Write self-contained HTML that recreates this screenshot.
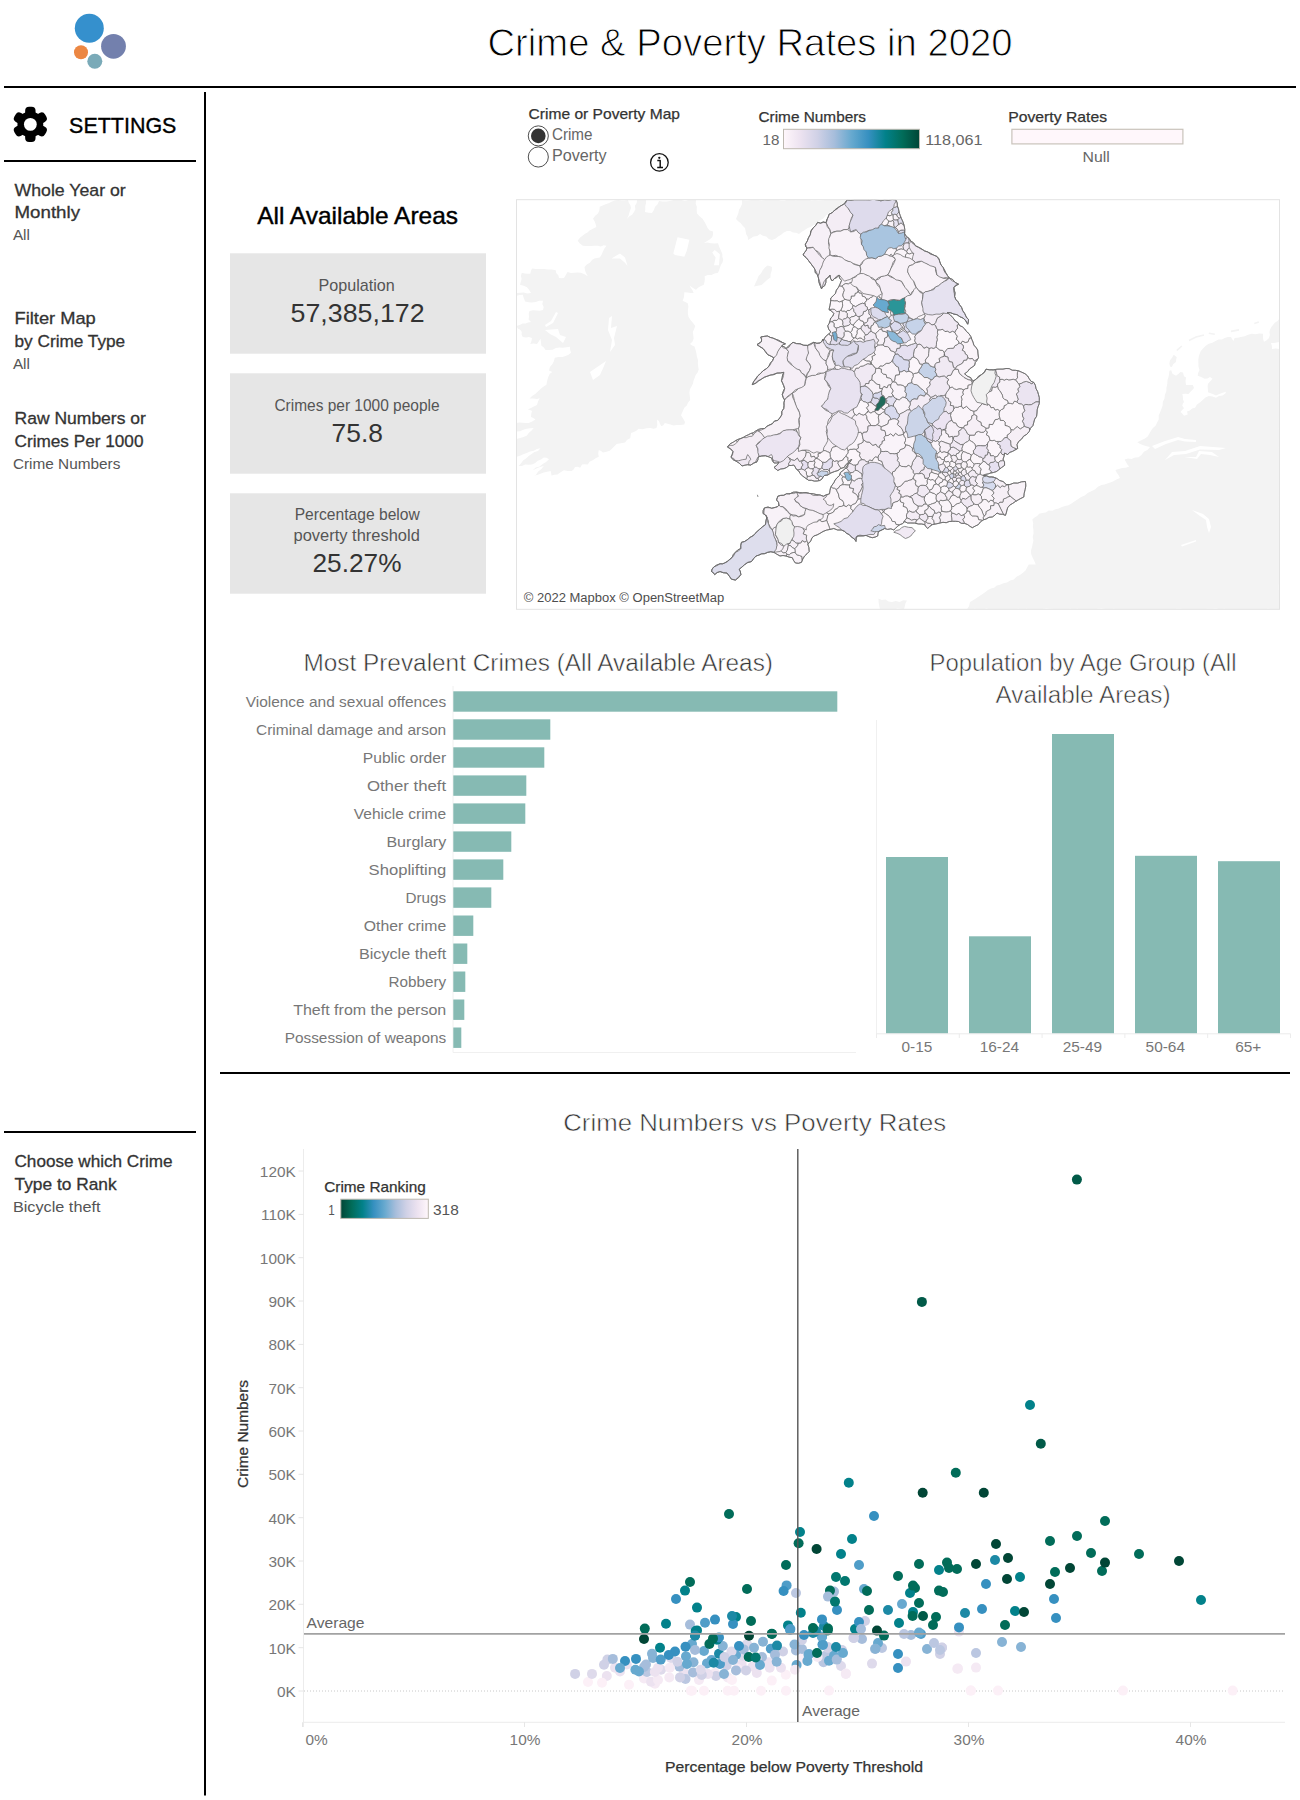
<!DOCTYPE html>
<html lang="en"><head><meta charset="utf-8"><title>Crime &amp; Poverty Rates in 2020</title>
<style>html,body{margin:0;padding:0;background:#fff}body{width:1300px;height:1800px;overflow:hidden}svg{display:block}text{font-family:"Liberation Sans", sans-serif}</style>
</head><body>
<svg width="1300" height="1800" viewBox="0 0 1300 1800">
<defs>
<linearGradient id="pubugn" x1="0" x2="1" y1="0" y2="0">
<stop offset="0.0000" stop-color="#fff7fb"/>
<stop offset="0.1250" stop-color="#ece2f0"/>
<stop offset="0.2500" stop-color="#d0d1e6"/>
<stop offset="0.3750" stop-color="#a6bddb"/>
<stop offset="0.5000" stop-color="#67a9cf"/>
<stop offset="0.6250" stop-color="#3690c0"/>
<stop offset="0.7500" stop-color="#02818a"/>
<stop offset="0.8750" stop-color="#016c59"/>
<stop offset="1.0000" stop-color="#014636"/>
</linearGradient>
<linearGradient id="pubugnr" x1="1" x2="0" y1="0" y2="0">
<stop offset="0.0000" stop-color="#fff7fb"/>
<stop offset="0.1250" stop-color="#ece2f0"/>
<stop offset="0.2500" stop-color="#d0d1e6"/>
<stop offset="0.3750" stop-color="#a6bddb"/>
<stop offset="0.5000" stop-color="#67a9cf"/>
<stop offset="0.6250" stop-color="#3690c0"/>
<stop offset="0.7500" stop-color="#02818a"/>
<stop offset="0.8750" stop-color="#016c59"/>
<stop offset="1.0000" stop-color="#014636"/>
</linearGradient>
</defs>
<rect width="1300" height="1800" fill="#fff"/>
<g id="logo">
<circle cx="89.3" cy="28.3" r="14.5" fill="#3590cd"/>
<circle cx="113.5" cy="46.3" r="12.4" fill="#7380ad"/>
<circle cx="81" cy="52.3" r="7" fill="#ec8743"/>
<circle cx="94.8" cy="61.3" r="7.5" fill="#7aaab8"/>
</g>
<text x="487.5" y="56.4" font-size="39.3" fill="#000" textLength="525.0" lengthAdjust="spacingAndGlyphs" stroke="#fff" stroke-width="1.0">Crime &amp; Poverty Rates in 2020</text>
<line x1="4.0" y1="87.0" x2="1296.0" y2="87.0" stroke="#000" stroke-width="2"/>
<line x1="205.0" y1="92.0" x2="205.0" y2="1795.5" stroke="#000" stroke-width="2"/>
<g id="gear" transform="translate(30.35,124.4)" fill="#000">
<rect x="-5.2" y="-17.7" width="10.4" height="13" rx="4" transform="rotate(0)"/>
<rect x="-5.2" y="-17.7" width="10.4" height="13" rx="4" transform="rotate(60)"/>
<rect x="-5.2" y="-17.7" width="10.4" height="13" rx="4" transform="rotate(120)"/>
<rect x="-5.2" y="-17.7" width="10.4" height="13" rx="4" transform="rotate(180)"/>
<rect x="-5.2" y="-17.7" width="10.4" height="13" rx="4" transform="rotate(240)"/>
<rect x="-5.2" y="-17.7" width="10.4" height="13" rx="4" transform="rotate(300)"/>
<path fill-rule="evenodd" d="M0,-12.9A12.9,12.9 0 1 1 0,12.9A12.9,12.9 0 1 1 0,-12.9Z"/>
<circle cx="0" cy="0" r="6.4" fill="#fff"/>
</g>
<text x="69.1" y="133.0" font-size="22.4" fill="#000" textLength="107.3" lengthAdjust="spacingAndGlyphs" stroke="#000" stroke-width="0.35">SETTINGS</text>
<line x1="4.0" y1="161.0" x2="196.0" y2="161.0" stroke="#000" stroke-width="2"/>
<text x="14.5" y="195.5" font-size="16.8" fill="#333" textLength="111.2" lengthAdjust="spacingAndGlyphs" stroke="#333" stroke-width="0.3">Whole Year or</text>
<text x="14.5" y="218.1" font-size="16.8" fill="#333" textLength="65.5" lengthAdjust="spacingAndGlyphs" stroke="#333" stroke-width="0.3">Monthly</text>
<text x="12.9" y="240.4" font-size="14.4" fill="#555" textLength="17.0" lengthAdjust="spacingAndGlyphs">All</text>
<text x="14.5" y="323.9" font-size="16.8" fill="#333" textLength="81.3" lengthAdjust="spacingAndGlyphs" stroke="#333" stroke-width="0.3">Filter Map</text>
<text x="14.5" y="346.8" font-size="16.8" fill="#333" textLength="110.7" lengthAdjust="spacingAndGlyphs" stroke="#333" stroke-width="0.3">by Crime Type</text>
<text x="12.9" y="368.7" font-size="14.4" fill="#555" textLength="17.0" lengthAdjust="spacingAndGlyphs">All</text>
<text x="14.5" y="423.6" font-size="16.8" fill="#333" textLength="131.4" lengthAdjust="spacingAndGlyphs" stroke="#333" stroke-width="0.3">Raw Numbers or</text>
<text x="14.5" y="446.7" font-size="16.8" fill="#333" textLength="129.0" lengthAdjust="spacingAndGlyphs" stroke="#333" stroke-width="0.3">Crimes Per 1000</text>
<text x="12.9" y="468.5" font-size="14.4" fill="#555" textLength="107.5" lengthAdjust="spacingAndGlyphs">Crime Numbers</text>
<line x1="4.0" y1="1132.0" x2="196.0" y2="1132.0" stroke="#000" stroke-width="2"/>
<text x="14.5" y="1166.5" font-size="16.8" fill="#333" textLength="158.0" lengthAdjust="spacingAndGlyphs" stroke="#333" stroke-width="0.3">Choose which Crime</text>
<text x="14.5" y="1189.5" font-size="16.8" fill="#333" textLength="102.1" lengthAdjust="spacingAndGlyphs" stroke="#333" stroke-width="0.3">Type to Rank</text>
<text x="12.9" y="1211.8" font-size="14.4" fill="#555" textLength="87.6" lengthAdjust="spacingAndGlyphs">Bicycle theft</text>
<text x="528.6" y="119.0" font-size="14.8" fill="#333" textLength="151.4" lengthAdjust="spacingAndGlyphs" stroke="#333" stroke-width="0.25">Crime or Poverty Map</text>
<circle cx="538.3" cy="135.9" r="10.05" fill="#fff" stroke="#3c3c3c" stroke-width="0.9"/>
<circle cx="538.3" cy="135.9" r="7.3" fill="#333"/>
<circle cx="538.3" cy="157" r="10.05" fill="#fff" stroke="#3c3c3c" stroke-width="0.9"/>
<text x="551.9" y="139.7" font-size="15.6" fill="#666" textLength="40.6" lengthAdjust="spacingAndGlyphs">Crime</text>
<text x="551.9" y="160.8" font-size="15.6" fill="#666" textLength="54.8" lengthAdjust="spacingAndGlyphs">Poverty</text>
<circle cx="659.4" cy="162.4" r="8.8" fill="#fff" stroke="#111" stroke-width="1.3"/>
<path d="M657.3,160.5h2.9v6.9M657.2,167.4h5.8" fill="none" stroke="#111" stroke-width="1.45" stroke-linejoin="round"/>
<circle cx="659.3" cy="157.8" r="1.15" fill="#111"/>
<text x="758.5" y="122.0" font-size="14.8" fill="#333" textLength="107.5" lengthAdjust="spacingAndGlyphs" stroke="#333" stroke-width="0.25">Crime Numbers</text>
<text x="762.5" y="145.2" font-size="14.8" fill="#666" textLength="16.9" lengthAdjust="spacingAndGlyphs">18</text>
<rect x="783.5" y="129.3" width="136" height="19.4" fill="url(#pubugn)" stroke="#bdb8b0" stroke-width="1"/>
<text x="925.2" y="145.2" font-size="14.8" fill="#666" textLength="57.3" lengthAdjust="spacingAndGlyphs">118,061</text>
<text x="1008.3" y="122.0" font-size="14.8" fill="#333" textLength="98.7" lengthAdjust="spacingAndGlyphs" stroke="#333" stroke-width="0.25">Poverty Rates</text>
<rect x="1011.9" y="129.3" width="171" height="14.6" fill="#fff7fb" stroke="#c9c3bb" stroke-width="1.2"/>
<text x="1082.5" y="162.0" font-size="14.8" fill="#666" textLength="27.3" lengthAdjust="spacingAndGlyphs">Null</text>
<text x="257.2" y="223.9" font-size="23.2" fill="#000" textLength="200.8" lengthAdjust="spacingAndGlyphs" stroke="#000" stroke-width="0.4">All Available Areas</text>
<rect x="230.0" y="253.3" width="256.0" height="100.4" fill="#e6e6e6"/>
<rect x="230.0" y="373.3" width="256.0" height="100.4" fill="#e6e6e6"/>
<rect x="230.0" y="493.3" width="256.0" height="100.4" fill="#e6e6e6"/>
<text x="318.5" y="290.6" font-size="16.2" fill="#555" textLength="76.3" lengthAdjust="spacingAndGlyphs">Population</text>
<text x="290.6" y="321.6" font-size="25.4" fill="#333" textLength="134.0" lengthAdjust="spacingAndGlyphs">57,385,172</text>
<text x="274.4" y="410.6" font-size="16.2" fill="#555" textLength="165.2" lengthAdjust="spacingAndGlyphs">Crimes per 1000 people</text>
<text x="331.6" y="441.6" font-size="25.4" fill="#333" textLength="51.3" lengthAdjust="spacingAndGlyphs">75.8</text>
<text x="294.7" y="520.3" font-size="16.2" fill="#555" textLength="125.1" lengthAdjust="spacingAndGlyphs">Percentage below</text>
<text x="293.5" y="541.1" font-size="16.2" fill="#555" textLength="126.3" lengthAdjust="spacingAndGlyphs">poverty threshold</text>
<text x="312.5" y="572.3" font-size="25.4" fill="#333" textLength="89.0" lengthAdjust="spacingAndGlyphs">25.27%</text>
<text x="303.4" y="670.6" font-size="23.3" fill="#333" textLength="469.6" lengthAdjust="spacingAndGlyphs" stroke="#fff" stroke-width="0.5">Most Prevalent Crimes (All Available Areas)</text>
<line x1="453.0" y1="686.0" x2="453.0" y2="1052.5" stroke="#f0f0f0" stroke-width="1"/>
<line x1="453.0" y1="1052.5" x2="856.0" y2="1052.5" stroke="#f0f0f0" stroke-width="1"/>
<rect x="453.3" y="691.3" width="384.0" height="20.4" fill="#86bab3"/>
<text x="245.7" y="706.7" font-size="15" fill="#777" textLength="200.5" lengthAdjust="spacingAndGlyphs">Violence and sexual offences</text>
<rect x="453.3" y="719.3" width="97.0" height="20.4" fill="#86bab3"/>
<text x="256.0" y="734.7" font-size="15" fill="#777" textLength="190.2" lengthAdjust="spacingAndGlyphs">Criminal damage and arson</text>
<rect x="453.3" y="747.3" width="91.0" height="20.4" fill="#86bab3"/>
<text x="362.8" y="762.7" font-size="15" fill="#777" textLength="83.4" lengthAdjust="spacingAndGlyphs">Public order</text>
<rect x="453.3" y="775.4" width="73.0" height="20.4" fill="#86bab3"/>
<text x="366.9" y="790.8" font-size="15" fill="#777" textLength="79.3" lengthAdjust="spacingAndGlyphs">Other theft</text>
<rect x="453.3" y="803.4" width="72.0" height="20.4" fill="#86bab3"/>
<text x="353.8" y="818.8" font-size="15" fill="#777" textLength="92.4" lengthAdjust="spacingAndGlyphs">Vehicle crime</text>
<rect x="453.3" y="831.4" width="58.0" height="20.4" fill="#86bab3"/>
<text x="386.4" y="846.8" font-size="15" fill="#777" textLength="59.8" lengthAdjust="spacingAndGlyphs">Burglary</text>
<rect x="453.3" y="859.4" width="50.0" height="20.4" fill="#86bab3"/>
<text x="368.6" y="874.8" font-size="15" fill="#777" textLength="77.6" lengthAdjust="spacingAndGlyphs">Shoplifting</text>
<rect x="453.3" y="887.4" width="38.0" height="20.4" fill="#86bab3"/>
<text x="405.5" y="902.8" font-size="15" fill="#777" textLength="40.7" lengthAdjust="spacingAndGlyphs">Drugs</text>
<rect x="453.3" y="915.5" width="20.0" height="20.4" fill="#86bab3"/>
<text x="363.8" y="930.9" font-size="15" fill="#777" textLength="82.4" lengthAdjust="spacingAndGlyphs">Other crime</text>
<rect x="453.3" y="943.5" width="14.0" height="20.4" fill="#86bab3"/>
<text x="358.9" y="958.9" font-size="15" fill="#777" textLength="87.3" lengthAdjust="spacingAndGlyphs">Bicycle theft</text>
<rect x="453.3" y="971.5" width="12.0" height="20.4" fill="#86bab3"/>
<text x="388.5" y="986.9" font-size="15" fill="#777" textLength="57.7" lengthAdjust="spacingAndGlyphs">Robbery</text>
<rect x="453.3" y="999.5" width="11.0" height="20.4" fill="#86bab3"/>
<text x="293.2" y="1014.9" font-size="15" fill="#777" textLength="153.0" lengthAdjust="spacingAndGlyphs">Theft from the person</text>
<rect x="453.3" y="1027.5" width="8.0" height="20.4" fill="#86bab3"/>
<text x="284.7" y="1042.9" font-size="15" fill="#777" textLength="161.5" lengthAdjust="spacingAndGlyphs">Possession of weapons</text>
<text x="1083.0" y="671.3" font-size="23" fill="#333" text-anchor="middle" textLength="307.0" lengthAdjust="spacingAndGlyphs" stroke="#fff" stroke-width="0.55">Population by Age Group (All</text>
<text x="1083.0" y="702.8" font-size="23" fill="#333" text-anchor="middle" textLength="175.0" lengthAdjust="spacingAndGlyphs" stroke="#fff" stroke-width="0.55">Available Areas)</text>
<line x1="876.5" y1="720.0" x2="876.5" y2="1038.0" stroke="#f0f0f0" stroke-width="1"/>
<line x1="876.5" y1="1033.8" x2="1290.5" y2="1033.8" stroke="#ececec" stroke-width="1"/>
<rect x="886.0" y="857.0" width="62.0" height="176.2" fill="#86bab3"/>
<rect x="969.0" y="936.3" width="62.0" height="96.9" fill="#86bab3"/>
<rect x="1052.0" y="734.0" width="62.0" height="299.2" fill="#86bab3"/>
<rect x="1135.0" y="855.8" width="62.0" height="177.4" fill="#86bab3"/>
<rect x="1218.0" y="861.2" width="62.0" height="172.0" fill="#86bab3"/>
<line x1="876.5" y1="1033.8" x2="876.5" y2="1038.0" stroke="#ececec" stroke-width="1"/>
<line x1="959.3" y1="1033.8" x2="959.3" y2="1038.0" stroke="#ececec" stroke-width="1"/>
<line x1="1042.1" y1="1033.8" x2="1042.1" y2="1038.0" stroke="#ececec" stroke-width="1"/>
<line x1="1124.9" y1="1033.8" x2="1124.9" y2="1038.0" stroke="#ececec" stroke-width="1"/>
<line x1="1207.7" y1="1033.8" x2="1207.7" y2="1038.0" stroke="#ececec" stroke-width="1"/>
<line x1="1290.5" y1="1033.8" x2="1290.5" y2="1038.0" stroke="#ececec" stroke-width="1"/>
<text x="916.9" y="1052.0" font-size="15.4" fill="#777" text-anchor="middle">0-15</text>
<text x="999.4" y="1052.0" font-size="15.4" fill="#777" text-anchor="middle">16-24</text>
<text x="1082.4" y="1052.0" font-size="15.4" fill="#777" text-anchor="middle">25-49</text>
<text x="1165.3" y="1052.0" font-size="15.4" fill="#777" text-anchor="middle">50-64</text>
<text x="1248.2" y="1052.0" font-size="15.4" fill="#777" text-anchor="middle">65+</text>
<line x1="220.0" y1="1073.0" x2="1290.0" y2="1073.0" stroke="#000" stroke-width="2"/>
<text x="563.2" y="1130.7" font-size="24" fill="#333" textLength="383.0" lengthAdjust="spacingAndGlyphs" stroke="#fff" stroke-width="0.55">Crime Numbers vs Poverty Rates</text>
<line x1="303.5" y1="1149.0" x2="303.5" y2="1727.0" stroke="#ececec" stroke-width="1"/>
<line x1="303.5" y1="1722.3" x2="1285.0" y2="1722.3" stroke="#ececec" stroke-width="1"/>
<line x1="298.5" y1="1691.0" x2="303.5" y2="1691.0" stroke="#e6e6e6" stroke-width="1"/>
<text x="295.8" y="1697.0" font-size="15.4" fill="#777" text-anchor="end">0K</text>
<line x1="298.5" y1="1647.7" x2="303.5" y2="1647.7" stroke="#e6e6e6" stroke-width="1"/>
<text x="295.8" y="1653.7" font-size="15.4" fill="#777" text-anchor="end">10K</text>
<line x1="298.5" y1="1604.3" x2="303.5" y2="1604.3" stroke="#e6e6e6" stroke-width="1"/>
<text x="295.8" y="1610.3" font-size="15.4" fill="#777" text-anchor="end">20K</text>
<line x1="298.5" y1="1561.0" x2="303.5" y2="1561.0" stroke="#e6e6e6" stroke-width="1"/>
<text x="295.8" y="1567.0" font-size="15.4" fill="#777" text-anchor="end">30K</text>
<line x1="298.5" y1="1517.7" x2="303.5" y2="1517.7" stroke="#e6e6e6" stroke-width="1"/>
<text x="295.8" y="1523.7" font-size="15.4" fill="#777" text-anchor="end">40K</text>
<line x1="298.5" y1="1474.3" x2="303.5" y2="1474.3" stroke="#e6e6e6" stroke-width="1"/>
<text x="295.8" y="1480.3" font-size="15.4" fill="#777" text-anchor="end">50K</text>
<line x1="298.5" y1="1431.0" x2="303.5" y2="1431.0" stroke="#e6e6e6" stroke-width="1"/>
<text x="295.8" y="1437.0" font-size="15.4" fill="#777" text-anchor="end">60K</text>
<line x1="298.5" y1="1387.7" x2="303.5" y2="1387.7" stroke="#e6e6e6" stroke-width="1"/>
<text x="295.8" y="1393.7" font-size="15.4" fill="#777" text-anchor="end">70K</text>
<line x1="298.5" y1="1344.4" x2="303.5" y2="1344.4" stroke="#e6e6e6" stroke-width="1"/>
<text x="295.8" y="1350.4" font-size="15.4" fill="#777" text-anchor="end">80K</text>
<line x1="298.5" y1="1301.0" x2="303.5" y2="1301.0" stroke="#e6e6e6" stroke-width="1"/>
<text x="295.8" y="1307.0" font-size="15.4" fill="#777" text-anchor="end">90K</text>
<line x1="298.5" y1="1257.7" x2="303.5" y2="1257.7" stroke="#e6e6e6" stroke-width="1"/>
<text x="295.8" y="1263.7" font-size="15.4" fill="#777" text-anchor="end">100K</text>
<line x1="298.5" y1="1214.4" x2="303.5" y2="1214.4" stroke="#e6e6e6" stroke-width="1"/>
<text x="295.8" y="1220.4" font-size="15.4" fill="#777" text-anchor="end">110K</text>
<line x1="298.5" y1="1171.0" x2="303.5" y2="1171.0" stroke="#e6e6e6" stroke-width="1"/>
<text x="295.8" y="1177.0" font-size="15.4" fill="#777" text-anchor="end">120K</text>
<line x1="302.5" y1="1722.3" x2="302.5" y2="1727.0" stroke="#e6e6e6" stroke-width="1"/>
<text x="305.4" y="1745.0" font-size="15.4" fill="#777">0%</text>
<line x1="524.5" y1="1722.3" x2="524.5" y2="1727.0" stroke="#e6e6e6" stroke-width="1"/>
<text x="525.0" y="1745.0" font-size="15.4" fill="#777" text-anchor="middle">10%</text>
<line x1="746.5" y1="1722.3" x2="746.5" y2="1727.0" stroke="#e6e6e6" stroke-width="1"/>
<text x="747.0" y="1745.0" font-size="15.4" fill="#777" text-anchor="middle">20%</text>
<line x1="968.5" y1="1722.3" x2="968.5" y2="1727.0" stroke="#e6e6e6" stroke-width="1"/>
<text x="969.0" y="1745.0" font-size="15.4" fill="#777" text-anchor="middle">30%</text>
<line x1="1190.5" y1="1722.3" x2="1190.5" y2="1727.0" stroke="#e6e6e6" stroke-width="1"/>
<text x="1191.0" y="1745.0" font-size="15.4" fill="#777" text-anchor="middle">40%</text>
<text x="794.0" y="1772.3" font-size="14.8" fill="#333" text-anchor="middle" textLength="258.0" lengthAdjust="spacingAndGlyphs" stroke="#333" stroke-width="0.25">Percentage below Poverty Threshold</text>
<text transform="translate(247.6,1434) rotate(-90)" font-size="14.8" fill="#333" stroke="#333" stroke-width="0.25" text-anchor="middle" textLength="108" lengthAdjust="spacingAndGlyphs">Crime Numbers</text>
<text x="324.2" y="1191.5" font-size="14.8" fill="#333" textLength="101.6" lengthAdjust="spacingAndGlyphs" stroke="#333" stroke-width="0.25">Crime Ranking</text>
<text x="328.3" y="1214.8" font-size="14.8" fill="#555" textLength="6.5" lengthAdjust="spacingAndGlyphs">1</text>
<rect x="340.8" y="1199.2" width="87.5" height="19.2" fill="url(#pubugnr)" stroke="#bdb8b0" stroke-width="1"/>
<text x="433.0" y="1214.8" font-size="14.8" fill="#555" textLength="25.8" lengthAdjust="spacingAndGlyphs">318</text>
<g id="map">
<clipPath id="mapclip"><rect x="516.5" y="199.7" width="763.0" height="409.59999999999997"/></clipPath>
<g clip-path="url(#mapclip)">
<path d="M599.7,206.8L602.7,205.6L605.6,204.2L608.6,203.2L611.5,201.8L614.8,200.5L618.3,200.0L621.5,200.4L624.8,200.5L628.0,200.0L628.8,202.7L630.4,205.2L631.0,208.0L629.6,211.7L628.6,215.4L627.0,219.0L629.1,216.4L632.1,214.8L634.0,212.0L635.4,209.2L634.9,205.8L636.7,203.1L637.0,200.0L640.0,200.1L643.0,199.8L646.0,200.0L646.1,203.0L645.3,206.0L645.3,209.0L645.0,212.0L648.5,212.8L652.0,213.0L653.9,210.1L655.1,206.7L657.6,204.2L659.0,201.0L662.7,201.6L666.4,201.5L670.1,200.9L673.8,200.0L677.5,199.8L681.2,199.9L684.9,200.9L688.6,199.9L692.3,199.9L696.0,200.0L695.7,203.4L696.8,206.8L696.7,210.2L697.0,213.6L699.6,216.3L702.5,218.8L704.6,222.0L706.2,224.9L707.6,227.9L709.7,230.5L713.0,231.4L713.1,234.4L712.2,237.3L709.6,239.6L706.7,241.3L703.8,243.2L707.3,242.6L710.9,243.2L714.5,243.6L718.0,243.2L719.3,246.9L720.9,250.6L722.4,254.2L722.3,256.8L723.2,259.3L722.6,262.3L720.9,264.9L719.9,267.8L719.1,270.4L718.0,272.8L714.6,273.5L711.4,275.0L707.9,275.0L704.6,276.2L704.9,279.1L704.5,281.9L703.8,284.7L701.0,286.0L698.3,287.6L696.0,289.8L692.6,287.7L689.4,285.5L690.9,287.9L692.5,290.3L693.6,293.0L690.5,293.1L687.4,292.4L684.3,292.3L684.2,295.2L683.7,298.1L682.6,300.8L685.2,302.0L687.7,303.3L688.4,306.6L687.9,310.1L687.9,313.5L688.5,316.8L690.5,320.1L693.1,322.9L695.3,326.0L694.2,329.1L692.8,332.0L693.3,335.4L693.6,338.8L692.4,341.8L690.0,344.0L692.1,345.5L694.5,346.5L695.6,349.9L696.4,353.4L697.0,357.0L698.0,360.1L697.9,363.3L698.2,366.5L698.7,369.6L697.6,372.4L695.7,374.9L694.7,377.7L693.6,380.6L692.9,383.7L691.5,386.5L689.9,389.3L689.4,392.5L689.8,396.3L690.2,400.0L688.1,402.5L686.8,405.5L684.3,407.7L683.2,410.2L682.1,412.8L681.0,415.3L683.1,418.6L685.0,422.0L684.3,424.6L680.6,425.0L677.0,425.1L673.3,425.5L670.5,424.6L667.6,423.8L664.8,423.0L663.5,425.0L661.5,426.3L660.0,424.1L659.2,421.4L657.2,419.5L657.1,422.3L657.3,425.2L656.4,428.0L653.5,428.7L650.5,428.0L646.5,428.2L642.6,429.2L638.6,428.8L636.3,430.7L633.8,432.1L631.0,433.0L630.7,435.6L630.2,438.2L627.2,439.8L625.0,442.4L622.2,443.0L619.4,443.5L616.6,444.0L614.4,446.3L612.1,448.5L609.8,450.8L606.4,451.7L603.0,452.5L601.1,451.0L598.8,450.0L598.2,453.4L598.8,456.8L595.6,458.2L592.7,460.2L589.5,461.8L587.8,464.4L584.9,464.2L582.0,464.4L580.2,467.8L577.7,466.8L575.0,467.0L573.8,469.3L571.8,471.0L567.9,471.0L564.0,470.3L560.6,472.3L557.4,474.5L554.4,474.7L551.5,475.4L551.2,473.2L550.6,471.0L547.2,471.8L543.7,472.4L540.5,473.7L537.9,474.8L535.2,475.5L532.8,477.0L536.0,474.7L538.2,471.4L541.4,469.1L543.8,466.0L540.0,467.1L536.3,468.4L532.8,470.3L535.7,467.6L539.6,466.4L542.7,464.0L546.1,462.0L549.0,459.3L546.6,457.8L543.8,457.6L541.0,459.6L537.8,460.8L535.2,463.1L532.0,464.4L528.6,464.7L525.2,464.6L521.9,466.0L518.5,466.0L520.9,463.4L523.1,460.6L526.0,458.5L528.7,456.1L531.6,454.1L534.4,451.9L538.0,450.9L540.5,448.3L536.9,449.0L533.7,450.8L530.1,451.6L526.7,452.9L523.3,454.3L520.0,455.7L516.5,456.8L516.7,453.2L516.6,449.7L516.2,446.1L516.3,442.6L516.5,439.0L520.1,438.0L523.6,436.9L527.0,435.6L528.9,432.8L531.6,430.6L533.7,428.0L530.2,428.2L526.7,428.8L523.3,429.8L520.1,431.3L516.5,431.4L516.4,428.6L515.9,425.8L516.5,423.0L519.5,422.4L522.5,422.7L525.6,422.9L528.6,423.0L532.2,421.6L535.4,419.5L533.3,418.1L531.0,417.0L531.2,413.9L532.0,411.0L530.0,409.9L527.8,409.4L530.9,407.9L533.9,406.5L537.0,405.0L538.0,401.6L539.6,398.4L541.6,395.8L543.8,393.3L546.8,393.5L549.7,394.5L552.7,394.6L555.7,395.0L559.0,392.9L562.4,391.0L565.8,389.0L567.1,386.5L568.4,384.0L569.5,386.6L571.0,389.0L574.7,390.0L578.5,390.4L575.2,391.2L572.3,392.9L569.2,394.0L565.7,394.7L562.2,395.6L558.9,396.6L555.7,398.4L552.0,398.1L548.2,399.0L544.5,397.9L540.7,397.9L537.0,399.1L533.2,398.6L529.5,398.4L532.1,395.9L535.2,394.0L537.9,391.5L540.5,389.0L543.3,386.7L546.4,384.8L547.1,381.0L548.2,377.3L549.8,373.8L552.3,372.0L549.0,370.5L549.9,367.1L552.3,364.3L553.9,361.2L554.8,357.8L558.6,357.0L562.5,357.0L565.5,355.9L568.5,354.7L571.0,352.7L570.1,349.8L570.0,346.8L566.5,347.2L563.0,347.8L559.4,347.5L555.9,348.1L552.6,349.8L549.1,350.0L545.5,350.0L543.8,347.5L541.3,345.6L541.0,342.2L540.5,338.8L538.7,341.4L537.0,344.0L533.6,343.6L530.3,344.0L531.5,341.1L532.0,338.0L529.0,337.0L525.8,337.6L522.7,337.0L521.6,334.6L521.8,332.0L520.2,329.8L517.8,328.4L516.5,326.0L519.6,324.9L522.7,323.6L525.6,323.6L528.2,322.4L531.0,322.0L528.6,319.4L529.0,316.6L528.7,313.8L529.5,311.0L532.8,310.3L536.3,310.6L539.7,310.8L543.0,310.0L543.7,306.9L542.3,303.9L543.0,300.8L539.2,300.8L535.7,301.9L532.0,302.5L528.6,302.3L525.2,301.6L523.8,298.2L522.7,294.8L519.6,295.1L516.5,295.7L516.5,293.0L520.1,292.8L523.8,292.5L527.4,293.5L531.0,293.0L529.2,289.9L527.0,287.2L523.6,285.8L520.0,284.7L520.8,281.8L521.6,278.9L520.9,275.7L521.8,272.8L524.6,273.6L527.4,273.8L530.3,273.7L530.9,271.1L532.0,268.6L535.9,269.0L539.9,269.1L543.9,269.0L547.8,269.6L551.8,269.5L555.7,270.3L556.2,273.1L558.3,275.3L559.0,278.0L561.5,278.2L564.0,278.0L565.8,275.0L567.5,272.0L570.8,272.9L574.2,272.8L577.6,272.4L581.0,272.8L584.5,274.3L587.8,276.2L586.1,273.3L585.0,270.3L584.5,267.0L586.8,264.5L589.9,262.8L592.0,260.0L594.4,258.6L597.0,258.0L599.7,257.6L601.6,254.7L602.9,251.6L604.4,248.5L606.5,245.8L603.7,245.2L600.8,246.4L598.0,245.8L594.2,245.7L590.4,245.9L586.6,246.0L582.8,245.8L579.9,243.6L577.7,240.7L579.9,237.8L582.8,235.6L585.0,233.8L587.5,232.5L589.5,230.5L592.9,228.7L596.3,227.0L595.6,224.1L594.6,221.3L593.0,218.7L595.2,215.8L598.0,213.6L599.4,210.3Z" fill="#f3f3f3"/>
<path d="M742.0,200.0L742.1,202.0L742.0,204.0L740.7,207.0L739.0,209.8L738.4,213.0L737.2,216.0L736.0,219.0L738.2,221.3L740.8,223.2L742.7,225.8L745.0,228.0L745.6,231.0L746.1,234.1L747.8,236.9L748.0,240.0L750.9,238.3L753.7,236.5L757.2,235.9L760.0,234.0L762.9,235.7L766.3,236.4L768.7,239.1L772.0,240.0L775.3,238.8L778.1,236.6L781.1,234.7L783.8,232.4L787.0,231.0L790.2,231.1L793.0,232.5L796.1,232.7L799.0,234.0L801.8,231.8L804.8,230.1L807.7,228.0L811.0,226.8L814.0,225.0L817.0,222.7L820.0,220.5L823.3,218.4L826.0,215.5L829.0,213.0L832.1,211.1L835.0,208.8L838.1,206.9L841.0,204.6L844.0,202.5L846.0,200.0L842.1,200.3L838.3,199.3L834.4,199.3L830.6,199.5L826.7,199.7L822.9,200.3L819.0,200.4L815.2,200.3L811.3,200.6L807.5,199.6L803.6,200.1L799.8,199.5L795.9,200.2L792.1,199.4L788.2,199.5L784.4,200.7L780.5,200.4L776.7,199.4L772.8,200.0L769.0,199.3L765.1,200.1L761.3,200.6L757.4,199.8L753.6,199.6L749.7,200.3L745.9,200.6Z" fill="#f3f3f3"/>
<path d="M754.0,286.5L755.5,283.0L757.2,279.6L758.5,276.0L760.9,273.5L762.6,270.4L764.7,267.7L767.5,265.5L769.8,266.1L772.0,267.0L771.8,270.5L770.6,273.9L770.5,277.5L767.3,279.8L764.4,282.4L761.5,285.0L757.7,285.7Z" fill="#f3f3f3"/>
<path d="M1279.5,318.5L1277.5,321.0L1274.8,322.8L1272.8,325.2L1271.3,327.0L1270.3,329.0L1269.4,331.9L1269.9,335.1L1269.0,338.0L1266.7,340.2L1264.0,341.8L1263.2,339.2L1263.0,336.5L1263.0,333.8L1259.3,333.5L1255.5,334.3L1251.8,333.8L1248.1,334.8L1244.6,336.3L1240.8,337.0L1237.7,337.8L1234.6,338.0L1233.4,341.0L1232.1,339.0L1231.0,337.0L1227.8,337.1L1224.8,338.1L1221.8,339.5L1218.6,339.4L1215.5,341.1L1212.3,342.7L1208.8,343.7L1205.8,345.7L1203.2,348.2L1200.8,351.0L1199.6,354.0L1198.7,357.1L1198.3,360.3L1198.4,363.6L1198.5,366.8L1199.5,370.0L1198.2,372.7L1197.7,375.7L1201.2,376.9L1204.5,378.8L1207.4,378.4L1210.0,377.0L1212.5,378.8L1210.3,381.3L1208.0,383.7L1207.6,386.6L1207.9,389.4L1208.0,392.3L1210.7,393.2L1213.4,394.2L1216.0,395.4L1219.3,394.1L1222.6,392.7L1226.0,391.7L1225.4,393.5L1222.5,395.4L1218.9,396.0L1216.0,397.8L1212.5,396.5L1208.8,396.0L1205.4,397.6L1202.7,400.1L1199.9,402.4L1197.0,404.6L1195.0,407.7L1192.2,408.6L1189.9,410.6L1187.0,411.4L1187.8,414.5L1184.0,415.7L1182.4,413.7L1180.5,412.0L1182.2,410.1L1184.0,408.3L1182.3,405.8L1182.7,403.7L1184.0,402.0L1183.0,399.4L1182.9,396.7L1182.3,394.0L1185.4,393.7L1188.5,394.0L1190.3,392.0L1192.3,390.1L1194.0,388.0L1192.8,385.0L1189.4,385.1L1186.0,385.0L1185.5,381.2L1186.0,377.5L1184.0,376.3L1183.0,372.6L1180.5,372.0L1178.3,373.9L1176.0,375.7L1172.5,373.8L1171.2,370.2L1169.4,370.8L1169.1,373.9L1168.5,377.0L1167.5,380.0L1167.3,383.8L1166.5,387.4L1166.3,391.2L1164.9,394.8L1164.5,398.5L1162.9,401.8L1162.6,405.4L1161.5,408.8L1160.1,412.2L1158.7,415.6L1158.7,419.4L1157.0,422.7L1155.6,425.7L1152.9,428.0L1151.0,430.7L1149.4,433.6L1147.7,436.5L1144.5,438.8L1140.8,440.5L1137.3,442.3L1140.3,444.0L1143.5,445.2L1146.7,446.2L1150.0,447.0L1147.4,449.9L1143.9,451.8L1141.5,454.9L1138.5,457.3L1135.0,457.6L1131.6,459.0L1128.0,458.4L1124.6,459.6L1126.0,462.0L1127.4,464.4L1129.2,466.5L1125.8,467.8L1122.3,468.1L1118.8,469.0L1115.4,470.0L1116.8,472.7L1118.6,475.2L1120.0,478.0L1116.4,479.5L1113.0,481.5L1110.2,482.6L1107.3,483.5L1104.5,484.6L1101.5,485.0L1097.9,486.8L1094.9,489.5L1091.3,491.3L1087.7,493.0L1084.8,495.6L1081.1,497.0L1077.9,499.2L1074.7,501.3L1071.5,503.5L1068.5,505.2L1065.1,505.9L1061.9,507.1L1058.8,508.6L1055.4,509.2L1052.4,510.8L1048.7,510.4L1045.8,512.5L1042.5,513.1L1039.2,513.8L1037.1,516.0L1034.5,517.6L1032.3,519.6L1033.2,523.0L1032.9,526.5L1033.4,530.0L1033.5,533.5L1032.7,536.9L1033.4,540.5L1032.6,543.9L1032.0,547.3L1030.9,550.7L1031.2,554.2L1032.7,557.7L1034.3,561.1L1035.8,564.6L1032.3,564.4L1028.8,564.6L1027.1,567.5L1025.5,570.4L1023.0,572.7L1019.9,575.0L1016.5,576.8L1013.8,579.6L1010.2,580.6L1007.0,582.5L1003.4,583.2L1000.0,584.7L996.8,585.6L994.1,587.7L991.0,588.6L988.0,590.0L985.1,592.2L982.2,594.3L979.2,596.2L976.2,598.3L973.1,600.2L970.0,602.0L969.1,605.9L967.0,609.3L971.0,609.2L974.9,608.7L978.9,609.7L982.8,609.4L986.8,608.6L990.7,609.7L994.7,608.9L998.6,609.3L1002.6,609.4L1006.6,609.1L1010.5,609.0L1014.5,609.2L1018.4,608.8L1022.4,609.8L1026.3,608.8L1030.3,609.8L1034.2,608.9L1038.2,609.0L1042.2,609.1L1046.1,608.6L1050.1,608.8L1054.0,609.1L1058.0,609.2L1061.9,609.8L1065.9,610.0L1069.8,608.7L1073.8,609.3L1077.8,608.8L1081.7,609.7L1085.7,609.1L1089.6,609.9L1093.6,609.4L1097.5,608.8L1101.5,608.6L1105.4,608.9L1109.4,609.8L1113.4,608.8L1117.3,609.3L1121.3,609.1L1125.2,609.1L1129.2,609.7L1133.1,608.9L1137.1,609.6L1141.1,609.5L1145.0,609.9L1149.0,609.3L1152.9,609.9L1156.9,609.2L1160.8,609.4L1164.8,609.5L1168.7,609.8L1172.7,609.9L1176.7,608.8L1180.6,608.8L1184.6,609.3L1188.5,609.7L1192.5,609.3L1196.4,609.0L1200.4,609.9L1204.3,609.0L1208.3,608.7L1212.3,608.7L1216.2,608.6L1220.2,609.6L1224.1,608.8L1228.1,609.6L1232.0,609.8L1236.0,610.0L1239.9,609.7L1243.9,609.2L1247.9,609.5L1251.8,609.8L1255.8,609.6L1259.7,609.0L1263.7,609.7L1267.6,608.8L1271.6,609.0L1275.5,610.0L1279.5,609.3L1279.5,605.4L1279.2,601.4L1279.9,597.5L1279.4,593.5L1278.8,589.6L1278.8,585.6L1279.2,581.7L1279.3,577.7L1280.1,573.8L1279.1,569.9L1280.0,565.9L1280.0,562.0L1279.4,558.0L1280.2,554.1L1279.9,550.1L1279.5,546.2L1279.2,542.3L1279.4,538.3L1280.1,534.4L1279.6,530.4L1279.1,526.5L1279.3,522.5L1279.5,518.6L1279.1,514.6L1279.6,510.7L1278.8,506.8L1279.9,502.8L1279.1,498.9L1278.9,494.9L1279.6,491.0L1279.2,487.0L1280.0,483.1L1279.5,479.1L1279.5,475.2L1280.0,471.3L1279.1,467.3L1279.8,463.4L1279.7,459.4L1279.4,455.5L1280.1,451.5L1278.8,447.6L1280.0,443.7L1279.0,439.7L1280.0,435.8L1279.0,431.8L1278.9,427.9L1279.5,423.9L1280.1,420.0L1279.2,416.0L1279.5,412.1L1279.7,408.2L1279.1,404.2L1279.5,400.3L1278.8,396.3L1279.4,392.4L1279.9,388.4L1279.3,384.5L1279.1,380.6L1278.9,376.6L1279.8,372.7L1279.4,368.7L1280.1,364.8L1279.8,360.8L1278.9,356.9L1280.1,352.9L1279.5,349.0L1275.8,348.4L1272.0,349.0L1271.9,345.9L1271.0,343.0L1273.9,343.1L1276.7,342.6L1279.5,342.0L1279.8,338.1L1279.7,334.2L1279.6,330.2L1279.2,326.3L1279.0,322.4Z" fill="#f3f3f3"/>
<path d="M1170.0,366.5L1169.4,363.4L1170.0,360.3L1172.1,357.7L1173.7,354.8L1176.8,357.2L1176.2,359.6L1176.0,362.0L1173.4,364.1L1171.8,367.0Z" fill="#f3f3f3"/>
<path d="M878.5,598.4L881.7,599.9L885.4,599.5L888.5,601.4L892.0,602.0L895.7,601.1L899.6,601.9L903.2,600.2L907.0,600.5L905.5,603.3L904.8,606.3L904.0,609.3L900.6,608.8L897.1,608.6L893.7,609.7L890.3,609.5L886.9,609.0L883.4,609.6L880.0,609.3L879.2,605.7L878.6,602.1Z" fill="#f3f3f3"/>
<path d="M673.3,253.4L677.5,237.3L689.4,239.8L686.8,250.8L684.3,256.8L675.0,255.0Z" fill="#fff"/>
<path d="M712.2,252.5L714.8,250.0L719.9,254.2L719.0,265.2L714.0,265.2L715.6,257.6Z" fill="#fff"/>
<path d="M611.5,258.5L620.0,253.4L625.0,257.6L627.6,266.0L625.0,262.7L620.0,258.5Z" fill="#fff"/>
<path d="M609.0,318.0L612.0,316.0L611.0,328.0L617.0,326.0L614.0,338.0L615.0,345.0L610.0,352.0L612.0,340.0L608.0,330.0Z" fill="#fff"/>
<path d="M556.0,312.0L558.0,313.0L553.0,323.0L546.0,327.0L545.0,325.0L551.0,321.0Z" fill="#fff"/>
<path d="M545.0,330.0L558.0,329.0L560.0,335.0L566.0,337.0L563.0,343.0L556.0,337.0L550.0,334.0Z" fill="#fff"/>
<path d="M590.0,372.0L606.0,361.0L604.0,366.0L600.0,375.0L593.0,380.0Z" fill="#fff"/>
<path d="M1152.0,446.0L1165.0,441.0L1178.0,437.0L1185.0,439.0L1196.0,440.0L1196.0,442.0L1185.0,441.5L1178.0,440.0L1166.0,444.0L1155.0,449.0Z" fill="#fff"/>
<path d="M1165.0,460.0L1172.0,452.0L1185.0,451.0L1200.0,446.0L1213.0,447.0L1226.0,448.0L1219.0,450.0L1200.0,449.5L1186.0,454.0L1174.0,455.0Z" fill="#fff"/>
<path d="M1184.0,457.0L1196.0,457.0L1199.0,451.0L1212.0,452.0L1219.0,457.0L1210.0,455.0L1201.0,454.0L1197.0,459.0Z" fill="#fff"/>
<path d="M1192.0,510.0L1203.0,514.0L1209.0,519.0L1211.0,527.0L1209.0,533.0L1207.0,527.0L1206.0,520.0L1200.0,516.0Z" fill="#fff"/>
<path d="M1181.0,545.0L1196.0,540.0L1196.0,541.5L1182.0,546.5Z" fill="#fff"/>
<path d="M1176.8,350.5l5,-4.5M1189,340.5l7,-3.5l8,-2M1208.8,333.2l6,1M1231,331.4l8,-1.5M1254.3,323.4l4.5,-1.5" stroke="#f3f3f3" stroke-width="1.6" fill="none"/>
<g stroke="#6a6a6a" stroke-width="0.75" stroke-linejoin="round">
<path d="M817.7,270.0L820.6,272.1L823.1,271.7L825.5,270.3L828.1,270.2L829.8,268.4L832.0,267.0L833.9,265.3L834.4,262.6L835.6,260.4L836.0,257.7L834.7,255.6L831.6,254.3L832.1,251.5L830.6,249.5L830.7,246.9L830.0,244.6L827.7,242.9L827.7,240.3L810.4,233.6L810.3,234.6L808.5,237.7L807.3,241.1L805.4,244.2L805.5,246.4L807.0,248.0L806.1,250.6L804.4,252.7L803.0,255.0L806.0,257.4L808.4,260.4L810.7,263.4L813.0,266.5L814.9,269.1L815.2,272.5L815.5,272.8Z" fill="#f0e9f3"/>
<path d="M827.7,240.3L829.3,238.2L831.2,236.5L834.7,237.5L835.3,233.7L838.2,233.7L840.3,232.5L842.3,230.9L844.9,230.4L846.7,228.6L849.3,228.1L850.9,226.0L851.0,225.7L839.3,206.8L837.7,207.8L834.8,209.9L832.4,212.6L829.2,214.2L828.2,217.1L826.8,219.8L826.0,222.7L823.3,221.9L820.4,223.2L817.7,222.4L815.7,225.5L813.0,228.0L810.9,231.0L810.4,233.6Z" fill="#f7f1f7"/>
<path d="M861.7,330.3L863.4,331.7L864.5,333.4L865.5,335.2L867.8,334.4L869.2,332.4L871.2,331.3L871.0,329.8L870.7,328.3L868.5,327.9L868.0,325.0L864.9,326.0L863.9,323.8L863.0,325.4L861.2,326.4L860.9,328.4Z" fill="#f0e9f3"/>
<path d="M776.6,425.9L775.8,428.1L774.1,430.0L775.5,433.1L773.8,434.9L773.9,437.5L771.6,439.1L773.6,440.8L775.4,442.6L775.1,445.8L776.1,448.2L778.0,449.9L780.0,451.6L782.1,451.0L783.9,452.4L785.9,452.2L788.0,451.2L789.2,449.3L790.8,447.8L791.4,445.5L791.7,443.1L793.3,441.1L792.9,438.5L794.3,436.4L796.3,434.6L797.6,432.5L796.0,429.5L797.7,427.5L795.3,426.2L792.9,425.0L789.9,427.4L787.7,425.2L785.1,424.8L782.3,425.9L779.8,425.0L777.5,423.7Z" fill="#f0e9f3"/>
<path d="M881.9,311.2L881.4,313.7L882.3,316.1L880.6,318.6L881.1,321.0L882.1,321.8L884.2,321.7L886.3,321.7L888.3,321.2L888.7,318.9L889.7,316.8L891.5,315.3L890.6,313.5L890.8,311.5L889.7,309.9L887.5,309.2L885.0,310.4L883.3,307.1L880.8,308.1L880.1,308.9Z" fill="#f7f1f7"/>
<path d="M797.8,508.6L799.0,511.0L799.0,513.3L796.6,515.4L799.6,517.9L797.9,520.1L799.2,520.9L800.5,521.6L802.8,520.9L805.2,520.7L807.6,519.9L810.1,522.3L812.4,520.8L814.8,521.1L817.2,521.9L819.5,520.1L821.9,521.7L824.3,521.3L826.7,520.4L827.3,518.2L827.7,515.9L829.0,513.9L826.6,512.8L827.5,509.3L826.2,507.4L823.2,506.7L823.5,503.6L820.1,503.3L819.0,501.2L818.7,498.5L816.7,497.2L814.6,498.6L812.0,499.0L810.6,502.0L808.1,502.5L805.0,502.0L802.5,502.7L800.3,503.9L798.8,506.4Z" fill="#f8f2f8"/>
<path d="M859.4,389.5L859.7,392.1L862.1,394.5L860.7,397.2L861.5,399.8L863.2,401.5L865.5,402.1L867.6,403.1L869.5,402.4L871.5,401.2L872.0,399.0L873.1,397.2L873.1,395.9L873.2,394.6L872.3,392.1L870.8,390.2L869.1,388.5L867.2,387.0L864.9,385.8L862.7,386.3L860.4,386.8Z" fill="#e0deee"/>
<path d="M888.0,223.2L886.9,225.2L888.8,225.8L890.4,226.7L891.6,228.3L893.0,227.5L894.7,227.4L893.8,225.1L894.0,222.6L892.9,220.4L890.8,221.2L888.6,221.1Z" fill="#f7f1f7"/>
<path d="M805.2,411.3L802.8,413.1L801.3,415.2L801.7,418.0L802.2,420.8L798.5,422.1L799.4,425.0L798.3,427.3L799.6,429.6L802.7,428.7L804.2,430.4L806.0,431.9L808.3,432.4L810.5,433.8L812.9,432.9L815.3,431.0L817.7,430.9L819.9,433.5L822.2,432.7L823.2,432.2L822.8,429.4L824.1,427.1L824.7,424.6L826.6,422.6L827.4,420.2L829.3,418.2L829.4,415.5L829.3,413.7L828.2,412.2L826.0,410.3L823.3,411.4L820.8,410.8L818.1,411.6L815.9,410.0L813.1,411.2L810.6,410.8L808.5,408.3L805.9,408.4L805.3,408.7Z" fill="#f0e9f3"/>
<path d="M909.4,248.0L907.5,249.3L906.6,251.4L907.3,253.2L909.5,254.0L911.8,253.1L914.0,253.6L915.6,251.6L916.1,249.0L917.1,246.6L914.8,247.4L912.7,247.2L910.5,246.2Z" fill="#f9f3f9"/>
<path d="M950.5,415.5L951.0,418.0L951.9,420.4L953.4,422.7L956.1,423.3L957.3,426.0L959.5,427.4L962.3,427.8L963.6,427.9L964.6,425.6L967.6,424.9L967.6,421.7L970.1,420.6L971.6,418.7L971.9,415.8L974.3,414.6L973.9,413.0L974.2,411.3L972.0,410.7L969.9,409.8L968.2,407.8L966.4,406.3L963.0,408.5L961.5,406.1L959.5,406.5L957.6,407.3L955.5,407.2L953.8,408.6L952.9,411.2L950.9,412.9Z" fill="#faf4f9"/>
<path d="M898.9,421.0L897.3,424.3L898.9,426.1L901.0,427.6L902.2,429.6L903.1,431.7L903.5,434.1L905.1,431.8L908.1,432.0L910.2,430.5L912.5,429.5L914.2,427.4L916.0,425.0L914.1,422.4L915.1,420.0L913.9,417.4L915.1,415.0L913.9,412.7L911.8,411.4L910.0,409.7L907.5,409.7L905.5,410.9L903.5,412.2L901.4,413.1L899.4,414.3L899.2,416.4L898.2,418.0L896.7,419.5Z" fill="#f0e9f3"/>
<path d="M857.2,451.5L860.0,452.7L859.4,455.8L860.6,457.8L862.2,459.7L864.4,460.0L866.0,461.5L868.1,462.1L869.6,460.0L872.4,460.8L873.7,458.3L875.5,457.0L878.2,457.5L878.6,455.2L880.4,453.5L880.9,451.3L880.8,449.1L879.5,447.4L877.4,446.6L876.0,444.2L872.9,445.3L871.1,444.0L869.5,442.1L866.9,442.0L865.0,440.9L863.2,439.3L863.0,442.2L860.6,443.5L857.8,444.5L858.5,448.0L856.2,449.4Z" fill="#f6eff6"/>
<path d="M917.8,508.6L916.1,510.5L916.7,512.5L918.5,513.6L919.8,515.1L921.6,514.5L923.6,514.4L925.1,513.0L924.8,510.7L927.2,509.5L928.4,507.8L928.1,505.5L928.1,505.4L926.0,503.9L923.9,504.0L922.3,506.0L920.2,505.9L918.1,506.0Z" fill="#f9f3f9"/>
<path d="M830.1,454.6L830.3,456.7L831.2,458.6L832.9,460.4L834.6,461.5L836.6,460.9L838.4,461.4L840.7,460.8L842.9,460.1L844.1,457.9L845.8,456.5L846.8,454.6L848.2,453.0L848.2,450.7L847.3,448.3L845.4,447.2L842.6,447.0L841.5,445.0L839.6,443.8L838.2,442.1L837.7,442.1L835.9,443.5L836.1,446.4L833.1,446.9L831.7,448.6L831.1,450.9L829.8,452.7Z" fill="#faf4f9"/>
<path d="M848.0,263.9L849.6,265.8L851.3,267.7L853.2,269.4L853.8,272.1L854.8,274.4L857.2,275.8L858.8,277.8L860.8,275.8L863.6,278.5L865.3,275.3L868.0,277.6L870.0,275.8L872.3,275.3L874.6,275.2L875.5,272.8L873.2,270.4L874.7,268.1L874.4,265.8L875.4,263.5L874.3,261.1L873.7,258.7L874.5,256.4L876.0,254.1L875.1,251.7L874.4,250.5L873.7,249.3L871.3,249.6L869.5,247.5L867.2,247.5L864.6,248.5L862.7,246.8L861.2,248.7L860.1,250.9L856.5,250.5L855.1,252.5L853.5,254.2L852.9,257.1L851.3,258.9L849.3,260.1L847.2,261.3Z" fill="#f7f1f7"/>
<path d="M921.6,366.3L920.4,368.2L919.0,370.1L918.5,372.4L920.5,373.9L922.5,375.5L924.2,377.6L927.2,377.5L929.3,378.8L931.6,380.0L933.4,378.7L934.7,376.7L936.9,376.0L936.5,373.8L935.1,371.8L935.9,369.3L934.9,367.2L932.3,366.7L930.0,365.7L928.4,363.2L925.8,362.8L924.0,363.3L922.4,364.2Z" fill="#c5d2e8"/>
<path d="M780.7,347.3L781.2,350.0L784.1,350.7L784.0,353.8L785.8,355.4L787.0,357.5L790.3,358.0L791.3,360.2L791.1,363.5L793.5,364.6L794.0,364.7L796.5,364.1L798.4,362.3L799.8,359.7L802.7,359.7L803.8,358.2L803.9,356.3L802.5,354.0L802.6,351.3L801.8,348.9L803.2,346.0L800.7,344.1L800.0,343.8L796.4,343.6L793.0,342.3L790.6,344.3L788.3,346.3L786.0,348.5L784.1,346.7L781.5,346.0L783.3,344.6L785.4,343.8L782.0,342.3L781.0,341.7L779.3,343.6L778.4,346.0Z" fill="#fbf5fa"/>
<path d="M997.4,443.8L1000.1,445.5L999.9,447.8L1001.7,449.6L1000.6,452.1L1002.0,454.4L1004.3,454.9L1004.6,453.0L1007.7,454.6L1009.6,452.4L1012.3,451.5L1015.0,450.0L1016.0,449.4L1016.2,448.7L1013.6,447.6L1011.3,446.3L1010.9,443.6L1010.8,440.8L1008.9,439.2L1007.1,437.5L1004.6,437.6L1002.8,439.7L1001.0,441.5L998.4,441.4Z" fill="#e8e2f0"/>
<path d="M843.9,332.7L844.1,335.1L843.5,337.2L841.4,338.4L841.6,338.8L843.7,340.3L846.1,340.6L848.4,341.5L850.9,341.7L852.4,339.8L854.1,338.0L852.0,336.6L851.8,334.0L850.3,332.2L848.0,331.0L845.4,331.2Z" fill="#f9f3f9"/>
<path d="M841.7,478.6L842.4,480.7L843.2,482.8L842.2,484.8L844.6,484.7L847.0,485.0L849.4,485.1L850.7,483.4L851.4,481.5L851.8,479.5L850.9,477.7L849.7,476.2L847.4,476.3L845.2,477.0L842.9,476.7Z" fill="#fbf6fb"/>
<path d="M772.5,547.6L775.0,547.6L777.1,548.9L779.2,550.0L781.3,551.2L783.2,552.9L785.8,552.6L787.3,550.3L787.9,547.8L788.4,545.2L788.0,544.2L786.3,541.8L783.7,541.9L781.5,540.7L778.4,542.1L776.1,541.2L774.4,538.8L772.4,540.4L771.6,542.6L770.9,544.8L770.2,547.1Z" fill="#f7f1f7"/>
<path d="M962.9,345.0L963.6,347.1L962.2,350.3L964.7,351.6L965.2,353.9L967.4,355.3L967.7,357.7L969.9,358.9L972.4,358.5L974.3,361.1L977.2,359.4L977.4,359.6L978.5,357.7L978.0,353.9L977.7,350.0L975.9,347.4L973.8,345.0L973.0,342.1L971.8,339.3L971.3,337.8L969.3,338.2L968.1,341.7L965.7,342.5L962.4,341.1L960.7,343.5Z" fill="#faf4f9"/>
<path d="M972.5,488.0L974.6,490.7L973.3,492.6L972.3,494.5L974.2,494.9L976.2,494.9L978.2,493.9L980.1,495.0L981.8,493.0L982.6,490.5L983.5,488.1L982.8,487.1L980.4,487.2L978.3,485.9L976.1,485.4L974.3,486.2Z" fill="#fbf6fb"/>
<path d="M852.5,328.4L852.0,330.7L850.3,332.2L851.8,334.0L852.0,336.6L854.1,338.0L855.6,337.8L856.2,335.5L857.3,333.4L857.1,330.9L858.6,329.0L857.0,328.2L855.6,327.0L853.9,326.6Z" fill="#fbf6fb"/>
<path d="M819.5,345.0L820.8,347.2L822.3,348.3L824.1,348.5L826.3,347.4L828.3,345.9L830.2,344.3L830.4,342.2L831.5,340.3L831.4,338.0L831.9,335.9L829.6,335.0L829.2,333.5L828.7,334.0L826.4,335.7L824.6,338.0L823.0,341.0L823.0,339.2L821.9,341.4L820.0,343.0L818.7,343.1Z" fill="#f8f2f8"/>
<path d="M895.7,297.2L896.7,299.5L897.8,301.7L898.9,303.4L901.1,304.0L902.2,305.7L904.4,305.6L906.1,307.0L908.1,307.7L910.5,307.2L913.1,307.1L914.4,304.1L916.2,302.2L919.3,303.3L921.2,301.7L922.4,299.8L922.5,297.3L924.0,295.5L923.0,293.5L921.1,291.8L921.2,289.3L922.5,286.5L920.2,284.9L917.6,284.2L915.3,285.4L912.9,286.3L910.6,287.6L907.7,284.6L905.3,285.5L902.9,286.0L900.6,287.8L898.1,287.4L897.4,289.9L895.5,291.9L895.5,294.6Z" fill="#f8f2f8"/>
<path d="M851.8,228.3L853.2,230.2L854.8,232.1L854.7,234.9L855.5,237.2L858.3,238.3L858.6,240.9L860.9,242.3L862.6,244.1L862.7,246.8L864.6,248.5L867.2,247.5L869.5,247.5L871.3,249.6L873.7,249.3L874.5,247.4L875.4,245.4L876.7,243.7L879.0,242.8L879.8,240.7L881.1,238.2L878.3,236.2L880.3,233.5L878.9,231.3L877.1,229.2L877.9,226.7L877.3,225.3L876.1,224.3L874.6,222.4L872.7,221.3L870.1,221.6L868.4,220.0L866.6,218.8L864.3,218.4L861.7,218.9L859.8,220.7L857.6,221.9L855.5,223.4L853.4,224.9L851.0,225.7L850.9,226.0Z" fill="#fbf6fb"/>
<path d="M892.8,210.3L891.3,212.3L892.0,214.5L892.9,215.2L894.7,214.3L896.7,214.6L898.5,212.9L899.0,211.8L898.5,208.9L897.7,206.8L896.8,206.5L894.6,207.4L892.4,208.1Z" fill="#dcdcee"/>
<path d="M880.9,484.6L881.0,487.3L877.3,488.2L877.7,491.0L877.1,493.4L874.8,494.9L874.1,497.2L873.5,499.6L874.8,501.4L875.3,504.0L877.2,505.4L880.1,506.0L879.8,509.2L882.4,510.1L883.5,512.1L883.7,512.1L884.9,509.4L887.5,508.6L889.5,506.9L892.3,506.3L892.9,503.0L895.4,502.0L898.1,501.2L899.9,499.4L900.5,498.1L901.0,496.8L901.2,494.6L898.8,493.2L899.9,490.6L897.1,489.4L897.7,487.0L895.4,485.9L894.8,482.9L892.4,482.1L890.8,480.2L888.4,479.4L886.2,480.6L883.9,481.5L881.5,482.3Z" fill="#f3ecf5"/>
<path d="M768.3,518.1L770.3,519.8L772.5,521.1L773.8,523.5L776.3,524.6L778.4,523.3L780.5,522.8L783.0,525.0L785.2,525.0L787.2,523.0L789.5,523.4L791.5,522.5L793.5,521.2L795.8,520.9L797.9,520.1L799.6,517.9L796.6,515.4L799.0,513.3L799.0,511.0L797.8,508.6L798.8,506.4L796.0,505.5L795.1,503.0L794.4,500.4L793.9,497.6L792.3,495.7L790.3,494.2L789.1,493.9L786.5,493.8L783.8,495.3L780.7,495.4L777.8,496.3L776.6,500.0L778.5,502.2L779.0,505.0L777.5,506.7L775.4,507.4L771.7,508.3L768.0,507.0L764.3,508.0L763.1,510.6L763.0,513.5L765.4,514.9L766.5,516.7Z" fill="#f0e9f3"/>
<path d="M975.9,478.9L975.0,481.0L977.3,483.3L976.1,485.4L978.3,485.9L980.4,487.2L982.8,487.1L983.9,485.0L982.4,482.3L986.0,480.8L984.9,478.1L985.5,475.9L983.6,475.6L983.2,475.4L983.0,475.4L983.1,475.4L981.8,474.9L980.1,474.0L978.6,474.4L977.6,475.7L976.4,476.8Z" fill="#f8f2f8"/>
<path d="M876.0,335.8L876.5,338.2L878.8,340.2L876.7,343.2L878.3,345.3L880.6,345.1L883.0,345.0L884.0,343.0L884.7,340.9L884.6,338.3L887.2,337.1L887.8,334.9L887.2,332.4L885.0,331.5L882.5,331.1L881.7,328.8L879.7,329.4L878.3,330.8L877.0,332.3L875.4,333.5Z" fill="#f7f1f7"/>
<path d="M806.9,478.6L806.3,478.7L806.8,479.0L808.6,480.3L811.5,480.3L814.3,481.1L817.2,481.0L819.0,480.6L819.0,480.5L818.2,478.3L815.9,478.1L814.7,475.8L812.6,475.1L810.9,475.8L809.1,476.4L807.2,476.1Z" fill="#f8f2f8"/>
<path d="M924.9,524.5L924.7,524.7L926.0,526.7L927.7,528.5L929.8,526.3L932.1,524.8L930.5,523.4L927.7,523.1L925.7,521.6L924.8,521.7Z" fill="#f6eff6"/>
<path d="M972.2,382.5L972.2,383.7L974.1,385.2L975.7,387.0L976.3,389.9L979.2,390.5L980.1,392.9L982.3,394.1L983.9,391.8L986.8,392.2L989.4,391.8L991.7,391.0L992.5,387.1L995.4,387.4L997.6,386.4L997.6,383.9L999.9,382.1L999.8,379.6L999.6,377.1L997.2,375.7L996.6,373.4L996.0,371.1L995.6,369.5L993.3,369.8L989.7,369.9L986.0,369.2L984.2,372.3L981.5,374.6L978.6,376.2L976.5,378.9L973.8,380.8L973.4,380.6Z" fill="#f0e9f3"/>
<path d="M895.2,354.4L898.0,354.1L899.7,356.4L902.0,357.1L903.6,359.6L906.0,360.0L908.6,360.3L910.7,359.7L911.8,357.6L913.9,357.1L913.5,354.3L914.1,351.8L914.5,349.2L916.9,347.2L917.3,344.6L915.9,342.9L913.8,343.7L911.6,344.4L909.5,345.1L907.3,346.0L904.8,344.9L902.6,345.3L900.4,346.0L899.7,348.1L896.8,348.5L896.4,350.9L895.0,352.4Z" fill="#e6e0f0"/>
<path d="M948.6,379.4L947.1,382.1L947.6,384.2L949.3,385.9L949.7,388.0L952.2,387.1L954.3,389.0L956.6,389.6L959.1,388.9L961.4,389.0L963.7,389.9L965.5,388.8L967.9,388.5L968.1,385.3L970.3,384.8L972.2,383.7L972.2,382.5L971.1,380.0L968.3,379.6L966.2,378.5L964.0,377.4L962.3,375.7L960.3,374.4L959.0,372.2L958.2,369.4L955.5,369.0L953.2,370.3L952.1,372.7L950.9,375.2L947.7,375.5L946.4,377.8Z" fill="#faf4f9"/>
<path d="M990.0,466.9L989.1,469.4L991.1,471.4L990.8,473.0L993.5,472.5L994.4,472.2L994.7,472.0L996.1,471.7L996.2,471.7L998.5,470.0L999.9,468.8L999.5,467.3L998.6,465.1L998.4,462.9L996.7,462.0L995.3,460.7L993.2,462.2L990.4,462.5L988.8,464.8Z" fill="#e6e0f0"/>
<path d="M1003.6,514.6L1005.4,515.4L1006.3,512.9L1006.9,510.3L1007.7,507.7L1009.8,505.1L1012.7,503.4L1015.4,501.5L1016.3,501.0L1010.2,496.1L1007.8,496.9L1005.8,498.2L1003.5,498.9L1002.8,502.2L999.9,502.1L998.3,503.9Z" fill="#f6eff6"/>
<path d="M847.9,457.6L847.7,459.9L848.4,461.7L848.6,462.0L849.4,460.7L851.7,459.4L850.1,462.0L849.3,462.9L849.7,463.3L851.6,464.1L853.4,465.2L855.6,465.2L857.8,464.5L858.6,462.1L859.9,460.3L862.2,459.7L860.6,457.8L859.4,455.8L860.0,452.7L857.2,451.5L856.2,449.4L854.0,448.9L852.0,449.3L850.0,449.3L848.2,450.7L848.2,453.0L846.8,454.6L845.8,456.5Z" fill="#fbf5fa"/>
<path d="M729.5,559.6L727.4,561.3L724.6,563.0L722.4,563.9L720.0,563.8L716.7,565.1L713.8,567.0L712.2,569.0L711.5,571.5L713.4,572.7L714.6,574.6L717.1,572.6L720.0,571.5L723.4,572.7L727.0,573.0L729.3,576.1L731.5,579.2L734.7,579.9Z" fill="#f7f1f7"/>
<path d="M979.1,507.0L981.0,508.9L982.1,511.2L982.9,513.7L984.1,516.0L986.0,514.5L986.2,511.6L988.5,510.4L990.7,509.1L990.5,505.9L994.0,505.5L994.3,502.8L992.9,500.8L990.8,500.1L988.6,502.1L986.6,499.7L984.5,499.4L982.4,500.0L981.6,502.2L979.6,503.2L978.1,504.6Z" fill="#faf4f9"/>
<path d="M853.5,416.2L851.6,417.9L851.3,420.5L849.6,422.3L848.5,424.4L849.3,426.7L851.9,427.3L853.4,429.8L855.6,431.0L857.6,432.6L860.8,432.3L862.2,434.8L863.4,432.4L866.8,432.1L867.9,429.6L868.0,426.2L871.0,425.5L869.8,423.3L868.3,421.2L867.0,419.1L866.8,416.4L865.5,414.2L863.3,415.0L861.2,414.4L859.1,413.0L856.9,415.4L854.8,414.2Z" fill="#f6eff6"/>
<path d="M872.0,399.0L871.5,401.2L869.5,402.4L872.0,403.0L873.8,405.1L876.1,406.0L877.8,405.9L879.1,404.9L879.2,402.7L880.2,400.7L878.7,399.4L877.1,398.2L874.9,398.0L873.1,397.2Z" fill="#dcdcee"/>
<path d="M873.8,381.1L875.2,383.0L877.1,384.3L879.7,384.7L879.6,388.5L882.4,388.7L883.9,386.5L887.1,387.9L888.3,385.1L890.8,384.9L891.5,383.5L892.5,382.3L891.8,379.5L889.8,378.0L886.8,377.5L886.2,374.6L883.4,374.0L881.4,372.4L881.4,369.0L878.6,368.3L877.1,368.4L875.7,368.2L875.5,370.8L874.9,373.2L872.3,375.0L871.9,377.5L871.7,380.0Z" fill="#f8f2f8"/>
<path d="M905.3,389.2L904.7,391.4L906.3,393.4L906.1,395.6L905.2,397.7L907.2,398.9L908.4,401.1L910.3,402.5L911.8,399.8L914.2,398.9L917.4,399.3L918.5,396.1L920.8,395.1L924.4,396.3L925.9,393.7L924.5,391.5L922.7,389.6L920.5,388.2L918.9,386.2L916.8,384.7L913.8,384.4L912.0,382.6L909.7,383.0L907.8,383.9L906.8,386.2L904.9,387.1Z" fill="#cfd8ec"/>
<path d="M886.7,201.0L887.2,203.5L887.3,206.0L889.3,206.1L890.8,207.2L892.4,208.1L894.6,207.4L896.8,206.5L897.7,206.8L897.4,206.0L897.2,202.9L896.0,200.0L892.2,199.5L888.5,200.4L885.8,200.0Z" fill="#f6eff6"/>
<path d="M924.1,499.4L924.9,501.7L926.0,503.9L928.1,505.4L930.4,504.5L932.7,503.6L935.2,502.9L936.9,500.9L936.2,499.1L936.2,497.3L936.4,495.5L934.5,493.6L932.0,492.8L929.7,491.7L928.0,493.6L925.8,494.9L924.5,497.0Z" fill="#fbf6fb"/>
<path d="M814.9,462.7L813.9,465.1L814.8,467.3L816.7,467.3L818.2,468.9L820.1,469.0L822.1,467.9L822.1,466.0L823.1,464.1L822.4,462.2L820.5,460.5L818.4,459.0L816.0,458.1L815.6,458.2L814.3,460.4Z" fill="#faf4f9"/>
<path d="M837.4,375.0L835.5,376.7L834.7,379.4L832.8,381.0L831.6,383.2L829.5,384.7L827.1,385.8L829.5,387.4L829.7,390.2L830.3,392.8L830.7,395.5L832.8,397.2L834.6,399.1L836.9,399.8L839.0,398.7L841.2,398.3L842.1,395.8L845.5,395.8L845.5,392.5L848.3,391.9L849.9,390.1L852.1,388.9L854.0,387.3L854.7,384.6L853.4,382.6L854.0,379.7L853.2,377.4L850.7,376.0L849.8,373.8L847.7,372.4L845.6,372.0L843.3,374.1L841.2,373.3L839.0,373.2Z" fill="#faf4f9"/>
<path d="M851.0,225.7L853.4,224.9L855.5,223.4L857.6,221.9L859.8,220.7L861.7,218.9L864.3,218.4L865.6,216.2L864.6,213.1L867.1,211.4L867.0,208.7L868.8,206.6L867.3,204.1L869.2,201.5L868.6,199.8L865.8,199.8L862.1,199.8L858.3,199.8L854.5,199.8L850.8,200.4L847.0,200.0L845.5,202.2L843.8,204.2L840.7,205.9L839.3,206.8Z" fill="#fbf5fa"/>
<path d="M999.0,413.2L999.1,415.4L999.7,417.6L1000.2,420.4L1003.5,420.5L1005.1,422.2L1005.0,425.4L1007.7,426.2L1009.9,427.3L1010.8,429.7L1013.3,430.1L1015.3,428.3L1017.3,426.6L1020.3,429.0L1022.3,427.7L1024.4,426.3L1024.0,423.8L1022.5,421.3L1023.9,418.6L1022.6,416.1L1022.4,413.5L1024.9,410.8L1024.0,408.3L1023.5,405.7L1021.6,403.9L1018.8,403.6L1016.8,401.9L1014.5,401.0L1012.7,403.9L1010.4,403.4L1008.1,403.1L1006.5,404.7L1004.2,405.7L1003.7,408.5L1001.5,409.5L999.8,411.0Z" fill="#faf4f9"/>
<path d="M788.4,545.2L790.8,545.8L792.5,547.8L794.8,548.7L796.4,547.1L797.8,545.3L798.4,543.0L795.8,542.9L794.1,541.1L792.1,539.9L790.1,540.7L790.0,543.3L788.0,544.2Z" fill="#f6eff6"/>
<path d="M875.2,278.3L875.5,280.6L875.2,282.9L877.1,285.2L876.6,287.5L875.6,289.8L874.4,292.1L875.8,294.3L878.3,294.9L879.3,297.4L881.3,298.6L883.6,297.7L886.2,297.8L888.4,296.5L891.0,296.7L893.4,296.1L895.5,294.6L895.5,291.9L897.4,289.9L898.1,287.4L897.7,284.6L894.7,283.7L893.1,281.8L893.1,278.7L890.6,277.5L888.0,278.8L885.6,277.8L883.2,276.5L880.7,276.6L878.1,276.7L875.7,276.0Z" fill="#fbf5fa"/>
<path d="M956.5,480.9L957.5,482.0L958.7,482.9L958.9,482.9L960.1,481.6L961.3,480.3L960.8,478.0L958.6,477.9L956.5,478.5Z" fill="#faf4f9"/>
<path d="M949.5,310.0L951.0,312.2L953.1,313.7L953.2,313.7L953.8,314.0L957.1,314.7L959.9,316.7L963.0,318.0L964.6,319.6L964.7,319.4L967.0,317.9L967.0,317.9L966.2,316.9L964.7,313.6L962.7,310.7L961.5,307.3L959.5,304.8L958.1,301.9L955.8,299.5L954.6,296.5L955.1,293.4L954.9,292.6L953.9,293.9L952.7,296.4L950.4,297.7L948.9,299.8L946.6,301.1L946.1,303.2L947.2,305.2L947.5,307.2L946.7,309.3Z" fill="#fbf6fb"/>
<path d="M978.8,466.4L981.1,469.0L980.4,471.5L980.1,474.0L981.8,474.9L983.1,475.4L985.5,474.4L988.2,473.9L990.8,473.0L990.8,473.0L991.1,471.4L989.1,469.4L990.0,466.9L988.8,464.8L986.8,463.8L985.4,461.8L983.1,461.3L982.0,462.9L980.4,464.0Z" fill="#fbf6fb"/>
<path d="M983.6,475.6L985.5,475.9L986.0,475.6L983.2,475.4Z" fill="#fbf6fb"/>
<path d="M868.7,405.7L866.3,407.8L868.3,410.4L866.6,412.7L868.6,411.7L870.9,413.2L872.9,411.8L875.0,411.6L875.9,409.9L876.6,408.0L876.1,406.0L873.8,405.1L872.0,403.0L869.5,402.4L867.6,403.1Z" fill="#f8f2f8"/>
<path d="M795.3,366.9L796.3,369.2L796.9,371.5L794.5,374.5L797.7,376.3L796.5,379.0L797.2,381.4L799.0,383.3L801.2,384.3L804.0,384.1L805.8,385.9L808.6,385.7L810.4,387.4L812.8,386.8L814.8,385.3L817.7,385.7L819.3,383.3L818.7,380.8L818.3,378.2L817.9,375.7L815.9,373.4L817.4,370.5L816.7,368.1L814.1,367.8L812.8,365.5L810.7,364.4L807.8,364.7L806.1,363.0L803.9,362.2L802.7,359.7L799.8,359.7L798.4,362.3L796.5,364.1L794.0,364.7Z" fill="#f8f2f8"/>
<path d="M857.4,292.6L855.1,293.4L854.6,295.9L851.3,296.0L851.0,298.6L849.8,300.4L850.3,302.4L851.5,304.0L853.1,305.4L855.7,306.7L857.9,305.2L860.3,304.0L862.6,303.2L865.2,304.1L864.9,302.2L866.8,300.8L866.4,298.9L865.1,296.9L862.4,296.2L862.0,293.2L859.0,292.8L858.1,290.3Z" fill="#fbf6fb"/>
<path d="M924.2,467.0L923.8,469.6L921.4,470.3L920.1,472.1L918.6,473.8L921.6,473.4L923.9,474.7L924.9,478.4L927.9,478.3L929.5,476.5L929.6,473.7L931.8,472.3L931.9,470.5L931.3,468.8L930.0,467.1L927.4,467.6L926.2,465.8Z" fill="#f0e9f3"/>
<path d="M834.1,323.3L833.9,326.6L836.3,328.1L838.7,327.5L841.0,326.3L843.6,327.1L843.9,326.5L842.8,324.5L843.0,322.3L842.4,320.3L840.6,319.1L838.6,318.5L836.8,320.4L834.0,320.3L832.0,321.7Z" fill="#fbf5fa"/>
<path d="M909.4,362.4L909.0,364.6L909.2,366.8L908.3,369.0L908.9,371.2L910.6,371.9L912.2,372.7L913.1,374.4L914.8,373.4L916.8,373.2L918.5,372.4L919.0,370.1L920.4,368.2L921.6,366.3L922.4,364.2L919.8,363.9L918.9,361.5L917.7,359.5L915.9,358.1L913.9,357.1L911.8,357.6L910.7,359.7L908.6,360.3Z" fill="#fbf5fa"/>
<path d="M922.5,286.5L921.2,289.3L921.1,291.8L923.0,293.5L924.0,295.5L926.4,296.8L929.0,297.0L931.2,298.8L934.2,297.5L936.3,299.6L938.9,299.9L941.3,301.3L944.0,301.1L946.6,301.1L948.9,299.8L950.4,297.7L952.7,296.4L953.9,293.9L954.9,292.6L954.4,290.3L953.8,287.3L956.1,285.6L958.5,284.2L955.2,282.5L952.7,279.5L949.2,278.0L947.4,275.5L945.8,272.8L945.0,271.0L944.7,271.2L941.9,270.1L939.7,272.5L936.7,270.3L934.2,271.3L932.0,274.0L929.4,273.9L926.7,273.6L924.1,273.8L924.8,276.6L923.0,278.4L922.6,280.8L919.8,282.3L920.2,284.9Z" fill="#fbf5fa"/>
<path d="M904.0,436.3L905.5,438.3L905.5,440.5L904.3,443.1L905.8,445.0L908.3,445.4L910.6,446.5L912.4,448.3L914.7,447.7L917.0,447.0L918.3,444.8L921.0,444.9L921.4,441.1L924.2,441.4L926.1,440.1L924.6,438.0L924.4,435.6L925.1,433.0L923.9,430.8L920.9,431.4L919.4,428.1L916.4,428.8L914.2,427.4L912.5,429.5L910.2,430.5L908.1,432.0L905.1,431.8L903.5,434.1L903.4,434.2Z" fill="#faf4f9"/>
<path d="M847.3,313.6L847.2,315.4L847.3,317.2L849.5,318.3L851.5,316.9L854.0,316.4L856.1,315.1L855.5,313.1L854.0,311.5L853.7,309.4L852.5,307.7L851.1,309.0L849.7,310.5L847.3,310.4L846.0,312.1Z" fill="#f8f2f8"/>
<path d="M786.3,454.7L787.4,456.8L789.5,458.3L791.9,459.9L794.4,460.5L797.4,458.2L799.4,461.6L802.2,460.7L802.7,460.4L803.8,458.5L805.3,456.7L805.9,454.5L806.3,452.3L805.8,450.4L803.2,450.4L800.8,449.8L798.4,448.4L796.0,447.7L793.2,449.2L790.8,447.8L789.2,449.3L788.0,451.2L785.9,452.2Z" fill="#f6eff6"/>
<path d="M920.3,304.4L922.4,306.4L921.8,309.1L923.2,311.2L923.8,313.6L925.1,315.7L923.7,318.6L924.5,320.9L926.4,322.9L928.5,322.5L930.3,323.7L932.0,325.0L934.2,324.4L935.8,322.6L936.6,320.0L937.7,317.8L940.2,316.6L942.1,315.0L943.6,313.1L944.5,310.7L946.7,309.3L947.5,307.2L947.2,305.2L946.1,303.2L946.6,301.1L944.0,301.1L941.3,301.3L938.9,299.9L936.3,299.6L934.2,297.5L931.2,298.8L929.0,297.0L926.4,296.8L924.0,295.5L922.5,297.3L922.4,299.8L921.2,301.7Z" fill="#f3ecf5"/>
<path d="M894.9,252.4L894.0,254.5L893.0,256.5L895.4,257.8L896.2,260.2L895.9,263.4L898.6,264.6L900.6,263.8L902.7,264.1L904.6,262.4L903.8,259.5L905.7,257.7L905.5,255.0L907.3,253.2L906.6,251.4L905.2,250.4L903.7,249.4L901.1,248.7L898.7,249.5L896.3,250.7Z" fill="#faf4f9"/>
<path d="M894.3,243.1L896.5,245.6L896.0,248.2L896.3,250.7L898.7,249.5L901.1,248.7L903.7,249.4L903.1,246.8L903.9,244.3L902.5,242.7L901.1,241.1L898.9,240.6L897.5,240.3L896.0,240.3L895.6,240.5Z" fill="#f6eff6"/>
<path d="M951.3,515.4L951.7,517.9L951.8,520.4L951.2,521.4L952.3,521.3L955.4,521.3L958.5,521.5L961.3,523.3L963.7,523.4L964.4,522.3L962.9,519.7L964.8,517.1L963.7,514.5L961.1,515.7L959.0,513.2L956.4,514.7L954.1,513.5L951.8,512.9Z" fill="#f3ecf5"/>
<path d="M896.6,336.8L897.9,339.0L898.1,341.5L899.9,343.5L900.4,346.0L902.6,345.3L904.8,344.9L907.3,346.0L909.5,345.1L911.6,344.4L913.8,343.7L915.9,342.9L914.7,340.8L915.3,338.7L914.8,336.5L916.2,334.4L914.6,332.6L912.2,332.4L910.2,331.4L907.4,332.2L905.6,330.8L904.1,328.7L901.6,329.0L900.1,330.6L899.1,332.8L897.3,334.0Z" fill="#fbf6fb"/>
<path d="M794.8,382.4L793.7,385.1L791.1,385.9L790.6,389.3L786.8,388.8L784.9,390.5L784.6,394.1L782.3,394.5L782.3,394.6L783.2,397.4L783.7,398.4L784.7,398.8L786.3,401.4L788.6,402.4L792.1,401.1L793.2,404.7L796.7,403.2L797.7,406.9L800.4,407.3L803.5,406.8L805.3,408.7L805.9,408.4L805.0,405.8L807.9,403.9L808.2,401.5L807.7,399.0L807.8,396.6L808.5,394.3L808.6,391.9L810.7,389.9L810.4,387.4L808.6,385.7L805.8,385.9L804.0,384.1L801.2,384.3L799.0,383.3L797.2,381.4Z" fill="#fbf5fa"/>
<path d="M899.4,374.6L895.7,375.1L895.0,377.5L894.7,380.1L893.3,382.0L896.0,382.3L897.5,385.1L900.3,385.0L902.9,385.5L904.9,387.1L906.8,386.2L907.8,383.9L909.7,383.0L912.0,382.6L911.7,380.5L912.4,378.5L913.4,376.6L913.1,374.4L912.2,372.7L910.6,371.9L908.9,371.2L906.6,371.8L904.1,370.3L901.8,371.6L899.5,371.9Z" fill="#faf4f9"/>
<path d="M969.2,437.6L969.3,440.1L971.3,441.3L973.3,442.5L974.8,444.2L975.7,446.6L978.0,445.7L980.5,445.7L983.0,445.9L985.5,445.8L987.5,443.7L988.5,441.8L990.0,440.3L989.5,438.1L988.8,436.1L986.4,434.8L987.6,431.9L985.6,430.5L983.6,432.1L981.2,432.4L978.5,431.4L976.2,432.1L974.6,435.1L972.2,435.1L969.7,435.1Z" fill="#f9f3f9"/>
<path d="M786.2,556.1L789.1,557.1L792.3,557.7L793.6,560.5L795.4,563.0L798.5,563.3L801.5,562.3L802.3,560.2L802.2,560.2L802.0,556.5L799.5,555.5L796.6,554.7L795.2,552.4L793.1,552.5L791.0,553.1L789.2,554.9L786.8,554.1Z" fill="#f8f2f8"/>
<path d="M951.0,496.2L950.0,498.6L948.3,500.2L949.7,502.2L951.1,504.2L951.7,506.6L954.0,506.5L955.5,504.7L957.4,503.7L959.5,503.2L961.1,501.8L961.3,500.5L960.3,498.8L959.6,497.0L957.2,497.2L955.3,495.6L953.2,495.0Z" fill="#faf4f9"/>
<path d="M944.8,356.3L947.8,357.0L948.3,359.5L949.4,361.7L952.5,362.3L952.8,364.9L953.5,367.4L955.5,368.8L956.6,366.4L958.6,365.3L960.9,364.2L962.8,362.9L963.8,360.4L966.7,360.2L967.7,357.7L967.4,355.3L965.2,353.9L964.7,351.6L962.2,350.3L963.6,347.1L962.9,345.0L960.7,343.5L959.2,343.0L957.2,344.6L954.9,345.7L953.5,348.2L950.6,348.3L947.7,348.6L945.8,350.4L944.3,352.7L944.4,353.6Z" fill="#efe8f3"/>
<path d="M857.5,319.9L856.0,321.6L854.5,323.2L853.3,325.0L853.9,326.6L855.6,327.0L857.0,328.2L858.6,329.0L860.9,328.4L861.2,326.4L863.0,325.4L863.9,323.8L863.9,323.3L863.0,321.1L860.3,320.6L859.3,318.6Z" fill="#fbf6fb"/>
<path d="M917.8,488.8L917.9,491.2L916.7,493.3L918.3,494.9L920.2,495.9L922.0,497.1L924.5,497.0L925.8,494.9L928.0,493.6L929.7,491.7L929.6,490.2L928.2,488.7L927.3,486.8L925.6,485.6L923.1,485.2L920.8,485.3L918.6,486.7Z" fill="#f0e9f3"/>
<path d="M915.4,458.1L913.8,460.1L912.5,462.3L912.0,464.9L910.8,467.2L911.6,469.0L913.1,470.6L913.2,472.8L914.7,474.3L916.6,473.6L918.6,473.8L920.1,472.1L921.4,470.3L923.8,469.6L924.2,467.0L926.2,465.8L925.3,463.8L925.8,461.6L925.3,459.5L923.9,457.6L921.3,457.8L919.1,456.1L916.6,455.8Z" fill="#f0e9f3"/>
<path d="M807.7,465.3L808.4,467.7L810.6,468.8L813.0,468.8L814.8,467.3L813.9,465.1L814.9,462.7L814.3,460.4L812.3,461.5L809.8,461.3L807.9,462.9Z" fill="#f9f3f9"/>
<path d="M931.9,518.6L933.6,520.4L933.9,522.5L934.1,524.2L936.2,523.9L940.0,523.0L940.5,522.9L940.2,522.4L940.5,519.9L939.4,517.5L941.2,514.9L940.4,512.5L938.5,512.0L936.8,513.2L934.9,512.9L933.4,514.3L932.7,516.3Z" fill="#f7f1f7"/>
<path d="M928.8,351.0L928.6,353.4L928.5,355.9L926.8,358.0L925.2,360.1L925.8,362.8L928.4,363.2L930.0,365.7L932.3,366.7L934.9,367.2L935.0,364.4L936.8,362.8L939.9,362.1L939.1,358.6L941.3,357.3L944.2,356.3L944.4,353.6L944.3,352.7L942.8,350.4L939.9,350.1L937.9,348.5L935.9,346.9L933.8,348.4L931.3,347.7L929.0,348.5Z" fill="#f8f2f8"/>
<path d="M969.7,481.9L969.9,483.8L971.3,485.0L972.9,485.3L974.3,486.2L976.1,485.4L977.3,483.3L975.0,481.0L975.9,478.9L976.4,476.8L974.5,477.0L972.4,476.3L970.5,477.5L969.7,478.9L969.0,480.3Z" fill="#f0e9f3"/>
<path d="M953.7,469.6L954.0,471.1L955.7,471.2L956.6,469.9L957.8,469.0L957.9,468.4L956.8,467.0L955.7,465.7L954.4,466.9L952.8,467.9L952.7,468.4Z" fill="#e0deee"/>
<path d="M831.4,338.0L831.5,340.3L830.4,342.2L830.2,344.3L828.3,345.9L830.4,346.1L832.5,347.0L834.5,347.8L836.8,347.4L838.9,347.3L840.2,345.4L839.3,342.7L841.0,340.9L841.6,338.8L841.4,338.4L839.5,337.8L837.5,337.3L835.6,336.9L834.3,335.0L831.9,335.9Z" fill="#e0dcec"/>
<path d="M879.2,402.7L879.1,404.9L880.9,406.7L882.2,409.1L884.9,409.8L885.8,408.1L887.4,407.3L888.9,406.2L888.8,404.0L886.3,403.0L887.1,400.4L885.3,399.0L883.6,398.3L882.1,399.9L880.2,400.7Z" fill="#f9f3f9"/>
<path d="M832.2,300.7L834.7,301.0L837.1,300.8L839.4,302.0L842.0,301.1L843.5,300.4L844.9,299.3L843.4,297.3L842.8,295.1L843.4,292.7L844.4,290.2L843.6,288.1L842.0,286.1L839.7,285.8L839.3,285.6L838.5,287.3L836.4,290.1L835.4,293.5L833.2,295.8L830.8,298.0L830.6,300.6Z" fill="#fbf5fa"/>
<path d="M902.8,324.4L904.2,326.5L904.1,328.7L905.6,330.8L907.4,332.2L910.2,331.4L912.2,332.4L914.6,332.6L916.2,334.4L918.3,332.8L920.5,331.3L921.4,328.7L923.2,326.8L924.1,324.2L921.7,323.6L919.9,321.4L917.6,320.5L914.5,321.6L912.7,319.3L910.5,318.2L908.1,317.5L905.9,318.5L905.5,321.3L903.1,322.2Z" fill="#dcdcee"/>
<path d="M817.1,495.5L816.7,497.2L818.7,498.5L819.0,501.2L820.1,503.3L823.5,503.6L823.2,506.7L826.2,507.4L827.5,509.3L826.6,512.8L829.0,513.9L831.4,513.2L833.6,512.0L834.9,509.5L837.3,508.6L838.9,506.6L841.6,506.4L843.9,505.4L843.7,502.7L842.6,500.5L839.7,499.0L838.9,496.6L838.5,494.0L837.3,491.8L836.3,489.4L834.6,488.2L832.4,487.9L831.2,486.6L830.5,487.9L829.9,490.8L829.5,493.8L826.4,494.8L823.4,496.3L820.2,495.1L816.9,494.7Z" fill="#faf4f9"/>
<path d="M869.5,464.7L868.3,467.1L868.2,469.5L866.4,471.9L865.6,474.3L867.0,476.8L869.5,477.6L872.4,477.2L874.1,480.0L876.4,481.1L879.2,481.1L881.5,482.3L883.9,481.5L886.2,480.6L888.4,479.4L888.6,478.1L888.8,475.1L885.8,473.7L885.1,471.2L884.5,468.6L883.6,466.3L882.6,463.9L881.9,461.3L878.5,460.2L878.2,457.5L875.5,457.0L873.7,458.3L872.4,460.8L869.6,460.0L868.1,462.1Z" fill="#fbf5fa"/>
<path d="M987.5,445.9L986.5,448.1L988.3,450.2L987.7,452.4L989.9,453.0L990.6,455.9L993.3,455.7L994.9,457.1L997.6,456.3L998.9,454.0L1000.6,452.1L1001.7,449.6L999.9,447.8L1000.1,445.5L997.4,443.8L998.4,441.4L996.2,441.5L994.3,440.2L992.1,440.7L990.0,440.3L988.5,441.8L987.5,443.7Z" fill="#fbf5fa"/>
<path d="M746.1,542.5L747.0,545.9L750.5,545.1L751.8,547.8L753.8,549.4L755.8,551.1L758.9,551.0L760.0,554.2L760.7,554.2L761.5,553.8L763.7,553.6L764.8,552.6L765.7,549.8L768.7,549.2L770.2,547.1L770.9,544.8L771.6,542.6L772.4,540.4L774.4,538.8L774.3,536.4L773.9,534.0L773.7,531.5L774.0,529.1L775.9,527.0L776.3,524.6L773.8,523.5L772.5,521.1L770.3,519.8L768.3,518.1L766.5,516.7L766.8,517.2L766.0,520.9L765.5,524.6L762.4,526.9L759.4,529.5L757.2,531.5L755.1,533.5L753.2,535.7L749.9,537.5L747.0,540.0L744.4,541.6L743.8,541.7Z" fill="#f8f2f8"/>
<path d="M850.6,508.7L852.7,510.4L852.7,513.1L854.5,515.0L854.9,517.5L856.8,519.3L857.9,521.5L860.3,521.1L862.6,522.4L865.0,522.0L867.2,520.1L869.6,520.8L871.9,520.7L874.2,519.5L876.6,520.9L878.2,519.3L879.6,517.6L882.0,516.7L881.5,513.4L883.5,512.1L882.4,510.1L879.8,509.2L880.1,506.0L877.2,505.4L875.3,504.0L874.8,501.4L873.5,499.6L870.8,501.0L868.4,497.9L865.8,498.2L863.3,498.9L860.7,498.7L858.1,498.9L856.8,501.1L855.5,503.4L852.9,504.3L850.9,505.9Z" fill="#fbf6fb"/>
<path d="M832.0,321.7L834.0,320.3L836.8,320.4L838.6,318.5L838.8,316.0L839.3,313.6L839.5,311.1L836.8,311.7L834.7,309.4L832.3,309.0L829.6,309.6L829.0,309.6L829.0,309.6L831.7,311.2L833.8,313.5L832.8,316.1L830.8,318.0L830.0,320.7L829.5,322.2Z" fill="#f6eff6"/>
<path d="M881.8,324.1L882.4,326.5L881.7,328.8L882.5,331.1L885.0,331.5L887.2,332.4L887.8,334.9L890.0,335.0L891.4,333.1L893.3,332.7L892.0,330.7L891.2,328.5L890.7,326.2L891.3,323.7L889.6,322.7L888.3,321.2L886.3,321.7L884.2,321.7L882.1,321.8Z" fill="#f6eff6"/>
<path d="M842.5,303.5L842.6,305.9L841.8,308.1L840.7,310.3L842.4,311.3L844.4,311.2L846.0,312.1L847.3,310.4L849.7,310.5L851.1,309.0L852.5,307.7L853.1,305.4L851.5,304.0L850.3,302.4L849.8,300.4L847.3,299.9L844.9,299.3L843.5,300.4L842.0,301.1Z" fill="#fbf6fb"/>
<path d="M908.6,238.4L909.1,240.9L908.1,243.0L909.6,244.3L910.5,246.2L912.7,247.2L914.8,247.4L917.1,246.6L917.1,246.6L915.4,245.8L913.6,242.8L910.8,241.0L909.0,238.3L908.6,238.0Z" fill="#f8f2f8"/>
<path d="M883.8,437.3L884.7,440.2L882.0,441.3L881.9,443.7L879.8,445.1L879.5,447.4L880.8,449.1L880.9,451.3L883.2,451.6L885.5,451.4L887.9,451.5L889.9,453.7L892.3,453.6L894.6,453.9L897.0,453.4L899.2,452.1L900.2,449.7L902.8,448.9L905.0,447.6L905.8,445.0L904.3,443.1L905.5,440.5L905.5,438.3L904.0,436.3L903.4,434.2L900.9,434.9L898.4,435.4L895.6,433.2L893.3,436.1L890.6,433.7L888.1,435.4L885.6,435.7Z" fill="#f9f3f9"/>
<path d="M818.4,471.1L818.3,473.5L820.1,476.3L818.2,478.3L819.0,480.5L819.0,480.6L819.8,480.5L822.0,479.0L823.0,477.0L824.6,475.4L828.0,474.9L830.3,473.3L829.4,471.1L827.9,469.5L825.7,469.5L823.5,469.5L822.1,467.9L820.1,469.0Z" fill="#fbf5fa"/>
<path d="M827.5,522.7L828.5,525.0L829.3,527.3L830.0,529.4L830.2,529.4L833.8,528.5L837.5,530.0L841.5,530.0L844.3,531.2L846.5,533.2L849.2,534.6L851.5,536.9L852.7,536.2L853.8,533.8L852.7,530.6L854.7,528.6L854.7,525.8L857.7,524.2L857.9,521.5L856.8,519.3L854.9,517.5L854.5,515.0L852.7,513.1L852.7,510.4L850.6,508.7L850.9,505.9L848.6,504.7L846.2,506.6L843.9,505.4L841.6,506.4L838.9,506.6L837.3,508.6L834.9,509.5L833.6,512.0L831.4,513.2L829.0,513.9L827.7,515.9L827.3,518.2L826.7,520.4Z" fill="#faf4f9"/>
<path d="M841.3,475.0L842.9,476.7L845.2,477.0L847.4,476.3L849.7,476.2L849.7,474.3L850.8,472.7L849.0,471.7L848.0,469.9L846.7,468.4L845.4,468.4L843.0,470.5L840.4,472.5L840.0,473.8Z" fill="#fbf6fb"/>
<path d="M960.7,493.6L959.9,495.2L959.6,497.0L960.3,498.8L961.3,500.5L962.7,498.3L965.6,499.3L967.4,498.0L969.1,496.5L971.1,495.6L971.2,495.4L969.2,494.0L967.9,492.0L965.9,490.5L963.6,491.8L961.0,491.8Z" fill="#f9f3f9"/>
<path d="M867.0,208.7L867.1,211.4L864.6,213.1L865.6,216.2L864.3,218.4L866.6,218.8L868.4,220.0L870.1,221.6L872.7,221.3L874.6,222.4L876.1,224.3L877.8,222.4L880.5,221.5L882.4,220.0L884.1,218.1L884.6,215.1L883.7,213.1L883.2,211.0L881.2,208.9L878.9,208.1L876.0,208.9L873.9,207.1L871.3,206.8L868.8,206.6Z" fill="#f8f2f8"/>
<path d="M864.1,336.5L864.7,338.7L863.6,340.1L864.6,341.6L865.2,343.4L867.1,344.8L869.3,345.1L871.0,346.9L873.2,347.3L875.7,347.0L877.0,346.2L878.3,345.3L876.7,343.2L878.8,340.2L876.5,338.2L876.0,335.8L875.4,333.5L873.2,332.5L871.2,331.3L869.2,332.4L867.8,334.4L865.5,335.2Z" fill="#f0e9f3"/>
<path d="M897.5,233.7L896.0,235.6L896.7,238.2L896.0,240.3L897.5,240.3L898.9,240.6L901.3,240.4L902.4,237.9L905.4,238.9L907.3,237.7L907.6,237.3L906.3,236.3L904.6,233.5L904.8,230.8L903.4,230.0L900.9,230.1L898.5,231.7Z" fill="#dcdcee"/>
<path d="M915.4,522.3L917.0,523.7L918.5,524.0L921.6,524.0L924.6,524.6L924.7,524.7L924.9,524.5L924.8,521.7L922.9,520.5L921.1,519.3L919.4,517.8L918.3,519.2L916.9,520.0Z" fill="#fbf6fb"/>
<path d="M851.4,481.5L850.7,483.4L849.4,485.1L849.7,488.0L853.5,488.6L852.6,492.3L855.2,493.7L857.2,495.5L858.1,498.1L858.9,495.8L858.7,493.3L860.4,491.2L861.4,489.1L862.5,486.9L861.7,484.2L863.9,482.3L863.1,479.6L860.9,478.2L858.6,478.3L856.3,479.4L854.1,481.1L851.8,479.5Z" fill="#f3ecf5"/>
<path d="M820.6,434.8L821.7,437.5L819.8,439.6L820.8,442.3L819.2,444.4L819.2,446.9L819.5,448.8L820.9,450.2L823.2,450.4L825.5,450.8L827.6,451.8L829.8,452.7L831.1,450.9L831.7,448.6L833.1,446.9L836.1,446.4L835.9,443.5L837.7,442.1L835.1,441.4L833.2,439.9L831.5,437.8L828.9,437.2L828.3,433.7L824.3,435.0L823.2,432.2L822.2,432.7Z" fill="#f6eff6"/>
<path d="M931.9,470.5L931.8,472.3L934.0,473.3L936.3,473.8L938.5,474.8L939.3,473.1L941.0,472.1L939.4,470.2L938.9,467.7L937.5,465.8L936.8,465.5L935.2,467.0L933.0,467.5L931.3,468.8Z" fill="#fbf5fa"/>
<path d="M850.3,344.0L851.0,346.3L853.0,347.5L855.4,347.8L857.4,348.9L859.0,350.8L860.3,348.7L863.2,348.0L862.7,344.4L865.2,343.4L864.6,341.6L863.6,340.1L861.9,338.4L859.9,337.8L857.4,338.9L855.6,337.8L854.1,338.0L852.4,339.8L850.9,341.7Z" fill="#faf4f9"/>
<path d="M984.9,478.1L986.0,480.8L982.4,482.3L983.9,485.0L982.8,487.1L983.5,488.1L986.0,487.7L988.1,488.5L990.2,489.5L992.2,490.5L994.3,489.1L995.5,487.0L995.5,484.6L994.1,482.7L992.0,481.2L991.4,479.0L990.4,477.0L989.2,477.0L986.2,475.7L986.0,475.6L985.5,475.9Z" fill="#d6dbee"/>
<path d="M962.6,392.1L963.3,394.6L961.1,396.6L961.9,399.1L961.5,401.4L961.6,403.8L961.5,406.1L963.0,408.5L966.4,406.3L968.2,407.8L969.9,409.8L972.0,410.7L974.2,411.3L976.7,410.7L977.9,408.5L979.6,406.9L981.0,405.1L982.7,403.4L983.1,401.1L981.9,398.8L981.6,396.5L982.3,394.1L980.1,392.9L979.2,390.5L976.3,389.9L975.7,387.0L974.1,385.2L972.2,383.7L970.3,384.8L968.1,385.3L967.9,388.5L965.5,388.8L963.7,389.9Z" fill="#faf4f9"/>
<path d="M849.7,474.3L849.7,476.2L850.9,477.7L851.8,479.5L854.1,481.1L856.3,479.4L858.6,478.3L860.9,478.2L863.1,479.6L863.8,478.4L864.9,477.7L862.3,477.0L861.9,473.6L859.8,472.4L857.9,470.8L855.4,470.1L854.1,471.4L852.7,472.4L850.8,472.7Z" fill="#f8f2f8"/>
<path d="M937.7,477.7L935.8,479.4L935.1,481.6L935.6,482.9L936.3,484.1L938.6,485.1L939.7,483.0L942.2,482.1L943.2,479.9L941.7,478.3L939.6,477.4L938.5,475.5Z" fill="#f8f2f8"/>
<path d="M937.4,332.2L937.8,334.8L936.7,337.1L937.3,339.7L936.5,342.1L936.4,344.5L935.9,346.9L937.9,348.5L939.9,350.1L942.8,350.4L944.3,352.7L945.8,350.4L947.7,348.6L950.6,348.3L953.5,348.2L954.9,345.7L957.2,344.6L959.2,343.0L958.4,340.9L956.2,339.2L957.4,336.2L955.9,334.3L954.8,332.3L952.5,331.2L949.8,332.5L947.5,331.1L945.0,331.6L942.9,329.3L940.3,329.8L937.8,329.8Z" fill="#fbf6fb"/>
<path d="M1019.8,386.7L1017.7,389.0L1018.6,391.7L1016.3,394.0L1017.4,396.8L1018.1,399.4L1016.8,401.9L1018.8,403.6L1021.6,403.9L1023.5,405.7L1025.8,404.4L1028.6,404.8L1031.3,404.7L1033.6,403.3L1035.9,401.9L1038.6,401.9L1039.3,401.8L1039.3,400.7L1039.3,397.6L1038.5,394.6L1037.6,391.5L1036.0,388.6L1035.4,385.4L1034.0,382.6L1033.5,382.4L1031.9,383.8L1029.1,382.3L1026.4,381.4L1023.8,381.9L1021.4,383.3L1018.9,384.0Z" fill="#ebe4f1"/>
<path d="M950.5,472.3L951.8,473.5L952.5,473.5L953.0,473.2L954.0,471.1L953.7,469.6L952.7,468.4L951.4,469.6L950.0,470.7Z" fill="#f3ecf5"/>
<path d="M929.4,399.9L931.3,402.0L932.3,404.3L930.9,406.8L932.2,409.0L932.1,411.4L934.4,412.2L936.9,410.8L939.1,412.1L941.6,411.0L943.9,411.8L946.3,411.3L948.4,413.8L950.9,412.9L952.9,411.2L953.8,408.6L953.8,405.9L950.3,405.3L951.0,402.2L948.8,400.8L948.5,398.4L945.6,397.4L945.7,394.7L943.3,395.7L940.7,395.6L938.4,397.2L935.4,395.1L933.1,396.5L930.7,397.4Z" fill="#f0e9f3"/>
<path d="M890.7,326.2L891.2,328.5L892.0,330.7L893.3,332.7L895.4,332.9L897.3,334.0L899.1,332.8L900.1,330.6L901.6,329.0L904.1,328.7L904.2,326.5L902.8,324.4L903.1,322.2L901.7,321.5L899.4,320.8L897.7,323.3L895.4,322.7L893.4,323.5L891.3,323.7Z" fill="#f9f3f9"/>
<path d="M778.0,452.9L776.3,454.6L774.6,456.2L773.0,458.0L773.2,461.3L772.9,461.4L774.0,463.0L776.5,463.0L779.0,462.5L776.8,465.3L774.0,467.4L775.9,469.0L777.8,470.5L780.7,469.0L784.0,468.6L786.7,467.4L789.0,465.5L789.1,465.5L788.6,463.6L790.5,460.9L789.5,458.3L787.4,456.8L786.3,454.7L785.9,452.2L783.9,452.4L782.1,451.0L780.0,451.6Z" fill="#f0e9f3"/>
<path d="M884.9,413.7L887.0,414.7L888.9,415.9L890.0,417.7L891.1,419.5L892.9,418.9L894.8,418.8L896.7,419.5L898.2,418.0L899.2,416.4L899.4,414.3L897.3,412.7L896.4,410.1L895.2,407.9L893.4,406.0L891.1,405.5L888.9,406.2L887.4,407.3L885.8,408.1L884.9,409.8L884.6,411.3Z" fill="#d8daee"/>
<path d="M967.2,464.3L966.7,466.7L968.5,467.3L970.5,467.0L972.1,468.1L973.6,466.3L974.3,464.1L972.8,462.5L971.2,461.0L970.4,459.0L968.0,460.1L966.2,462.0Z" fill="#fbf5fa"/>
<path d="M958.1,484.7L957.0,486.1L955.2,486.9L955.8,488.2L957.9,488.7L959.8,489.7L960.2,487.4L961.6,485.6L959.9,484.6L958.9,482.9L958.7,482.9Z" fill="#ccd5ea"/>
<path d="M810.7,389.9L808.6,391.9L808.5,394.3L807.8,396.6L807.7,399.0L808.2,401.5L807.9,403.9L805.0,405.8L805.9,408.4L808.5,408.3L810.6,410.8L813.1,411.2L815.9,410.0L818.1,411.6L820.8,410.8L823.3,411.4L826.0,410.3L828.2,412.2L830.0,410.3L831.0,408.1L831.2,405.5L834.0,404.2L833.1,401.0L834.6,399.1L832.8,397.2L830.7,395.5L830.3,392.8L829.7,390.2L829.5,387.4L827.1,385.8L825.5,384.1L822.8,385.8L821.5,383.2L819.3,383.3L817.7,385.7L814.8,385.3L812.8,386.8L810.4,387.4Z" fill="#f9f3f9"/>
<path d="M994.0,493.0L991.6,495.7L994.1,498.1L992.9,500.8L994.3,502.8L996.4,503.1L998.3,503.9L999.9,502.1L1002.8,502.2L1003.5,498.9L1005.8,498.2L1007.8,496.9L1010.2,496.1L1008.4,494.0L1008.0,491.7L1009.1,489.3L1008.5,487.0L1008.8,484.6L1006.6,484.9L1004.6,486.6L1002.1,485.7L1000.2,487.5L997.5,485.2L995.5,487.0L994.3,489.1L992.2,490.5Z" fill="#f6eff6"/>
<path d="M941.5,432.4L941.5,434.8L939.8,436.6L939.2,438.9L937.4,440.6L939.2,442.4L941.6,441.2L943.8,442.0L945.9,442.9L948.0,443.5L950.1,444.4L951.9,443.1L952.6,441.3L953.2,439.4L953.2,439.0L952.5,436.3L948.8,437.0L948.2,434.3L946.0,433.3L945.8,430.1L943.0,429.7L941.7,430.0Z" fill="#f8f2f8"/>
<path d="M900.7,307.4L900.6,309.7L898.4,311.0L899.1,313.8L897.3,315.4L898.0,318.0L899.7,319.9L901.7,321.5L903.1,322.2L905.5,321.3L905.9,318.5L908.1,317.5L908.8,315.0L907.7,312.6L909.5,310.1L908.1,307.7L906.1,307.0L904.4,305.6L902.2,305.7Z" fill="#f8f2f8"/>
<path d="M895.6,400.5L894.7,402.2L893.5,403.8L893.4,406.0L895.2,407.9L896.4,410.1L897.3,412.7L899.4,414.3L901.4,413.1L903.5,412.2L905.5,410.9L907.5,409.7L910.0,409.7L909.0,407.2L910.4,404.9L910.3,402.5L908.4,401.1L907.2,398.9L905.2,397.7L902.9,396.9L901.0,398.3L899.2,399.9L896.9,399.0Z" fill="#f8f2f8"/>
<path d="M874.4,349.3L873.3,351.7L875.3,354.7L871.8,356.5L872.6,359.3L871.0,361.5L871.7,364.3L873.2,365.4L874.1,367.1L875.7,368.2L877.1,368.4L878.6,368.3L880.0,366.1L882.7,366.2L884.6,364.7L886.5,363.4L889.2,363.4L891.1,362.1L892.6,360.1L893.5,358.2L894.1,356.2L895.2,354.4L895.0,352.4L892.9,351.3L890.6,350.6L889.5,348.0L887.5,346.6L884.9,346.5L883.0,345.0L880.6,345.1L878.3,345.3L877.0,346.2L875.7,347.0Z" fill="#f9f3f9"/>
<path d="M878.2,417.3L878.7,419.9L878.8,422.5L877.2,424.8L879.3,425.7L881.3,426.8L883.7,425.9L886.0,424.9L888.1,423.7L888.6,420.4L891.1,419.5L890.0,417.7L888.9,415.9L887.0,414.7L884.9,413.7L884.6,411.3L882.6,412.4L881.0,413.9L878.9,414.8Z" fill="#f7f1f7"/>
<path d="M893.0,217.5L893.4,219.8L895.5,220.1L897.8,219.9L899.3,218.2L897.5,216.8L896.7,214.6L894.7,214.3L892.9,215.2Z" fill="#f8f2f8"/>
<path d="M879.0,242.8L876.7,243.7L875.4,245.4L874.5,247.4L873.7,249.3L874.4,250.5L875.1,251.7L877.3,252.2L879.9,251.6L881.7,253.7L884.0,254.3L886.0,255.7L888.1,256.8L891.2,254.4L893.0,256.5L894.0,254.5L894.9,252.4L896.3,250.7L896.0,248.2L896.5,245.6L894.3,243.1L895.6,240.5L893.3,240.8L891.4,239.0L889.1,239.1L886.9,238.9L884.4,239.0L882.2,240.3L879.8,240.7Z" fill="#fbf5fa"/>
<path d="M914.8,336.5L915.3,338.7L914.7,340.8L915.9,342.9L917.3,344.6L920.0,344.2L922.1,345.8L923.9,348.4L926.9,347.0L929.0,348.5L931.3,347.7L933.8,348.4L935.9,346.9L936.4,344.5L936.5,342.1L937.3,339.7L936.7,337.1L937.8,334.8L937.4,332.2L937.8,329.8L936.5,328.1L935.9,325.9L934.2,324.4L932.0,325.0L930.3,323.7L928.5,322.5L926.4,322.9L925.2,323.4L924.1,324.2L923.2,326.8L921.4,328.7L920.5,331.3L918.3,332.8L916.2,334.4Z" fill="#f0e9f3"/>
<path d="M957.0,325.2L957.6,328.2L955.9,330.1L954.8,332.3L955.9,334.3L957.4,336.2L956.2,339.2L958.4,340.9L959.2,343.0L960.7,343.5L962.4,341.1L965.7,342.5L968.1,341.7L969.3,338.2L971.3,337.8L970.8,336.5L969.0,333.7L966.5,331.5L964.6,328.8L962.4,326.8L959.5,325.5L958.9,324.4Z" fill="#faf4f9"/>
<path d="M967.0,317.9L964.7,319.4L964.6,319.6L965.7,320.8L967.7,324.2L968.3,321.9L968.5,319.6L967.0,317.9Z" fill="#faf4f9"/>
<path d="M964.8,517.1L962.9,519.7L964.4,522.3L963.7,523.4L964.7,523.4L967.7,524.6L969.9,526.3L972.3,527.7L975.4,526.0L978.4,524.6L980.4,521.9L982.2,520.6L981.4,519.9L978.7,519.6L977.9,516.3L975.3,515.9L972.4,515.9L970.4,514.5L969.7,511.2L967.0,510.8L965.9,513.2L963.7,514.5Z" fill="#fbf5fa"/>
<path d="M878.4,531.8L878.5,531.5L881.6,530.1L884.6,528.5L887.6,529.4L890.9,528.8L893.8,530.0L895.4,528.5L897.5,526.3L899.5,524.9L899.3,524.7L896.2,524.5L895.2,521.7L892.3,521.4L891.2,518.8L889.6,516.8L887.9,515.0L885.7,513.7L883.7,512.1L883.5,512.1L881.5,513.4L882.0,516.7L879.6,517.6L878.2,519.3L876.6,520.9Z" fill="#fbf6fb"/>
<path d="M927.8,518.4L926.6,519.9L925.7,521.6L927.7,523.1L930.5,523.4L932.1,524.8L932.3,524.6L934.1,524.2L933.9,522.5L933.6,520.4L931.9,518.6L932.7,516.3L930.2,516.5L927.7,516.4Z" fill="#faf4f9"/>
<path d="M873.8,322.7L873.2,324.9L871.0,325.9L870.7,328.3L871.0,329.8L871.2,331.3L873.2,332.5L875.4,333.5L877.0,332.3L878.3,330.8L879.7,329.4L881.7,328.8L882.4,326.5L881.8,324.1L882.1,321.8L881.1,321.0L879.3,321.3L877.4,320.6L875.7,321.4Z" fill="#faf4f9"/>
<path d="M886.0,217.8L887.1,219.5L888.6,221.1L890.8,221.2L892.9,220.4L893.4,219.8L893.0,217.5L892.9,215.2L892.0,214.5L890.1,215.8L887.8,215.3L885.6,215.6Z" fill="#fbf6fb"/>
<path d="M897.2,455.8L898.1,458.0L897.3,460.6L899.1,462.6L899.4,465.0L901.5,466.4L903.8,466.6L906.1,466.9L908.8,465.2L910.8,467.2L912.0,464.9L912.5,462.3L913.8,460.1L915.4,458.1L916.6,455.8L916.1,453.7L914.0,452.3L912.5,450.7L912.4,448.3L910.6,446.5L908.3,445.4L905.8,445.0L905.0,447.6L902.8,448.9L900.2,449.7L899.2,452.1L897.0,453.4Z" fill="#f7f1f7"/>
<path d="M961.6,474.2L963.0,475.7L964.0,475.8L965.6,474.5L967.3,473.6L966.2,472.2L966.2,470.2L964.7,469.1L963.9,469.1L962.0,470.3L961.1,472.2Z" fill="#f6eff6"/>
<path d="M881.6,392.8L881.6,394.8L884.1,396.2L883.6,398.3L885.3,399.0L887.2,398.2L888.9,396.7L891.5,397.1L893.0,395.3L891.8,393.4L893.3,390.9L892.2,389.0L890.7,387.1L890.8,384.9L888.3,385.1L887.1,387.9L883.9,386.5L882.4,388.7L881.6,390.8Z" fill="#f8f2f8"/>
<path d="M971.2,461.0L972.8,462.5L974.3,464.1L976.3,463.6L978.3,463.5L980.4,464.0L982.0,462.9L983.1,461.3L982.9,460.0L982.9,458.6L981.3,457.0L979.1,456.7L977.4,455.4L975.5,454.5L973.8,453.3L972.5,454.2L971.2,455.0L970.7,457.0L970.4,459.0Z" fill="#fbf5fa"/>
<path d="M832.2,462.6L832.4,465.0L831.7,467.2L829.2,468.7L829.4,471.1L830.3,473.3L830.8,473.0L834.4,471.6L838.0,470.5L840.9,468.4L840.9,468.4L840.3,467.3L839.1,465.5L838.0,463.7L838.4,461.4L836.6,460.9L834.6,461.5L832.9,460.4Z" fill="#f6eff6"/>
<path d="M737.3,441.5L739.0,443.4L740.6,445.5L742.6,447.1L744.6,448.7L746.2,450.7L747.4,453.1L749.6,453.1L751.6,453.7L753.7,452.1L754.2,449.7L755.2,447.6L755.2,444.8L757.2,443.3L758.5,441.3L755.9,439.9L754.9,437.5L753.6,435.3L752.2,433.2L752.2,433.1L750.7,433.5L748.3,434.8L745.8,435.9L743.5,437.3L741.0,438.5L738.3,439.3L735.8,440.5L735.7,440.6Z" fill="#fbf5fa"/>
<path d="M889.7,316.8L888.7,318.9L888.3,321.2L889.6,322.7L891.3,323.7L893.4,323.5L895.4,322.7L897.7,323.3L899.4,320.8L901.7,321.5L899.7,319.9L898.0,318.0L897.3,315.4L895.4,316.0L893.4,314.7L891.5,315.3Z" fill="#f0e9f3"/>
<path d="M805.9,454.5L805.3,456.7L803.8,458.5L802.7,460.4L804.8,460.4L806.2,462.0L807.9,462.9L809.8,461.3L812.3,461.5L814.3,460.4L815.6,458.2L814.3,456.1L811.2,456.9L810.5,453.9L808.9,452.2L806.3,452.3Z" fill="#f6eff6"/>
<path d="M948.7,489.3L949.0,490.7L950.9,491.8L952.6,493.1L952.9,491.0L954.3,489.6L955.8,488.2L955.2,486.9L953.6,485.9L952.0,487.0L950.3,487.9L948.4,488.0Z" fill="#f7f1f7"/>
<path d="M873.1,395.9L873.1,397.2L874.9,398.0L877.1,398.2L878.7,399.4L880.2,400.7L882.1,399.9L883.6,398.3L884.1,396.2L881.6,394.8L881.6,392.8L881.6,390.8L879.6,391.9L877.5,392.8L875.0,393.0L873.2,394.6Z" fill="#d6d8ec"/>
<path d="M866.8,300.8L864.9,302.2L865.2,304.1L865.3,306.0L867.4,307.2L867.4,309.2L868.7,310.0L870.9,308.6L873.3,310.1L875.5,309.0L877.9,309.7L880.1,308.9L880.8,308.1L879.7,305.6L880.5,303.3L880.1,300.9L881.3,298.6L879.3,297.4L878.3,294.9L875.8,294.3L873.9,295.3L872.4,296.8L870.4,297.6L868.8,299.0L866.4,298.9Z" fill="#faf4f9"/>
<path d="M857.7,524.2L854.7,525.8L854.7,528.6L852.7,530.6L853.8,533.8L852.7,536.2L851.5,536.9L851.7,537.1L854.6,539.2L856.0,541.5L856.3,538.7L857.0,536.0L860.0,536.0L863.0,535.9L866.0,535.4L869.1,536.8L872.3,537.7L875.1,537.1L877.7,536.0L878.0,533.7L878.4,531.8L876.6,520.9L874.2,519.5L871.9,520.7L869.6,520.8L867.2,520.1L865.0,522.0L862.6,522.4L860.3,521.1L857.9,521.5Z" fill="#f9f3f9"/>
<path d="M767.4,352.6L770.1,352.1L771.7,349.8L774.3,349.1L775.9,346.8L778.4,346.0L779.3,343.6L781.0,341.7L778.9,340.4L775.4,339.2L772.9,338.1L770.1,337.4L767.7,336.0L764.2,336.4L760.8,337.0L761.5,339.2L761.5,341.5L759.2,343.0L757.0,344.6L759.9,346.7L763.0,348.5L765.3,351.6L766.7,353.3Z" fill="#f8f2f8"/>
<path d="M746.1,455.7L743.6,456.8L741.5,458.2L739.7,460.3L735.9,459.3L735.6,461.0L736.0,461.2L739.3,463.2L742.0,466.0L744.9,465.2L747.8,464.7L750.8,465.0L753.7,463.0L756.6,462.0L754.8,460.7L755.0,457.6L751.7,456.6L751.6,453.7L749.6,453.1L747.4,453.1Z" fill="#f0e9f3"/>
<path d="M954.3,489.6L952.9,491.0L952.6,493.1L953.2,495.0L955.3,495.6L957.2,497.2L959.6,497.0L959.9,495.2L960.7,493.6L961.0,491.8L959.8,489.7L957.9,488.7L955.8,488.2Z" fill="#f7f1f7"/>
<path d="M847.6,428.4L846.8,430.8L845.3,432.5L844.4,434.8L842.5,436.4L840.2,437.6L839.1,439.8L838.2,442.1L839.6,443.8L841.5,445.0L842.6,447.0L845.4,447.2L847.3,448.3L848.2,450.7L850.0,449.3L852.0,449.3L854.0,448.9L856.2,449.4L858.5,448.0L857.8,444.5L860.6,443.5L863.0,442.2L863.2,439.3L862.7,437.1L862.2,434.8L860.8,432.3L857.6,432.6L855.6,431.0L853.4,429.8L851.9,427.3L849.3,426.7Z" fill="#faf4f9"/>
<path d="M1008.9,439.2L1010.8,440.8L1010.9,443.6L1011.3,446.3L1013.6,447.6L1016.2,448.7L1016.0,449.4L1017.7,448.5L1017.0,444.6L1018.7,441.4L1021.5,439.2L1023.6,436.2L1026.8,434.3L1029.2,431.5L1029.8,429.8L1029.5,428.0L1026.9,427.2L1024.4,426.3L1022.3,427.7L1020.3,429.0L1017.3,426.6L1015.3,428.3L1013.3,430.1L1010.8,429.7L1010.9,432.1L1009.2,433.7L1007.1,435.1L1007.1,437.5Z" fill="#f6eff6"/>
<path d="M859.3,318.6L860.3,320.6L863.0,321.1L863.9,323.3L866.2,322.8L867.7,321.2L868.1,318.3L870.5,317.9L870.8,315.7L869.0,314.1L869.1,312.0L868.7,310.0L867.4,309.2L866.0,311.0L863.5,311.6L862.9,314.5L861.1,315.8L858.8,316.6Z" fill="#f8f2f8"/>
<path d="M925.1,433.0L924.4,435.6L924.6,438.0L926.1,440.1L927.8,441.2L929.6,442.2L931.7,442.8L933.3,440.6L935.5,441.5L937.4,440.6L939.2,438.9L939.8,436.6L941.5,434.8L941.5,432.4L941.7,430.0L940.3,428.1L937.2,429.0L935.5,427.5L933.7,426.2L932.3,424.2L931.6,426.8L928.8,426.7L927.9,429.0L925.3,429.2L923.9,430.8Z" fill="#e8e0f0"/>
<path d="M987.6,431.9L986.4,434.8L988.8,436.1L989.5,438.1L990.0,440.3L992.1,440.7L994.3,440.2L996.2,441.5L998.4,441.4L1001.0,441.5L1002.8,439.7L1004.6,437.6L1007.1,437.5L1007.1,435.1L1009.2,433.7L1010.9,432.1L1010.8,429.7L1009.9,427.3L1007.7,426.2L1005.0,425.4L1005.1,422.2L1003.5,420.5L1000.2,420.4L999.7,417.6L997.9,419.2L995.0,419.7L993.8,422.2L992.6,424.6L989.2,424.3L988.8,428.0L985.9,428.2L985.6,430.5Z" fill="#fbf6fb"/>
<path d="M825.2,350.8L824.6,353.6L827.0,355.4L828.7,357.5L827.8,360.3L829.7,360.6L831.5,360.8L833.0,362.2L834.8,360.9L835.4,358.2L839.1,358.9L839.3,355.8L840.5,353.8L843.0,353.2L842.2,350.8L839.7,349.6L838.9,347.3L836.8,347.4L834.5,347.8L832.5,347.0L830.4,346.1L828.3,345.9L826.3,347.4L824.1,348.5Z" fill="#faf4f9"/>
<path d="M889.5,229.9L890.9,233.0L887.7,234.2L887.5,236.6L886.9,238.9L889.1,239.1L891.4,239.0L893.3,240.8L895.6,240.5L896.0,240.3L896.7,238.2L896.0,235.6L897.5,233.7L898.5,231.7L897.5,229.3L895.5,227.6L894.7,227.4L893.0,227.5L891.6,228.3Z" fill="#f6eff6"/>
<path d="M820.9,452.9L817.9,453.8L818.2,456.7L816.0,458.1L818.4,459.0L820.5,460.5L822.4,462.2L825.1,462.5L827.2,461.5L828.9,459.3L831.2,458.6L830.3,456.7L830.1,454.6L829.8,452.7L827.6,451.8L825.5,450.8L823.2,450.4L820.9,450.2Z" fill="#fbf5fa"/>
<path d="M827.7,242.9L830.0,244.6L830.7,246.9L830.6,249.5L832.1,251.5L831.6,254.3L834.7,255.6L836.0,257.7L835.6,260.4L838.0,259.1L840.3,260.1L842.5,262.1L845.0,259.9L847.2,261.3L849.3,260.1L851.3,258.9L852.9,257.1L853.5,254.2L855.1,252.5L856.5,250.5L860.1,250.9L861.2,248.7L862.7,246.8L862.6,244.1L860.9,242.3L858.6,240.9L858.3,238.3L855.5,237.2L854.7,234.9L854.8,232.1L853.2,230.2L851.8,228.3L850.9,226.0L849.3,228.1L846.7,228.6L844.9,230.4L842.3,230.9L840.3,232.5L838.2,233.7L835.3,233.7L834.7,237.5L831.2,236.5L829.3,238.2L827.7,240.3Z" fill="#f0e9f3"/>
<path d="M900.6,502.0L903.8,503.1L903.1,506.4L906.3,507.5L907.5,509.8L907.7,512.6L909.6,511.0L912.1,512.3L914.3,512.2L916.1,510.5L917.8,508.6L918.1,506.0L915.9,504.6L913.8,503.1L913.0,500.5L912.1,497.9L909.6,496.8L907.5,495.8L905.3,495.9L903.1,497.0L901.0,496.8L900.5,498.1L899.9,499.4Z" fill="#f8f2f8"/>
<path d="M926.9,480.8L927.4,483.6L925.6,485.6L927.3,486.8L928.2,488.7L929.6,490.2L931.9,489.3L933.1,487.3L933.9,484.9L936.3,484.1L935.6,482.9L935.1,481.6L933.2,479.5L930.2,479.9L928.0,478.6Z" fill="#fbf6fb"/>
<path d="M894.0,222.6L893.8,225.1L894.7,227.4L895.5,227.6L896.9,225.9L898.6,224.6L898.3,222.3L897.8,219.9L895.5,220.1L893.4,219.8L892.9,220.4Z" fill="#e6e2f0"/>
<path d="M801.4,462.7L803.0,465.0L801.4,466.9L801.2,469.0L803.2,469.5L804.9,470.5L806.2,468.6L808.4,467.7L807.7,465.3L807.9,462.9L806.2,462.0L804.8,460.4L802.7,460.4L802.2,460.7Z" fill="#e6e0f0"/>
<path d="M965.5,477.9L966.1,480.5L967.5,480.2L969.0,480.3L969.7,478.9L970.5,477.5L969.1,475.8L968.1,473.8L967.3,473.6L965.6,474.5L964.0,475.8Z" fill="#f6eff6"/>
<path d="M803.2,346.0L801.8,348.9L802.6,351.3L802.5,354.0L803.9,356.3L806.8,356.6L807.6,353.1L810.3,353.1L812.4,351.9L815.1,351.8L817.1,350.5L818.0,347.1L820.8,347.2L819.5,345.0L818.7,343.1L816.8,343.3L813.8,342.3L810.7,343.7L807.7,345.4L803.7,345.3L800.7,344.1Z" fill="#f3ecf5"/>
<path d="M804.8,434.6L805.7,437.0L808.2,439.3L807.3,441.9L808.0,444.4L808.0,447.0L810.3,447.2L812.5,445.4L814.7,447.8L817.0,447.9L819.2,446.9L819.2,444.4L820.8,442.3L819.8,439.6L821.7,437.5L820.6,434.8L822.2,432.7L819.9,433.5L817.7,430.9L815.3,431.0L812.9,432.9L810.5,433.8L808.3,432.4L806.0,431.9Z" fill="#f7f1f7"/>
<path d="M976.8,415.9L976.6,419.4L978.4,421.2L981.0,422.4L981.3,425.4L983.8,426.7L985.9,428.2L988.8,428.0L989.2,424.3L992.6,424.6L993.8,422.2L995.0,419.7L997.9,419.2L999.7,417.6L999.1,415.4L999.0,413.2L999.8,411.0L997.9,409.4L995.1,410.0L993.7,407.4L991.0,407.7L989.7,404.9L987.5,403.9L984.7,404.5L982.7,403.4L981.0,405.1L979.6,406.9L977.9,408.5L976.7,410.7L974.2,411.3L973.9,413.0L974.3,414.6Z" fill="#f9f3f9"/>
<path d="M982.6,490.5L981.8,493.0L980.1,495.0L981.5,496.4L981.5,498.4L982.4,500.0L984.5,499.4L986.6,499.7L988.6,502.1L990.8,500.1L992.9,500.8L994.1,498.1L991.6,495.7L994.0,493.0L992.2,490.5L990.2,489.5L988.1,488.5L986.0,487.7L983.5,488.1Z" fill="#faf4f9"/>
<path d="M910.4,404.9L909.0,407.2L910.0,409.7L911.8,411.4L913.9,412.7L915.1,415.0L917.7,416.1L919.7,413.3L922.1,413.5L924.8,414.5L927.1,414.0L929.1,411.8L931.6,412.1L932.1,411.4L932.2,409.0L930.9,406.8L932.3,404.3L931.3,402.0L929.4,399.9L930.7,397.4L929.1,395.2L927.0,393.8L925.9,393.7L924.4,396.3L920.8,395.1L918.5,396.1L917.4,399.3L914.2,398.9L911.8,399.8L910.3,402.5Z" fill="#f3ecf5"/>
<path d="M797.8,545.3L796.4,547.1L794.8,548.7L795.0,550.6L795.2,552.4L796.6,554.7L799.5,555.5L802.0,556.5L802.2,560.2L802.3,560.2L802.8,559.0L804.6,556.0L807.0,553.8L809.2,551.5L808.9,547.6L807.7,543.8L808.6,543.2L807.9,543.1L806.8,540.5L805.0,542.1L802.2,540.5L800.7,543.0L798.4,543.0Z" fill="#f9f3f9"/>
<path d="M960.9,429.7L958.6,431.0L958.9,434.3L957.4,436.2L953.9,436.4L953.2,439.0L953.2,439.4L954.9,441.1L956.8,442.4L958.8,443.5L960.7,444.7L963.5,444.3L965.3,442.7L967.4,441.7L969.3,440.1L969.2,437.6L969.7,435.1L967.5,433.8L966.5,431.6L965.2,429.6L963.6,427.9L962.3,427.8Z" fill="#f0e9f3"/>
<path d="M887.2,337.1L884.6,338.3L884.7,340.9L884.0,343.0L883.0,345.0L884.9,346.5L887.5,346.6L889.5,348.0L890.6,350.6L892.9,351.3L895.0,352.4L896.4,350.9L896.8,348.5L899.7,348.1L900.4,346.0L899.9,343.5L898.1,341.5L897.9,339.0L896.6,336.8L897.3,334.0L895.4,332.9L893.3,332.7L891.4,333.1L890.0,335.0L887.8,334.9Z" fill="#f3ecf5"/>
<path d="M896.9,225.9L895.5,227.6L897.5,229.3L898.5,231.7L900.9,230.1L903.4,230.0L904.8,230.8L904.8,229.6L904.2,225.7L903.9,224.9L903.8,225.1L901.0,222.8L898.6,224.6Z" fill="#f7f1f7"/>
<path d="M962.0,453.3L961.3,455.2L961.3,457.2L961.5,459.2L962.1,460.4L963.1,461.4L964.6,461.9L966.2,462.0L968.0,460.1L970.4,459.0L970.7,457.0L971.2,455.0L969.4,453.6L967.2,453.0L965.2,451.9L963.0,451.5Z" fill="#f9f3f9"/>
<path d="M844.2,329.3L845.4,331.2L848.0,331.0L850.3,332.2L852.0,330.7L852.5,328.4L853.9,326.6L853.3,325.0L851.8,324.6L850.6,323.6L848.7,325.3L846.3,325.9L843.9,326.5L843.6,327.1Z" fill="#fbf6fb"/>
<path d="M947.7,455.9L944.8,457.1L944.2,459.7L944.4,460.9L946.0,462.1L948.2,461.4L949.7,462.6L950.7,461.7L952.0,461.2L952.2,459.4L951.2,457.7L951.2,456.0L950.1,454.1L948.1,453.2Z" fill="#fbf6fb"/>
<path d="M950.0,446.1L950.5,447.7L953.3,447.2L955.5,448.3L957.6,449.7L959.7,451.2L962.3,450.7L962.0,448.5L962.6,446.4L963.5,444.3L960.7,444.7L958.8,443.5L956.8,442.4L954.9,441.1L953.2,439.4L952.6,441.3L951.9,443.1L950.1,444.4Z" fill="#f0e9f3"/>
<path d="M942.5,474.1L944.2,475.3L945.4,476.9L947.1,476.1L948.6,475.0L947.5,472.7L945.8,472.1L944.0,472.2L942.3,471.8L942.0,472.0Z" fill="#f3ecf5"/>
<path d="M833.1,401.0L834.0,404.2L831.2,405.5L831.0,408.1L830.0,410.3L828.2,412.2L829.3,413.7L829.4,415.5L831.9,415.7L833.5,417.8L835.7,418.8L837.9,419.5L839.9,420.7L842.6,420.4L844.9,421.0L845.8,424.5L848.5,424.4L849.6,422.3L851.3,420.5L851.6,417.9L853.5,416.2L854.8,414.2L853.7,412.3L853.2,410.3L853.9,407.9L852.7,406.0L850.6,405.0L849.4,402.6L847.0,402.2L845.7,399.9L842.8,400.2L841.2,398.3L839.0,398.7L836.9,399.8L834.6,399.1Z" fill="#f6eff6"/>
<path d="M940.8,489.7L940.3,491.7L942.6,492.9L944.9,494.1L946.4,493.1L947.3,491.4L949.0,490.7L948.7,489.3L948.4,488.0L947.4,487.2L946.4,486.3L944.3,485.8L942.4,486.5L940.6,487.7Z" fill="#fbf6fb"/>
<path d="M848.6,347.4L847.9,350.4L845.5,351.5L843.6,353.2L844.9,355.3L848.0,355.5L848.3,358.4L850.4,359.7L852.8,359.5L853.4,356.6L856.6,357.5L857.1,354.5L859.2,353.8L858.9,352.3L859.0,350.8L857.4,348.9L855.4,347.8L853.0,347.5L851.0,346.3Z" fill="#e2deee"/>
<path d="M770.0,367.9L773.3,367.6L773.8,371.0L776.4,371.5L778.1,369.5L780.6,369.6L782.4,367.8L785.4,369.1L786.8,366.3L789.2,366.2L792.0,366.9L793.5,364.6L791.1,363.5L791.3,360.2L790.3,358.0L787.0,357.5L785.8,355.4L784.0,353.8L784.1,350.7L781.2,350.0L780.7,347.3L778.4,346.0L775.9,346.8L774.3,349.1L771.7,349.8L770.1,352.1L767.4,352.6L766.7,353.3L767.7,354.6L770.8,356.0L773.8,357.7L772.6,360.7L770.4,363.1L769.0,366.0Z" fill="#faf4f9"/>
<path d="M850.7,376.0L853.2,377.4L854.0,379.7L853.4,382.6L854.7,384.6L856.9,384.5L858.3,386.7L860.4,386.8L862.7,386.3L864.9,385.8L865.8,383.5L868.9,383.6L869.4,380.9L871.7,380.0L871.9,377.5L872.3,375.0L874.9,373.2L875.5,370.8L875.7,368.2L874.1,367.1L873.2,365.4L871.7,364.3L870.8,364.2L867.8,363.6L865.5,364.7L863.2,365.9L860.6,366.3L858.5,368.0L855.9,368.2L854.3,371.5L851.5,371.2L850.6,372.5L849.8,373.8Z" fill="#f0e9f3"/>
<path d="M939.6,504.3L941.7,506.2L941.2,508.9L941.8,511.2L944.0,511.8L946.2,512.1L948.4,511.8L950.5,510.9L951.8,508.9L951.7,506.6L951.1,504.2L949.7,502.2L948.3,500.2L947.0,499.7L945.0,500.3L942.9,500.7L940.5,500.1L938.8,502.0Z" fill="#faf4f9"/>
<path d="M897.1,489.4L899.9,490.6L898.8,493.2L901.2,494.6L901.0,496.8L903.1,497.0L905.3,495.9L907.5,495.8L909.6,496.8L911.5,496.0L913.2,495.2L914.7,493.7L916.7,493.3L917.9,491.2L917.8,488.8L918.6,486.7L916.1,485.6L915.4,483.6L916.1,480.7L913.9,479.5L913.4,477.3L912.0,479.5L909.7,480.0L907.5,480.9L905.1,481.3L903.3,482.9L901.9,485.0L900.0,486.3L897.7,487.0Z" fill="#f6eff6"/>
<path d="M929.3,453.0L927.5,454.6L926.4,456.6L923.9,457.6L925.3,459.5L927.9,459.2L930.4,459.5L932.8,461.4L935.4,460.1L936.5,458.7L937.3,457.2L937.1,455.5L937.1,453.7L935.5,452.6L933.5,452.3L931.7,451.5L930.0,450.6Z" fill="#f3ecf5"/>
<path d="M828.4,272.7L830.2,274.5L831.5,276.5L831.4,279.1L831.4,279.6L832.3,281.0L834.2,278.7L837.1,277.4L839.0,275.0L839.5,278.0L841.5,280.4L840.1,283.9L839.3,285.6L839.7,285.8L842.0,286.1L843.8,284.5L845.8,283.5L848.4,284.0L850.3,282.6L853.1,283.8L855.2,283.1L856.9,281.2L857.9,279.5L858.8,277.8L857.2,275.8L854.8,274.4L853.8,272.1L853.2,269.4L851.3,267.7L849.6,265.8L848.0,263.9L847.2,261.3L845.0,259.9L842.5,262.1L840.3,260.1L838.0,259.1L835.6,260.4L834.4,262.6L833.9,265.3L832.0,267.0L829.8,268.4L828.1,270.2Z" fill="#f9f3f9"/>
<path d="M966.2,470.2L966.2,472.2L967.3,473.6L968.1,473.8L969.3,472.1L971.0,471.0L972.5,469.8L972.1,468.1L970.5,467.0L968.5,467.3L966.7,466.7L965.7,467.9L964.7,469.1Z" fill="#faf4f9"/>
<path d="M925.7,253.0L926.5,255.8L924.5,258.0L924.7,260.7L923.9,263.1L923.5,265.6L922.9,268.1L922.5,270.7L922.5,271.1L923.0,272.7L924.1,273.8L926.7,273.6L929.4,273.9L932.0,274.0L934.2,271.3L936.7,270.3L939.7,272.5L941.9,270.1L944.7,271.2L945.0,271.0L944.5,270.0L943.0,267.3L941.0,264.9L939.8,262.0L939.0,258.9L937.0,256.5L933.8,255.2L930.8,253.5L927.7,252.0L926.6,251.6Z" fill="#faf4f9"/>
<path d="M961.1,501.8L962.7,503.7L964.4,505.5L966.5,507.0L967.1,509.6L968.1,507.2L970.1,506.2L972.3,505.5L974.0,504.1L972.9,502.1L971.4,500.3L971.1,498.0L971.1,495.6L969.1,496.5L967.4,498.0L965.6,499.3L962.7,498.3L961.3,500.5Z" fill="#f0e9f3"/>
<path d="M998.2,388.9L999.8,390.8L1001.1,392.9L1002.4,395.1L1002.8,397.7L1004.6,399.5L1007.5,400.6L1008.1,403.1L1010.4,403.4L1012.7,403.9L1014.5,401.0L1016.8,401.9L1018.1,399.4L1017.4,396.8L1016.3,394.0L1018.6,391.7L1017.7,389.0L1019.8,386.7L1018.9,384.0L1017.7,382.7L1016.9,381.1L1015.5,380.0L1013.3,379.2L1011.0,379.7L1008.8,379.9L1006.5,379.2L1004.3,380.1L1002.1,379.2L999.8,379.6L999.9,382.1L997.6,383.9L997.6,386.4Z" fill="#f7f1f7"/>
<path d="M947.1,484.2L946.4,486.3L947.4,487.2L948.4,488.0L950.3,487.9L952.0,487.0L953.6,485.9L952.9,483.7L951.2,482.9L949.5,481.9L947.5,482.0Z" fill="#dcdcee"/>
<path d="M885.7,513.7L887.9,515.0L889.6,516.8L891.2,518.8L892.3,521.4L895.2,521.7L896.2,524.5L899.3,524.7L899.5,524.9L900.0,524.6L902.7,523.6L903.6,522.7L903.7,522.0L905.3,519.9L906.9,517.9L906.4,516.0L906.7,514.3L907.7,512.6L907.5,509.8L906.3,507.5L903.1,506.4L903.8,503.1L900.6,502.0L899.9,499.4L898.1,501.2L895.4,502.0L892.9,503.0L892.3,506.3L889.5,506.9L887.5,508.6L884.9,509.4L883.7,512.1Z" fill="#fbf6fb"/>
<path d="M996.0,371.1L996.6,373.4L997.2,375.7L999.6,377.1L999.8,379.6L1002.1,379.2L1004.3,380.1L1006.5,379.2L1008.8,379.9L1011.0,379.7L1013.3,379.2L1015.5,380.0L1017.5,377.9L1017.4,375.3L1017.4,372.7L1018.4,370.8L1015.4,370.3L1012.2,370.2L1009.2,368.6L1006.0,368.5L1003.0,369.1L1000.0,369.1L997.0,369.2L995.6,369.5Z" fill="#f9f3f9"/>
<path d="M938.9,467.7L939.4,470.2L941.0,472.1L942.0,472.0L942.3,471.8L943.8,470.7L944.6,468.9L945.7,467.4L944.9,465.2L943.3,463.5L941.4,464.4L939.4,464.9L937.5,465.8Z" fill="#f3ecf5"/>
<path d="M956.1,460.7L955.2,462.7L955.9,464.4L958.4,463.8L961.0,463.8L962.2,462.7L963.1,461.4L962.1,460.4L961.5,459.2L959.6,459.6L957.6,459.2Z" fill="#f3ecf5"/>
<path d="M876.6,408.0L875.9,409.9L875.0,411.6L876.5,413.8L878.9,414.8L881.0,413.9L882.6,412.4L884.6,411.3L884.9,409.8L882.2,409.1L880.9,406.7L879.1,404.9L877.8,405.9L876.1,406.0Z" fill="#faf4f9"/>
<path d="M944.2,356.3L941.3,357.3L939.1,358.6L939.9,362.1L936.8,362.8L935.0,364.4L934.9,367.2L935.9,369.3L935.1,371.8L936.5,373.8L936.9,376.0L939.2,377.1L941.7,376.4L944.3,376.1L946.4,377.8L947.7,375.5L950.9,375.2L952.1,372.7L953.2,370.3L955.5,369.0L955.5,368.8L953.5,367.4L952.8,364.9L952.5,362.3L949.4,361.7L948.3,359.5L947.8,357.0L944.8,356.3L944.4,353.6Z" fill="#f0e9f3"/>
<path d="M858.9,352.3L859.2,353.8L860.7,356.0L862.0,358.4L864.2,359.9L866.6,361.1L869.9,361.2L870.8,364.2L871.7,364.3L871.0,361.5L872.6,359.3L871.8,356.5L875.3,354.7L873.3,351.7L874.4,349.3L875.7,347.0L873.2,347.3L871.0,346.9L869.3,345.1L867.1,344.8L865.2,343.4L862.7,344.4L863.2,348.0L860.3,348.7L859.0,350.8Z" fill="#faf4f9"/>
<path d="M994.6,459.0L995.3,460.7L996.7,462.0L998.4,462.9L1000.0,461.0L1002.3,460.8L1003.4,460.0L1003.0,459.2L1004.1,456.2L1004.3,454.9L1002.0,454.4L1000.6,452.1L998.9,454.0L997.6,456.3L994.9,457.1Z" fill="#fbf5fa"/>
<path d="M787.9,547.8L787.3,550.3L785.8,552.6L786.8,554.1L789.2,554.9L791.0,553.1L793.1,552.5L795.2,552.4L795.0,550.6L794.8,548.7L792.5,547.8L790.8,545.8L788.4,545.2Z" fill="#fbf6fb"/>
<path d="M998.6,465.1L999.5,467.3L999.9,468.8L1001.5,467.6L1004.6,465.4L1004.5,462.1L1003.4,460.0L1002.3,460.8L1000.0,461.0L998.4,462.9Z" fill="#f0e9f3"/>
<path d="M895.8,265.9L897.2,269.7L893.2,270.2L892.7,272.8L892.2,275.5L890.6,277.5L893.1,278.7L893.1,281.8L894.7,283.7L897.7,284.6L898.1,287.4L900.6,287.8L902.9,286.0L905.3,285.5L907.7,284.6L910.6,287.6L912.9,286.3L915.3,285.4L917.6,284.2L920.2,284.9L919.8,282.3L922.6,280.8L923.0,278.4L924.8,276.6L924.1,273.8L923.0,272.7L922.5,271.1L919.9,271.4L917.7,270.8L916.1,268.2L914.0,267.0L911.2,268.1L909.5,265.9L907.0,265.9L905.5,263.3L902.7,264.1L900.6,263.8L898.6,264.6Z" fill="#fbf6fb"/>
<path d="M806.3,452.3L808.9,452.2L810.5,453.9L811.2,456.9L814.3,456.1L815.6,458.2L816.0,458.1L818.2,456.7L817.9,453.8L820.9,452.9L820.9,450.2L819.5,448.8L819.2,446.9L817.0,447.9L814.7,447.8L812.5,445.4L810.3,447.2L808.0,447.0L806.4,448.4L805.8,450.4Z" fill="#fbf5fa"/>
<path d="M806.4,472.0L806.4,474.2L807.2,476.1L809.1,476.4L810.9,475.8L812.6,475.1L811.8,472.9L813.4,470.9L813.0,468.8L810.6,468.8L808.4,467.7L806.2,468.6L804.9,470.5Z" fill="#fbf5fa"/>
<path d="M951.8,508.9L950.5,510.9L951.8,512.9L954.1,513.5L956.4,514.7L959.0,513.2L961.1,515.7L963.7,514.5L965.9,513.2L967.0,510.8L967.1,509.6L966.5,507.0L964.4,505.5L962.7,503.7L961.1,501.8L959.5,503.2L957.4,503.7L955.5,504.7L954.0,506.5L951.7,506.6Z" fill="#fbf6fb"/>
<path d="M800.6,524.2L803.3,525.9L803.0,528.6L804.4,530.8L803.1,533.9L806.7,535.3L806.2,538.1L806.8,540.5L807.9,543.1L808.6,543.2L809.5,542.6L810.8,540.8L811.9,538.1L813.8,536.0L817.1,534.9L820.1,533.3L823.0,531.5L826.5,530.1L830.0,529.4L829.3,527.3L828.5,525.0L827.5,522.7L826.7,520.4L824.3,521.3L821.9,521.7L819.5,520.1L817.2,521.9L814.8,521.1L812.4,520.8L810.1,522.3L807.6,519.9L805.2,520.7L802.8,520.9L800.5,521.6Z" fill="#faf4f9"/>
<path d="M945.1,478.3L945.0,479.7L946.1,480.7L947.4,481.4L949.3,480.3L950.6,478.5L950.0,476.8L949.3,475.2L948.6,475.0L947.1,476.1L945.4,476.9Z" fill="#faf4f9"/>
<path d="M913.4,376.6L912.4,378.5L911.7,380.5L912.0,382.6L913.8,384.4L916.8,384.7L918.9,386.2L920.5,388.2L922.7,389.6L924.5,391.5L925.9,393.7L927.0,393.8L927.5,391.4L926.9,388.6L928.8,386.7L930.3,384.7L929.7,381.9L931.6,380.0L929.3,378.8L927.2,377.5L924.2,377.6L922.5,375.5L920.5,373.9L918.5,372.4L916.8,373.2L914.8,373.4L913.1,374.4Z" fill="#faf4f9"/>
<path d="M880.1,300.9L880.5,303.3L879.7,305.6L880.8,308.1L883.3,307.1L885.0,310.4L887.5,309.2L889.7,309.9L890.6,307.5L892.1,305.7L895.5,305.9L896.2,303.4L897.8,301.7L896.7,299.5L895.7,297.2L895.5,294.6L893.4,296.1L891.0,296.7L888.4,296.5L886.2,297.8L883.6,297.7L881.3,298.6Z" fill="#faf4f9"/>
<path d="M936.2,497.3L936.2,499.1L936.9,500.9L938.8,502.0L940.5,500.1L942.9,500.7L945.0,500.3L947.0,499.7L946.9,497.6L945.7,495.9L944.9,494.1L942.6,492.9L940.3,491.7L939.1,493.1L937.3,493.8L936.4,495.5Z" fill="#f6eff6"/>
<path d="M962.6,446.4L962.0,448.5L962.3,450.7L963.0,451.5L965.2,451.9L967.2,453.0L969.4,453.6L971.2,455.0L972.5,454.2L973.8,453.3L973.3,450.8L975.3,448.9L975.7,446.6L974.8,444.2L973.3,442.5L971.3,441.3L969.3,440.1L967.4,441.7L965.3,442.7L963.5,444.3Z" fill="#fbf5fa"/>
<path d="M897.5,216.8L899.3,218.2L901.0,217.5L900.2,215.4L899.0,212.0L899.0,211.8L898.5,212.9L896.7,214.6Z" fill="#f3ecf5"/>
<path d="M939.6,477.4L941.7,478.3L943.2,479.9L945.0,479.7L945.1,478.3L945.4,476.9L944.2,475.3L942.5,474.1L942.0,472.0L941.0,472.1L939.3,473.1L938.5,474.8L938.5,475.5Z" fill="#fbf5fa"/>
<path d="M953.7,475.3L953.7,477.4L955.7,477.4L956.2,476.3L955.5,474.1L954.2,473.9L953.0,473.2L952.5,473.5Z" fill="#f0e9f3"/>
<path d="M919.3,516.4L919.4,517.8L921.1,519.3L922.9,520.5L924.8,521.7L925.7,521.6L926.6,519.9L927.8,518.4L927.7,516.4L927.0,514.3L925.1,513.0L923.6,514.4L921.6,514.5L919.8,515.1Z" fill="#f0e9f3"/>
<path d="M776.1,421.6L777.5,423.7L779.8,425.0L782.3,425.9L785.1,424.8L787.7,425.2L789.9,427.4L792.9,425.0L795.3,426.2L797.7,427.5L798.3,427.3L799.4,425.0L798.5,422.1L802.2,420.8L801.7,418.0L801.3,415.2L802.8,413.1L805.2,411.3L805.3,408.7L803.5,406.8L800.4,407.3L797.7,406.9L796.7,403.2L793.2,404.7L792.1,401.1L788.6,402.4L786.3,401.4L784.7,398.8L783.7,398.4L784.6,400.0L784.0,402.8L784.1,405.7L783.8,408.5L781.9,411.3L781.8,414.8L780.0,417.7L777.9,420.3L775.3,421.0Z" fill="#f0e9f3"/>
<path d="M898.2,467.2L896.1,468.6L895.1,470.9L892.5,471.9L892.3,474.9L889.4,475.6L888.6,478.1L888.4,479.4L890.8,480.2L892.4,482.1L894.8,482.9L895.4,485.9L897.7,487.0L900.0,486.3L901.9,485.0L903.3,482.9L905.1,481.3L907.5,480.9L909.7,480.0L912.0,479.5L913.4,477.3L914.2,475.9L914.7,474.3L913.2,472.8L913.1,470.6L911.6,469.0L910.8,467.2L908.8,465.2L906.1,466.9L903.8,466.6L901.5,466.4L899.4,465.0Z" fill="#f7f1f7"/>
<path d="M796.0,429.5L797.6,432.5L796.3,434.6L794.3,436.4L792.9,438.5L793.3,441.1L791.7,443.1L791.4,445.5L790.8,447.8L793.2,449.2L796.0,447.7L798.4,448.4L800.8,449.8L803.2,450.4L805.8,450.4L806.4,448.4L808.0,447.0L808.0,444.4L807.3,441.9L808.2,439.3L805.7,437.0L804.8,434.6L806.0,431.9L804.2,430.4L802.7,428.7L799.6,429.6L798.3,427.3L797.7,427.5Z" fill="#faf4f9"/>
<path d="M960.9,465.8L961.8,467.7L963.9,469.1L964.7,469.1L965.7,467.9L966.7,466.7L967.2,464.3L966.2,462.0L964.6,461.9L963.1,461.4L962.2,462.7L961.0,463.8Z" fill="#f7f1f7"/>
<path d="M829.6,335.0L831.9,335.9L834.3,335.0L835.6,332.9L836.6,330.7L836.3,328.1L833.9,326.6L834.1,323.3L832.0,321.7L829.5,322.2L829.2,323.4L827.7,325.8L828.7,329.2L830.8,332.0L829.2,333.5Z" fill="#f7f1f7"/>
<path d="M853.9,407.9L853.2,410.3L853.7,412.3L854.8,414.2L856.9,415.4L859.1,413.0L861.2,414.4L863.3,415.0L865.5,414.2L866.6,412.7L868.3,410.4L866.3,407.8L868.7,405.7L867.6,403.1L865.5,402.1L863.2,401.5L861.5,399.8L859.3,400.4L858.6,403.1L856.8,404.3L853.7,403.8L852.7,406.0Z" fill="#fbf6fb"/>
<path d="M933.5,414.5L931.0,417.0L931.3,419.4L932.1,421.8L932.3,424.2L933.7,426.2L935.5,427.5L937.2,429.0L940.3,428.1L941.7,430.0L943.0,429.7L946.0,429.0L946.3,425.7L947.4,423.3L949.3,421.5L951.9,420.4L951.0,418.0L950.5,415.5L950.9,412.9L948.4,413.8L946.3,411.3L943.9,411.8L941.6,411.0L939.1,412.1L936.9,410.8L934.4,412.2L932.1,411.4L931.6,412.1Z" fill="#ece4f2"/>
<path d="M790.3,494.2L792.3,495.7L793.9,497.6L794.4,500.4L795.1,503.0L796.0,505.5L798.8,506.4L800.3,503.9L802.5,502.7L805.0,502.0L808.1,502.5L810.6,502.0L812.0,499.0L814.6,498.6L816.7,497.2L817.1,495.5L816.9,494.7L816.8,494.7L813.5,493.8L809.7,493.5L806.0,492.6L802.7,492.9L799.5,492.6L796.3,492.0L793.0,492.2L789.9,493.9L789.1,493.9Z" fill="#faf4f9"/>
<path d="M929.7,381.9L930.3,384.7L928.8,386.7L926.9,388.6L927.5,391.4L927.0,393.8L929.1,395.2L930.7,397.4L933.1,396.5L935.4,395.1L938.4,397.2L940.7,395.6L943.3,395.7L945.7,394.7L946.7,392.3L948.4,390.3L949.7,388.0L949.3,385.9L947.6,384.2L947.1,382.1L948.6,379.4L946.4,377.8L944.3,376.1L941.7,376.4L939.2,377.1L936.9,376.0L934.7,376.7L933.4,378.7L931.6,380.0Z" fill="#f0e9f3"/>
<path d="M912.5,450.7L914.0,452.3L916.1,453.7L916.6,455.8L919.1,456.1L921.3,457.8L923.9,457.6L926.4,456.6L927.5,454.6L929.3,453.0L930.0,450.6L930.7,448.5L930.8,446.3L930.4,444.2L929.6,442.2L927.8,441.2L926.1,440.1L924.2,441.4L921.4,441.1L921.0,444.9L918.3,444.8L917.0,447.0L914.7,447.7L912.4,448.3Z" fill="#fbf6fb"/>
<path d="M966.0,488.8L965.9,490.5L967.9,492.0L969.2,494.0L971.2,495.4L972.3,494.5L973.3,492.6L974.6,490.7L972.5,488.0L974.3,486.2L972.9,485.3L971.3,485.0L969.1,486.4L966.6,487.1Z" fill="#f8f2f8"/>
<path d="M832.4,487.9L834.6,488.2L836.3,489.4L838.5,488.2L839.9,485.8L842.2,484.8L843.2,482.8L842.4,480.7L841.7,478.6L842.9,476.7L841.3,475.0L840.0,473.8L839.4,475.7L837.0,477.8L835.1,480.1L833.8,482.8L832.0,485.2L831.2,486.6Z" fill="#faf4f9"/>
<path d="M853.7,309.4L854.0,311.5L855.5,313.1L856.1,315.1L857.2,316.3L858.8,316.6L861.1,315.8L862.9,314.5L863.5,311.6L866.0,311.0L867.4,309.2L867.4,307.2L865.3,306.0L865.2,304.1L862.6,303.2L860.3,304.0L857.9,305.2L855.7,306.7L853.1,305.4L852.5,307.7Z" fill="#f0e9f3"/>
<path d="M953.0,480.1L953.6,482.1L955.0,481.2L956.5,480.9L956.5,478.5L955.7,477.4L953.7,477.4L951.8,478.6Z" fill="#f0e9f3"/>
<path d="M938.9,444.6L940.3,446.7L939.6,449.0L940.1,451.2L941.8,452.6L944.1,451.8L946.0,452.4L948.0,452.7L948.5,450.8L950.3,449.7L950.5,447.7L950.0,446.1L950.1,444.4L948.0,443.5L945.9,442.9L943.8,442.0L941.6,441.2L939.2,442.4Z" fill="#f6eff6"/>
<path d="M803.8,358.2L802.7,359.7L803.9,362.2L806.1,363.0L807.8,364.7L810.7,364.4L812.8,365.5L814.1,367.8L816.7,368.1L818.1,366.2L820.3,365.4L821.8,363.5L823.6,362.2L826.6,362.5L827.8,360.3L828.7,357.5L827.0,355.4L824.6,353.6L825.2,350.8L824.1,348.5L822.3,348.3L820.8,347.2L818.0,347.1L817.1,350.5L815.1,351.8L812.4,351.9L810.3,353.1L807.6,353.1L806.8,356.6L803.9,356.3Z" fill="#fbf6fb"/>
<path d="M876.0,254.1L874.5,256.4L873.7,258.7L874.3,261.1L875.4,263.5L874.4,265.8L874.7,268.1L873.2,270.4L875.5,272.8L874.6,275.2L875.7,276.0L878.1,276.7L880.7,276.6L883.2,276.5L885.6,277.8L888.0,278.8L890.6,277.5L892.2,275.5L892.7,272.8L893.2,270.2L897.2,269.7L895.8,265.9L898.6,264.6L895.9,263.4L896.2,260.2L895.4,257.8L893.0,256.5L891.2,254.4L888.1,256.8L886.0,255.7L884.0,254.3L881.7,253.7L879.9,251.6L877.3,252.2L875.1,251.7Z" fill="#f3ecf5"/>
<path d="M916.9,347.2L914.5,349.2L914.1,351.8L913.5,354.3L913.9,357.1L915.9,358.1L917.7,359.5L918.9,361.5L919.8,363.9L922.4,364.2L924.0,363.3L925.8,362.8L925.2,360.1L926.8,358.0L928.5,355.9L928.6,353.4L928.8,351.0L929.0,348.5L926.9,347.0L923.9,348.4L922.1,345.8L920.0,344.2L917.3,344.6Z" fill="#f6eff6"/>
<path d="M964.4,483.2L964.2,485.0L965.1,486.3L966.6,487.1L969.1,486.4L971.3,485.0L969.9,483.8L969.7,481.9L969.0,480.3L967.5,480.2L966.1,480.5L964.7,481.5Z" fill="#dedcee"/>
<path d="M850.3,320.0L849.6,321.9L850.6,323.6L851.8,324.6L853.3,325.0L854.5,323.2L856.0,321.6L857.5,319.9L859.3,318.6L858.8,316.6L857.2,316.3L856.1,315.1L854.0,316.4L851.5,316.9L849.5,318.3Z" fill="#f8f2f8"/>
<path d="M927.0,514.3L927.7,516.4L930.2,516.5L932.7,516.3L933.4,514.3L934.9,512.9L934.2,510.2L931.7,509.0L930.2,507.0L928.1,505.5L928.4,507.8L927.2,509.5L924.8,510.7L925.1,513.0Z" fill="#f7f1f7"/>
<path d="M935.6,462.0L936.7,463.6L936.8,465.5L937.5,465.8L939.4,464.9L941.4,464.4L943.3,463.5L943.5,462.0L944.4,460.9L944.2,459.7L941.7,459.4L940.0,456.9L937.3,457.2L936.5,458.7L935.4,460.1Z" fill="#f9f3f9"/>
<path d="M906.7,514.3L906.4,516.0L906.9,517.9L909.3,518.9L911.6,520.3L914.4,519.4L916.9,520.0L918.3,519.2L919.4,517.8L919.3,516.4L919.8,515.1L918.5,513.6L916.7,512.5L916.1,510.5L914.3,512.2L912.1,512.3L909.6,511.0L907.7,512.6Z" fill="#f3ecf5"/>
<path d="M982.9,460.0L983.1,461.3L985.4,461.8L986.8,463.8L988.8,464.8L990.4,462.5L993.2,462.2L995.3,460.7L994.6,459.0L994.9,457.1L993.3,455.7L990.6,455.9L989.9,453.0L987.7,452.4L987.5,454.7L985.1,455.3L984.8,457.6L982.9,458.6Z" fill="#f0e9f3"/>
<path d="M836.6,330.7L835.6,332.9L834.3,335.0L835.6,336.9L837.5,337.3L839.5,337.8L841.4,338.4L843.5,337.2L844.1,335.1L843.9,332.7L845.4,331.2L844.2,329.3L843.6,327.1L841.0,326.3L838.7,327.5L836.3,328.1Z" fill="#f0e9f3"/>
<path d="M890.8,311.5L890.6,313.5L891.5,315.3L893.4,314.7L895.4,316.0L897.3,315.4L899.1,313.8L898.4,311.0L900.6,309.7L900.7,307.4L902.2,305.7L901.1,304.0L898.9,303.4L897.8,301.7L896.2,303.4L895.5,305.9L892.1,305.7L890.6,307.5L889.7,309.9Z" fill="#f8f2f8"/>
<path d="M969.1,475.8L970.5,477.5L972.4,476.3L974.5,477.0L976.4,476.8L977.6,475.7L978.6,474.4L976.2,473.4L975.0,470.8L972.5,469.8L971.0,471.0L969.3,472.1L968.1,473.8Z" fill="#f3ecf5"/>
<path d="M775.2,373.7L776.4,371.5L773.8,371.0L773.3,367.6L770.0,367.9L769.0,366.0L769.0,366.0L766.3,368.8L763.0,370.8L760.5,373.5L757.7,376.0L755.7,378.8L753.7,381.5L752.3,384.6L755.7,383.3L758.5,381.0L761.5,379.0L764.4,377.2L767.7,376.0L770.8,374.9L774.1,374.6L775.3,373.9Z" fill="#fbf5fa"/>
<path d="M839.3,313.6L838.8,316.0L838.6,318.5L840.6,319.1L842.4,320.3L843.8,319.0L845.8,318.6L847.3,317.2L847.2,315.4L847.3,313.6L846.0,312.1L844.4,311.2L842.4,311.3L840.7,310.3L839.5,311.1Z" fill="#f6eff6"/>
<path d="M786.8,554.1L785.8,552.6L783.2,552.9L781.3,551.2L779.2,550.0L777.1,548.9L775.0,547.6L772.5,547.6L770.2,547.1L768.7,549.2L765.7,549.8L764.8,552.6L763.7,553.6L764.7,553.6L767.7,552.3L770.8,551.7L773.8,552.3L776.8,554.2L780.0,556.0L783.0,555.5L786.0,556.0L786.2,556.1Z" fill="#f8f2f8"/>
<path d="M841.0,340.9L839.3,342.7L840.2,345.4L838.9,347.3L839.7,349.6L842.2,350.8L843.0,353.2L843.6,353.2L845.5,351.5L847.9,350.4L848.6,347.4L851.0,346.3L850.3,344.0L850.9,341.7L848.4,341.5L846.1,340.6L843.7,340.3L841.6,338.8Z" fill="#dcdaec"/>
<path d="M913.9,479.5L916.1,480.7L915.4,483.6L916.1,485.6L918.6,486.7L920.8,485.3L923.1,485.2L925.6,485.6L927.4,483.6L926.9,480.8L928.0,478.6L927.9,478.3L924.9,478.4L923.9,474.7L921.6,473.4L918.6,473.8L916.6,473.6L914.7,474.3L914.2,475.9L913.4,477.3Z" fill="#f8f2f8"/>
<path d="M806.9,478.6L807.2,476.1L806.4,474.2L806.4,472.0L804.9,470.5L803.2,469.5L801.2,469.0L798.8,469.6L797.0,469.7L798.7,470.9L800.0,473.5L802.4,475.8L805.0,477.8L806.3,478.7Z" fill="#f8f2f8"/>
<path d="M942.2,482.1L939.7,483.0L938.6,485.1L939.6,486.4L940.6,487.7L942.4,486.5L944.3,485.8L946.4,486.3L947.1,484.2L947.5,482.0L947.4,481.4L946.1,480.7L945.0,479.7L943.2,479.9Z" fill="#fbf5fa"/>
<path d="M1024.0,408.3L1024.9,410.8L1022.4,413.5L1022.6,416.1L1023.9,418.6L1022.5,421.3L1024.0,423.8L1024.4,426.3L1026.9,427.2L1029.5,428.0L1029.8,429.8L1030.4,428.3L1032.9,425.7L1033.8,422.3L1034.7,419.1L1036.6,416.3L1037.0,413.0L1037.2,409.8L1038.0,406.8L1039.2,403.8L1039.3,401.8L1038.6,401.9L1035.9,401.9L1033.6,403.3L1031.3,404.7L1028.6,404.8L1025.8,404.4L1023.5,405.7Z" fill="#ebe4f1"/>
<path d="M948.1,453.2L950.1,454.1L951.2,456.0L953.6,455.2L956.0,455.9L956.6,453.8L958.9,453.1L959.7,451.2L957.6,449.7L955.5,448.3L953.3,447.2L950.5,447.7L950.3,449.7L948.5,450.8L948.0,452.7Z" fill="#f3ecf5"/>
<path d="M776.1,541.2L778.4,542.1L781.5,540.7L783.7,541.9L786.3,541.8L788.0,544.2L790.0,543.3L790.1,540.7L792.1,539.9L792.1,537.5L791.3,535.2L792.5,532.6L789.1,530.7L788.7,528.4L788.8,525.9L789.5,523.4L787.2,523.0L785.2,525.0L783.0,525.0L780.5,522.8L778.4,523.3L776.3,524.6L775.9,527.0L774.0,529.1L773.7,531.5L773.9,534.0L774.3,536.4L774.4,538.8Z" fill="#f8f2f8"/>
<path d="M901.1,241.1L902.5,242.7L903.9,244.3L905.8,243.0L908.1,243.0L909.1,240.9L908.6,238.4L908.6,238.0L907.6,237.3L907.3,237.7L905.4,238.9L902.4,237.9L901.3,240.4L898.9,240.6Z" fill="#e4e0f0"/>
<path d="M840.5,353.8L839.3,355.8L839.1,358.9L835.4,358.2L834.8,360.9L833.0,362.2L834.4,364.3L834.5,367.1L835.5,369.4L838.6,370.6L839.0,373.2L841.2,373.3L843.3,374.1L845.6,372.0L847.7,372.4L849.8,373.8L850.6,372.5L851.5,371.2L850.3,369.0L851.2,366.6L852.4,364.2L850.7,362.0L850.4,359.7L848.3,358.4L848.0,355.5L844.9,355.3L843.6,353.2L843.0,353.2Z" fill="#f9f3f9"/>
<path d="M855.2,467.6L855.4,470.1L857.9,470.8L859.8,472.4L861.9,473.6L862.3,477.0L864.9,477.7L867.0,476.8L865.6,474.3L866.4,471.9L868.2,469.5L868.3,467.1L869.5,464.7L868.1,462.1L866.0,461.5L864.4,460.0L862.2,459.7L859.9,460.3L858.6,462.1L857.8,464.5L855.6,465.2Z" fill="#f0e9f3"/>
<path d="M956.2,476.3L957.2,475.4L958.5,475.0L958.7,473.1L956.6,472.7L955.5,474.1Z" fill="#f3ecf5"/>
<path d="M949.8,464.3L949.3,466.0L951.2,466.7L952.8,467.9L954.4,466.9L955.7,465.7L955.9,464.4L955.2,462.7L953.6,462.0L952.0,461.2L950.7,461.7L949.7,462.6Z" fill="#fbf6fb"/>
<path d="M817.4,370.5L815.9,373.4L817.9,375.7L818.3,378.2L818.7,380.8L819.3,383.3L821.5,383.2L822.8,385.8L825.5,384.1L827.1,385.8L829.5,384.7L831.6,383.2L832.8,381.0L834.7,379.4L835.5,376.7L837.4,375.0L839.0,373.2L838.6,370.6L835.5,369.4L834.5,367.1L834.4,364.3L833.0,362.2L831.5,360.8L829.7,360.6L827.8,360.3L826.6,362.5L823.6,362.2L821.8,363.5L820.3,365.4L818.1,366.2L816.7,368.1Z" fill="#faf4f9"/>
<path d="M829.3,418.2L827.4,420.2L826.6,422.6L824.7,424.6L824.1,427.1L822.8,429.4L823.2,432.2L824.3,435.0L828.3,433.7L828.9,437.2L831.5,437.8L833.2,439.9L835.1,441.4L837.7,442.1L838.2,442.1L839.1,439.8L840.2,437.6L842.5,436.4L844.4,434.8L845.3,432.5L846.8,430.8L847.6,428.4L849.3,426.7L848.5,424.4L845.8,424.5L844.9,421.0L842.6,420.4L839.9,420.7L837.9,419.5L835.7,418.8L833.5,417.8L831.9,415.7L829.4,415.5Z" fill="#f6eff6"/>
<path d="M933.9,484.9L933.1,487.3L931.9,489.3L929.6,490.2L929.7,491.7L932.0,492.8L934.5,493.6L936.4,495.5L937.3,493.8L939.1,493.1L940.3,491.7L940.8,489.7L940.6,487.7L939.6,486.4L938.6,485.1L936.3,484.1Z" fill="#f9f3f9"/>
<path d="M981.6,396.5L981.9,398.8L983.1,401.1L982.7,403.4L984.7,404.5L987.5,403.9L989.7,404.9L991.0,407.7L993.7,407.4L995.1,410.0L997.9,409.4L999.8,411.0L1001.5,409.5L1003.7,408.5L1004.2,405.7L1006.5,404.7L1008.1,403.1L1007.5,400.6L1004.6,399.5L1002.8,397.7L1002.4,395.1L1001.1,392.9L999.8,390.8L998.2,388.9L997.6,386.4L995.4,387.4L992.5,387.1L991.7,391.0L989.4,391.8L986.8,392.2L983.9,391.8L982.3,394.1Z" fill="#faf4f9"/>
<path d="M878.5,460.2L881.9,461.3L882.6,463.9L883.6,466.3L884.5,468.6L885.1,471.2L885.8,473.7L888.8,475.1L888.6,478.1L889.4,475.6L892.3,474.9L892.5,471.9L895.1,470.9L896.1,468.6L898.2,467.2L899.4,465.0L899.1,462.6L897.3,460.6L898.1,458.0L897.2,455.8L897.0,453.4L894.6,453.9L892.3,453.6L889.9,453.7L887.9,451.5L885.5,451.4L883.2,451.6L880.9,451.3L880.4,453.5L878.6,455.2L878.2,457.5Z" fill="#f0e9f3"/>
<path d="M950.0,476.8L950.6,478.5L951.8,478.6L953.7,477.4L953.7,475.3L952.5,473.5L951.8,473.5L950.4,474.2L949.3,475.2Z" fill="#d4d8ec"/>
<path d="M975.3,448.9L973.3,450.8L973.8,453.3L975.5,454.5L977.4,455.4L979.1,456.7L981.3,457.0L982.9,458.6L984.8,457.6L985.1,455.3L987.5,454.7L987.7,452.4L988.3,450.2L986.5,448.1L987.5,445.9L987.5,443.7L985.5,445.8L983.0,445.9L980.5,445.7L978.0,445.7L975.7,446.6Z" fill="#ebe4f1"/>
<path d="M1008.5,487.0L1009.1,489.3L1008.0,491.7L1008.4,494.0L1010.2,496.1L1016.3,501.0L1018.2,499.9L1020.9,498.4L1023.8,497.0L1024.2,493.3L1025.1,489.7L1025.8,486.0L1025.7,483.7L1025.4,481.5L1021.5,481.8L1017.7,483.1L1013.8,483.0L1010.0,484.5L1008.8,484.5L1008.8,484.6Z" fill="#f8f2f8"/>
<path d="M949.3,480.3L947.4,481.4L947.5,482.0L949.5,481.9L951.2,482.9L952.9,483.7L953.6,482.1L953.0,480.1L951.8,478.6L950.6,478.5Z" fill="#fbf5fa"/>
<path d="M866.8,416.4L867.0,419.1L868.3,421.2L869.8,423.3L871.0,425.5L873.1,425.7L875.2,425.7L877.2,424.8L878.8,422.5L878.7,419.9L878.2,417.3L878.9,414.8L876.5,413.8L875.0,411.6L872.9,411.8L870.9,413.2L868.6,411.7L866.6,412.7L865.5,414.2Z" fill="#fbf5fa"/>
<path d="M958.5,475.0L960.1,475.7L961.1,477.1L963.0,475.7L961.6,474.2L961.1,472.2L959.7,472.2L958.7,473.1Z" fill="#f7f1f7"/>
<path d="M843.0,322.3L842.8,324.5L843.9,326.5L846.3,325.9L848.7,325.3L850.6,323.6L849.6,321.9L850.3,320.0L849.5,318.3L847.3,317.2L845.8,318.6L843.8,319.0L842.4,320.3Z" fill="#f0e9f3"/>
<path d="M790.5,460.9L788.6,463.6L789.1,465.5L791.4,465.5L793.8,465.0L795.2,467.0L796.3,469.2L797.0,469.7L798.8,469.6L801.2,469.0L801.4,466.9L803.0,465.0L801.4,462.7L802.2,460.7L799.4,461.6L797.4,458.2L794.4,460.5L791.9,459.9L789.5,458.3Z" fill="#f3ecf5"/>
<path d="M869.1,312.0L869.0,314.1L870.8,315.7L870.5,317.9L872.8,318.3L873.8,320.5L875.7,321.4L877.4,320.6L879.3,321.3L881.1,321.0L880.6,318.6L882.3,316.1L881.4,313.7L881.9,311.2L880.1,308.9L877.9,309.7L875.5,309.0L873.3,310.1L870.9,308.6L868.7,310.0Z" fill="#f0e9f3"/>
<path d="M868.0,426.2L867.9,429.6L866.8,432.1L863.4,432.4L862.2,434.8L862.7,437.1L863.2,439.3L865.0,440.9L866.9,442.0L869.5,442.1L871.1,444.0L872.9,445.3L876.0,444.2L877.4,446.6L879.5,447.4L879.8,445.1L881.9,443.7L882.0,441.3L884.7,440.2L883.8,437.3L885.6,435.7L885.6,433.0L884.8,430.6L881.0,429.7L881.3,426.8L879.3,425.7L877.2,424.8L875.2,425.7L873.1,425.7L871.0,425.5Z" fill="#f3ecf5"/>
<path d="M838.0,463.7L839.1,465.5L840.3,467.3L840.9,468.4L844.3,467.4L845.7,464.8L848.0,463.0L848.6,462.0L848.4,461.7L847.7,459.9L847.9,457.6L845.8,456.5L844.1,457.9L842.9,460.1L840.7,460.8L838.4,461.4Z" fill="#faf4f9"/>
<path d="M846.7,468.4L847.9,466.8L848.0,464.6L849.7,463.3L849.3,462.9L848.0,464.3L846.0,467.8L845.4,468.4Z" fill="#faf4f9"/>
<path d="M929.6,473.7L929.5,476.5L927.9,478.3L928.0,478.6L930.2,479.9L933.2,479.5L935.1,481.6L935.8,479.4L937.7,477.7L938.5,475.5L938.5,474.8L936.3,473.8L934.0,473.3L931.8,472.3Z" fill="#fbf6fb"/>
<path d="M951.2,457.7L952.2,459.4L952.0,461.2L953.6,462.0L955.2,462.7L956.1,460.7L957.6,459.2L957.1,457.4L956.0,455.9L953.6,455.2L951.2,456.0Z" fill="#f6eff6"/>
<path d="M957.1,457.4L957.6,459.2L959.6,459.6L961.5,459.2L961.3,457.2L961.3,455.2L962.0,453.3L963.0,451.5L962.3,450.7L959.7,451.2L958.9,453.1L956.6,453.8L956.0,455.9Z" fill="#fbf6fb"/>
<path d="M991.4,479.0L992.0,481.2L994.1,482.7L995.5,484.6L995.5,487.0L997.5,485.2L1000.2,487.5L1002.1,485.7L1004.6,486.6L1006.6,484.9L1008.8,484.6L1008.8,484.5L1006.0,484.6L1004.7,482.8L1003.0,481.5L999.7,480.5L997.0,478.5L993.2,477.0L990.4,477.0Z" fill="#f6eff6"/>
<path d="M960.1,481.6L958.9,482.9L959.9,484.6L961.6,485.6L962.9,485.4L964.2,485.0L964.4,483.2L964.7,481.5L963.2,480.4L961.3,480.3Z" fill="#f3ecf5"/>
<path d="M945.8,430.1L946.0,433.3L948.2,434.3L948.8,437.0L952.5,436.3L953.2,439.0L953.9,436.4L957.4,436.2L958.9,434.3L958.6,431.0L960.9,429.7L962.3,427.8L959.5,427.4L957.3,426.0L956.1,423.3L953.4,422.7L951.9,420.4L949.3,421.5L947.4,423.3L946.3,425.7L946.0,429.0L943.0,429.7Z" fill="#f6eff6"/>
<path d="M757.2,443.3L755.2,444.8L755.2,447.6L754.2,449.7L753.7,452.1L751.6,453.7L751.7,456.6L755.0,457.6L754.8,460.7L756.6,462.0L757.0,461.8L758.0,459.5L758.0,457.0L761.7,455.9L765.5,455.7L768.6,456.8L771.7,458.0L772.4,460.7L772.9,461.4L773.2,461.3L773.0,458.0L774.6,456.2L776.3,454.6L778.0,452.9L780.0,451.6L778.0,449.9L776.1,448.2L775.1,445.8L775.4,442.6L773.6,440.8L771.6,439.1L769.5,440.4L767.1,439.5L765.0,440.3L762.7,439.8L760.4,439.5L758.5,441.3Z" fill="#fbf6fb"/>
<path d="M956.6,472.7L958.7,473.1L959.7,472.2L958.6,470.7L957.8,469.0L956.6,469.9L955.7,471.2Z" fill="#f9f3f9"/>
<path d="M930.4,444.2L930.8,446.3L930.7,448.5L930.0,450.6L931.7,451.5L933.5,452.3L935.5,452.6L937.1,453.7L938.8,452.7L940.1,451.2L939.6,449.0L940.3,446.7L938.9,444.6L939.2,442.4L937.4,440.6L935.5,441.5L933.3,440.6L931.7,442.8L929.6,442.2Z" fill="#fbf5fa"/>
<path d="M944.5,310.7L943.6,313.1L942.1,315.0L940.2,316.6L937.7,317.8L936.6,320.0L935.8,322.6L934.2,324.4L935.9,325.9L936.5,328.1L937.8,329.8L940.3,329.8L942.9,329.3L945.0,331.6L947.5,331.1L949.8,332.5L952.5,331.2L954.8,332.3L955.9,330.1L957.6,328.2L957.0,325.2L958.9,324.4L958.0,322.6L955.4,321.0L953.0,317.8L950.3,314.9L947.0,312.5L950.5,312.7L953.2,313.7L953.1,313.7L951.0,312.2L949.5,310.0L946.7,309.3Z" fill="#f0e9f3"/>
<path d="M881.4,369.0L881.4,372.4L883.4,374.0L886.2,374.6L886.8,377.5L889.8,378.0L891.8,379.5L892.5,382.3L893.3,382.0L894.7,380.1L895.0,377.5L895.7,375.1L899.4,374.6L899.5,371.9L898.8,369.7L898.5,367.2L896.0,366.0L894.8,364.1L893.1,362.4L892.6,360.1L891.1,362.1L889.2,363.4L886.5,363.4L884.6,364.7L882.7,366.2L880.0,366.1L878.6,368.3Z" fill="#f8f2f8"/>
<path d="M829.6,309.6L832.3,309.0L834.7,309.4L836.8,311.7L839.5,311.1L840.7,310.3L841.8,308.1L842.6,305.9L842.5,303.5L842.0,301.1L839.4,302.0L837.1,300.8L834.7,301.0L832.2,300.7L830.6,300.6L830.6,301.9L829.9,305.8L829.0,309.6Z" fill="#fbf6fb"/>
<path d="M898.3,222.3L898.6,224.6L901.0,222.8L903.8,225.1L903.9,224.9L903.0,222.0L901.5,218.7L901.0,217.5L899.3,218.2L897.8,219.9Z" fill="#e0deee"/>
<path d="M994.0,505.5L990.5,505.9L990.7,509.1L988.5,510.4L986.2,511.6L986.0,514.5L984.1,516.0L983.1,517.7L983.6,519.6L983.6,519.8L986.1,519.0L989.0,517.3L992.3,517.0L994.9,515.2L997.0,513.0L999.7,514.2L1002.7,514.3L1003.6,514.6L998.3,503.9L996.4,503.1L994.3,502.8Z" fill="#f8f2f8"/>
<path d="M837.3,491.8L838.5,494.0L838.9,496.6L839.7,499.0L842.6,500.5L843.7,502.7L843.9,505.4L846.2,506.6L848.6,504.7L850.9,505.9L852.9,504.3L855.5,503.4L856.8,501.1L858.1,498.9L858.1,498.1L857.2,495.5L855.2,493.7L852.6,492.3L853.5,488.6L849.7,488.0L849.4,485.1L847.0,485.0L844.6,484.7L842.2,484.8L839.9,485.8L838.5,488.2L836.3,489.4Z" fill="#f9f3f9"/>
<path d="M944.6,468.9L943.8,470.7L942.3,471.8L944.0,472.2L945.8,472.1L947.5,472.7L948.9,470.7L948.3,468.8L946.9,467.5L945.7,467.4Z" fill="#dcdcee"/>
<path d="M905.5,255.0L905.7,257.7L903.8,259.5L904.6,262.4L902.7,264.1L905.5,263.3L907.0,265.9L909.5,265.9L911.2,268.1L914.0,267.0L916.1,268.2L917.7,270.8L919.9,271.4L922.5,271.1L922.5,270.7L922.1,268.2L919.3,266.9L919.9,264.0L919.5,261.5L916.3,260.4L916.9,257.5L915.0,255.8L914.0,253.6L911.8,253.1L909.5,254.0L907.3,253.2Z" fill="#faf4f9"/>
<path d="M903.1,246.8L903.7,249.4L905.2,250.4L906.6,251.4L907.5,249.3L909.4,248.0L910.5,246.2L909.6,244.3L908.1,243.0L905.8,243.0L903.9,244.3Z" fill="#f0e9f3"/>
<path d="M735.9,459.3L739.7,460.3L741.5,458.2L743.6,456.8L746.1,455.7L747.4,453.1L746.2,450.7L744.6,448.7L742.6,447.1L740.6,445.5L739.0,443.4L737.3,441.5L735.7,440.6L733.5,442.0L730.0,443.9L727.4,447.0L730.6,448.8L733.0,451.5L732.2,454.3L731.0,457.0L733.0,459.7L735.6,461.0Z" fill="#faf4f9"/>
<path d="M972.5,469.8L975.0,470.8L976.2,473.4L978.6,474.4L980.1,474.0L980.4,471.5L981.1,469.0L978.8,466.4L980.4,464.0L978.3,463.5L976.3,463.6L974.3,464.1L973.6,466.3L972.1,468.1Z" fill="#f7f1f7"/>
<path d="M752.2,433.2L753.6,435.3L754.9,437.5L755.9,439.9L758.5,441.3L760.4,439.5L762.7,439.8L765.0,440.3L767.1,439.5L769.5,440.4L771.6,439.1L773.9,437.5L773.8,434.9L775.5,433.1L774.1,430.0L775.8,428.1L776.6,425.9L777.5,423.7L776.1,421.6L775.3,421.0L774.4,421.2L772.3,423.8L769.4,424.9L766.9,426.4L764.6,428.5L761.4,428.6L758.5,429.4L755.7,431.0L753.4,432.7L752.2,433.1Z" fill="#f3ecf5"/>
<path d="M823.1,464.1L822.1,466.0L822.1,467.9L823.5,469.5L825.7,469.5L827.9,469.5L829.4,471.1L829.2,468.7L831.7,467.2L832.4,465.0L832.2,462.6L832.9,460.4L831.2,458.6L828.9,459.3L827.2,461.5L825.1,462.5L822.4,462.2Z" fill="#e4e0f0"/>
<path d="M956.8,467.0L957.9,468.4L959.9,468.5L961.8,467.7L960.9,465.8L961.0,463.8L958.4,463.8L955.9,464.4L955.7,465.7Z" fill="#f8f2f8"/>
<path d="M945.6,397.4L948.5,398.4L948.8,400.8L951.0,402.2L950.3,405.3L953.8,405.9L953.8,408.6L955.5,407.2L957.6,407.3L959.5,406.5L961.5,406.1L961.6,403.8L961.5,401.4L961.9,399.1L961.1,396.6L963.3,394.6L962.6,392.1L963.7,389.9L961.4,389.0L959.1,388.9L956.6,389.6L954.3,389.0L952.2,387.1L949.7,388.0L948.4,390.3L946.7,392.3L945.7,394.7Z" fill="#f8f2f8"/>
<path d="M893.1,362.4L894.8,364.1L896.0,366.0L898.5,367.2L898.8,369.7L899.5,371.9L901.8,371.6L904.1,370.3L906.6,371.8L908.9,371.2L908.3,369.0L909.2,366.8L909.0,364.6L909.4,362.4L908.6,360.3L906.0,360.0L903.6,359.6L902.0,357.1L899.7,356.4L898.0,354.1L895.2,354.4L894.1,356.2L893.5,358.2L892.6,360.1Z" fill="#d8daee"/>
<path d="M863.9,482.3L861.7,484.2L862.5,486.9L861.4,489.1L860.4,491.2L858.7,493.3L858.9,495.8L858.1,498.1L858.1,498.9L860.7,498.7L863.3,498.9L865.8,498.2L868.4,497.9L870.8,501.0L873.5,499.6L874.1,497.2L874.8,494.9L877.1,493.4L877.7,491.0L877.3,488.2L881.0,487.3L880.9,484.6L881.5,482.3L879.2,481.1L876.4,481.1L874.1,480.0L872.4,477.2L869.5,477.6L867.0,476.8L864.9,477.7L863.8,478.4L863.1,479.6Z" fill="#f6eff6"/>
<path d="M890.7,387.1L892.2,389.0L893.3,390.9L891.8,393.4L893.0,395.3L893.8,397.0L895.2,398.2L896.9,399.0L899.2,399.9L901.0,398.3L902.9,396.9L905.2,397.7L906.1,395.6L906.3,393.4L904.7,391.4L905.3,389.2L904.9,387.1L902.9,385.5L900.3,385.0L897.5,385.1L896.0,382.3L893.3,382.0L892.5,382.3L891.5,383.5L890.8,384.9Z" fill="#f9f3f9"/>
<path d="M884.1,218.1L882.4,220.0L880.5,221.5L877.8,222.4L876.1,224.3L877.3,225.3L877.9,226.7L880.0,225.8L882.5,226.5L884.7,225.6L886.9,225.2L888.0,223.2L888.6,221.1L887.1,219.5L886.0,217.8L885.6,215.6L884.6,215.1Z" fill="#fbf6fb"/>
<path d="M854.0,387.3L852.1,388.9L849.9,390.1L848.3,391.9L845.5,392.5L845.5,395.8L842.1,395.8L841.2,398.3L842.8,400.2L845.7,399.9L847.0,402.2L849.4,402.6L850.6,405.0L852.7,406.0L853.7,403.8L856.8,404.3L858.6,403.1L859.3,400.4L861.5,399.8L860.7,397.2L862.1,394.5L859.7,392.1L859.4,389.5L860.4,386.8L858.3,386.7L856.9,384.5L854.7,384.6Z" fill="#f0e9f3"/>
<path d="M941.2,514.9L939.4,517.5L940.5,519.9L940.2,522.4L940.5,522.9L943.0,522.3L946.2,522.7L949.2,521.5L951.2,521.4L951.8,520.4L951.7,517.9L951.3,515.4L951.8,512.9L950.5,510.9L948.4,511.8L946.2,512.1L944.0,511.8L941.8,511.2L940.4,512.5Z" fill="#f7f1f7"/>
<path d="M869.2,201.5L867.3,204.1L868.8,206.6L871.3,206.8L873.9,207.1L876.0,208.9L878.9,208.1L881.2,208.9L883.2,211.0L885.3,210.0L885.4,207.2L887.3,206.0L887.2,203.5L886.7,201.0L885.8,200.0L884.7,199.9L880.9,200.8L877.2,200.0L873.4,199.3L869.6,199.9L868.6,199.8Z" fill="#fbf6fb"/>
<path d="M813.4,470.9L811.8,472.9L812.6,475.1L814.7,475.8L815.9,478.1L818.2,478.3L820.1,476.3L818.3,473.5L818.4,471.1L820.1,469.0L818.2,468.9L816.7,467.3L814.8,467.3L813.0,468.8Z" fill="#e8e2f0"/>
<path d="M930.2,507.0L931.7,509.0L934.2,510.2L934.9,512.9L936.8,513.2L938.5,512.0L940.4,512.5L941.8,511.2L941.2,508.9L941.7,506.2L939.6,504.3L938.8,502.0L936.9,500.9L935.2,502.9L932.7,503.6L930.4,504.5L928.1,505.4L928.1,505.5Z" fill="#f8f2f8"/>
<path d="M971.1,498.0L971.4,500.3L972.9,502.1L974.0,504.1L976.0,504.6L978.1,504.6L979.6,503.2L981.6,502.2L982.4,500.0L981.5,498.4L981.5,496.4L980.1,495.0L978.2,493.9L976.2,494.9L974.2,494.9L972.3,494.5L971.2,495.4L971.1,495.6Z" fill="#f6eff6"/>
<path d="M868.1,318.3L867.7,321.2L866.2,322.8L863.9,323.3L863.9,323.8L864.9,326.0L868.0,325.0L868.5,327.9L870.7,328.3L871.0,325.9L873.2,324.9L873.8,322.7L875.7,321.4L873.8,320.5L872.8,318.3L870.5,317.9Z" fill="#f3ecf5"/>
<path d="M913.9,417.4L915.1,420.0L914.1,422.4L916.0,425.0L914.2,427.4L916.4,428.8L919.4,428.1L920.9,431.4L923.9,430.8L925.3,429.2L927.9,429.0L928.8,426.7L931.6,426.8L932.3,424.2L932.1,421.8L931.3,419.4L931.0,417.0L933.5,414.5L931.6,412.1L929.1,411.8L927.1,414.0L924.8,414.5L922.1,413.5L919.7,413.3L917.7,416.1L915.1,415.0Z" fill="#f7f1f7"/>
<path d="M948.3,468.8L948.9,470.7L950.0,470.7L951.4,469.6L952.7,468.4L952.8,467.9L951.2,466.7L949.3,466.0L948.1,466.7L946.9,467.5Z" fill="#f7f1f7"/>
<path d="M1017.4,372.7L1017.4,375.3L1017.5,377.9L1015.5,380.0L1016.9,381.1L1017.7,382.7L1018.9,384.0L1021.4,383.3L1023.8,381.9L1026.4,381.4L1029.1,382.3L1031.9,383.8L1033.5,382.4L1030.9,381.2L1029.2,378.7L1027.7,376.0L1025.0,373.7L1021.7,372.2L1018.5,370.8L1018.4,370.8Z" fill="#f7f1f7"/>
<path d="M952.9,483.7L953.6,485.9L955.2,486.9L957.0,486.1L958.1,484.7L958.7,482.9L957.5,482.0L956.5,480.9L955.0,481.2L953.6,482.1Z" fill="#f9f3f9"/>
<path d="M857.1,330.9L857.3,333.4L856.2,335.5L855.6,337.8L857.4,338.9L859.9,337.8L861.9,338.4L863.6,340.1L864.7,338.7L864.1,336.5L865.5,335.2L864.5,333.4L863.4,331.7L861.7,330.3L860.9,328.4L858.6,329.0Z" fill="#fbf5fa"/>
<path d="M966.7,360.2L963.8,360.4L962.8,362.9L960.9,364.2L958.6,365.3L956.6,366.4L955.5,368.8L955.5,369.0L958.2,369.4L959.0,372.2L960.3,374.4L962.3,375.7L964.0,377.4L966.2,378.5L968.3,379.6L971.1,380.0L972.2,382.5L973.4,380.6L971.7,379.8L970.8,377.7L967.4,376.2L964.6,373.8L967.7,371.5L969.5,369.0L972.1,367.2L974.6,365.4L975.3,362.5L977.1,360.2L977.4,359.6L977.2,359.4L974.3,361.1L972.4,358.5L969.9,358.9L967.7,357.7Z" fill="#f8f2f8"/>
<path d="M916.1,249.0L915.6,251.6L914.0,253.6L915.0,255.8L916.9,257.5L916.3,260.4L919.5,261.5L919.9,264.0L919.3,266.9L922.1,268.2L922.5,270.7L922.9,268.1L923.5,265.6L923.9,263.1L924.7,260.7L924.5,258.0L926.5,255.8L925.7,253.0L926.6,251.6L924.4,250.9L921.6,248.8L918.5,247.3L917.1,246.6L917.1,246.6Z" fill="#faf4f9"/>
<path d="M947.5,472.7L948.6,475.0L949.3,475.2L950.4,474.2L951.8,473.5L950.5,472.3L950.0,470.7L948.9,470.7Z" fill="#fbf5fa"/>
<path d="M958.6,470.7L959.7,472.2L961.1,472.2L962.0,470.3L963.9,469.1L961.8,467.7L959.9,468.5L957.9,468.4L957.8,469.0Z" fill="#fbf5fa"/>
<path d="M881.0,429.7L884.8,430.6L885.6,433.0L885.6,435.7L888.1,435.4L890.6,433.7L893.3,436.1L895.6,433.2L898.4,435.4L900.9,434.9L903.4,434.2L903.5,434.1L903.1,431.7L902.2,429.6L901.0,427.6L898.9,426.1L897.3,424.3L898.9,421.0L896.7,419.5L894.8,418.8L892.9,418.9L891.1,419.5L888.6,420.4L888.1,423.7L886.0,424.9L883.7,425.9L881.3,426.8Z" fill="#f9f3f9"/>
<path d="M788.8,525.9L788.7,528.4L789.1,530.7L792.5,532.6L791.3,535.2L792.1,537.5L792.1,539.9L794.1,541.1L795.8,542.9L798.4,543.0L800.7,543.0L802.2,540.5L805.0,542.1L806.8,540.5L806.2,538.1L806.7,535.3L803.1,533.9L804.4,530.8L803.0,528.6L803.3,525.9L800.6,524.2L800.5,521.6L799.2,520.9L797.9,520.1L795.8,520.9L793.5,521.2L791.5,522.5L789.5,523.4Z" fill="#f0e9f3"/>
<path d="M831.4,279.1L831.5,276.5L830.2,274.5L828.4,272.7L828.1,270.2L825.5,270.3L823.1,271.7L820.6,272.1L817.7,270.0L815.5,272.8L817.6,274.9L818.5,278.0L818.8,281.8L820.0,285.3L821.5,288.8L822.6,286.9L824.6,285.8L825.9,282.4L826.0,278.8L828.4,277.4L830.0,275.0L830.5,278.3L831.4,279.6Z" fill="#f0e9f3"/>
<path d="M961.3,480.3L963.2,480.4L964.7,481.5L966.1,480.5L965.5,477.9L964.0,475.8L963.0,475.7L961.1,477.1L960.8,478.0Z" fill="#dcdcee"/>
<path d="M883.7,213.1L884.6,215.1L885.6,215.6L887.8,215.3L890.1,215.8L892.0,214.5L891.3,212.3L892.8,210.3L892.4,208.1L890.8,207.2L889.3,206.1L887.3,206.0L885.4,207.2L885.3,210.0L883.2,211.0Z" fill="#fbf6fb"/>
<path d="M850.7,362.0L852.4,364.2L851.2,366.6L850.3,369.0L851.5,371.2L854.3,371.5L855.9,368.2L858.5,368.0L860.6,366.3L863.2,365.9L865.5,364.7L867.8,363.6L870.8,364.2L869.9,361.2L866.6,361.1L864.2,359.9L862.0,358.4L860.7,356.0L859.2,353.8L857.1,354.5L856.6,357.5L853.4,356.6L852.8,359.5L850.4,359.7Z" fill="#fbf5fa"/>
<path d="M775.2,373.7L775.3,373.9L777.0,373.0L780.4,372.9L783.8,372.3L782.6,375.0L782.1,377.9L781.5,380.8L782.7,383.3L783.8,385.8L784.6,388.5L783.2,391.5L782.3,394.5L784.6,394.1L784.9,390.5L786.8,388.8L790.6,389.3L791.1,385.9L793.7,385.1L794.8,382.4L797.2,381.4L796.5,379.0L797.7,376.3L794.5,374.5L796.9,371.5L796.3,369.2L795.3,366.9L794.0,364.7L793.5,364.6L792.0,366.9L789.2,366.2L786.8,366.3L785.4,369.1L782.4,367.8L780.6,369.6L778.1,369.5L776.4,371.5Z" fill="#f7f1f7"/>
<path d="M905.3,519.9L903.7,522.0L903.6,522.7L904.6,521.5L907.5,523.0L910.8,523.0L914.7,523.1L917.0,523.7L915.4,522.3L916.9,520.0L914.4,519.4L911.6,520.3L909.3,518.9L906.9,517.9Z" fill="#f7f1f7"/>
<path d="M955.7,477.4L956.5,478.5L958.6,477.9L960.8,478.0L961.1,477.1L960.1,475.7L958.5,475.0L957.2,475.4L956.2,476.3Z" fill="#f3ecf5"/>
<path d="M848.0,464.6L847.9,466.8L846.7,468.4L848.0,469.9L849.0,471.7L850.8,472.7L852.7,472.4L854.1,471.4L855.4,470.1L855.2,467.6L855.6,465.2L853.4,465.2L851.6,464.1L849.7,463.3Z" fill="#f0e9f3"/>
<path d="M887.1,400.4L886.3,403.0L888.8,404.0L888.9,406.2L891.1,405.5L893.4,406.0L893.5,403.8L894.7,402.2L895.6,400.5L896.9,399.0L895.2,398.2L893.8,397.0L893.0,395.3L891.5,397.1L888.9,396.7L887.2,398.2L885.3,399.0Z" fill="#e0deee"/>
<path d="M877.1,229.2L878.9,231.3L880.3,233.5L878.3,236.2L881.1,238.2L879.8,240.7L882.2,240.3L884.4,239.0L886.9,238.9L887.5,236.6L887.7,234.2L890.9,233.0L889.5,229.9L891.6,228.3L890.4,226.7L888.8,225.8L886.9,225.2L884.7,225.6L882.5,226.5L880.0,225.8L877.9,226.7Z" fill="#f8f2f8"/>
<path d="M937.1,455.5L937.3,457.2L940.0,456.9L941.7,459.4L944.2,459.7L944.8,457.1L947.7,455.9L948.1,453.2L948.0,452.7L946.0,452.4L944.1,451.8L941.8,452.6L940.1,451.2L938.8,452.7L937.1,453.7Z" fill="#faf4f9"/>
<path d="M909.5,310.1L907.7,312.6L908.8,315.0L908.1,317.5L910.5,318.2L912.7,319.3L914.5,321.6L917.6,320.5L919.9,321.4L921.7,323.6L924.1,324.2L925.2,323.4L926.4,322.9L924.5,320.9L923.7,318.6L925.1,315.7L923.8,313.6L923.2,311.2L921.8,309.1L922.4,306.4L920.3,304.4L921.2,301.7L919.3,303.3L916.2,302.2L914.4,304.1L913.1,307.1L910.5,307.2L908.1,307.7Z" fill="#faf4f9"/>
<path d="M867.2,387.0L869.1,388.5L870.8,390.2L872.3,392.1L873.2,394.6L875.0,393.0L877.5,392.8L879.6,391.9L881.6,390.8L882.4,388.7L879.6,388.5L879.7,384.7L877.1,384.3L875.2,383.0L873.8,381.1L871.7,380.0L869.4,380.9L868.9,383.6L865.8,383.5L864.9,385.8Z" fill="#f8f2f8"/>
<path d="M858.1,283.3L856.7,285.8L856.8,288.1L858.1,290.3L859.0,292.8L862.0,293.2L862.4,296.2L865.1,296.9L866.4,298.9L868.8,299.0L870.4,297.6L872.4,296.8L873.9,295.3L875.8,294.3L874.4,292.1L875.6,289.8L876.6,287.5L877.1,285.2L875.2,282.9L875.5,280.6L875.2,278.3L875.7,276.0L874.6,275.2L872.3,275.3L870.0,275.8L868.0,277.6L865.3,275.3L863.6,278.5L860.8,275.8L858.8,277.8L857.9,279.5L856.9,281.2Z" fill="#f8f2f8"/>
<path d="M960.2,487.4L959.8,489.7L961.0,491.8L963.6,491.8L965.9,490.5L966.0,488.8L966.6,487.1L965.1,486.3L964.2,485.0L962.9,485.4L961.6,485.6Z" fill="#fbf5fa"/>
<path d="M944.9,465.2L945.7,467.4L946.9,467.5L948.1,466.7L949.3,466.0L949.8,464.3L949.7,462.6L948.2,461.4L946.0,462.1L944.4,460.9L943.5,462.0L943.3,463.5Z" fill="#faf4f9"/>
<path d="M971.9,415.8L971.6,418.7L970.1,420.6L967.6,421.7L967.6,424.9L964.6,425.6L963.6,427.9L965.2,429.6L966.5,431.6L967.5,433.8L969.7,435.1L972.2,435.1L974.6,435.1L976.2,432.1L978.5,431.4L981.2,432.4L983.6,432.1L985.6,430.5L985.9,428.2L983.8,426.7L981.3,425.4L981.0,422.4L978.4,421.2L976.6,419.4L976.8,415.9L974.3,414.6Z" fill="#f6eff6"/>
<path d="M843.6,288.1L844.4,290.2L843.4,292.7L842.8,295.1L843.4,297.3L844.9,299.3L847.3,299.9L849.8,300.4L851.0,298.6L851.3,296.0L854.6,295.9L855.1,293.4L857.4,292.6L858.1,290.3L856.8,288.1L856.7,285.8L858.1,283.3L856.9,281.2L855.2,283.1L853.1,283.8L850.3,282.6L848.4,284.0L845.8,283.5L843.8,284.5L842.0,286.1Z" fill="#f7f1f7"/>
<path d="M925.8,461.6L925.3,463.8L926.2,465.8L927.4,467.6L930.0,467.1L931.3,468.8L933.0,467.5L935.2,467.0L936.8,465.5L936.7,463.6L935.6,462.0L935.4,460.1L932.8,461.4L930.4,459.5L927.9,459.2L925.3,459.5Z" fill="#f3ecf5"/>
<path d="M945.7,495.9L946.9,497.6L947.0,499.7L948.3,500.2L950.0,498.6L951.0,496.2L953.2,495.0L952.6,493.1L950.9,491.8L949.0,490.7L947.3,491.4L946.4,493.1L944.9,494.1Z" fill="#f6eff6"/>
<path d="M953.0,473.2L954.2,473.9L955.5,474.1L956.6,472.7L955.7,471.2L954.0,471.1Z" fill="#fbf6fb"/>
<path d="M912.1,497.9L913.0,500.5L913.8,503.1L915.9,504.6L918.1,506.0L920.2,505.9L922.3,506.0L923.9,504.0L926.0,503.9L924.9,501.7L924.1,499.4L924.5,497.0L922.0,497.1L920.2,495.9L918.3,494.9L916.7,493.3L914.7,493.7L913.2,495.2L911.5,496.0L909.6,496.8Z" fill="#f3ecf5"/>
<path d="M734.7,579.9L735.4,580.0L738.5,577.7L740.8,574.6L740.4,571.8L739.2,569.2L742.0,567.0L744.6,564.6L747.8,562.5L751.5,561.5L753.6,558.6L756.0,556.0L758.8,555.1L760.7,554.2L760.0,554.2L758.9,551.0L755.8,551.1L753.8,549.4L751.8,547.8L750.5,545.1L747.0,545.9L746.1,542.5L743.8,541.7L741.5,542.3L740.8,545.4L740.8,548.5L737.8,549.9L735.4,552.3L733.4,554.4L732.2,557.2L730.0,559.2L729.5,559.6Z" fill="#f7f1f7"/>
<path d="M967.0,510.8L969.7,511.2L970.4,514.5L972.4,515.9L975.3,515.9L977.9,516.3L978.7,519.6L981.4,519.9L982.2,520.6L983.0,520.0L983.6,519.8L983.6,519.6L983.1,517.7L984.1,516.0L982.9,513.7L982.1,511.2L981.0,508.9L979.1,507.0L978.1,504.6L976.0,504.6L974.0,504.1L972.3,505.5L970.1,506.2L968.1,507.2L967.1,509.6Z" fill="#faf4f9"/>
<path d="M805.5,381.6L804.6,385.4L801.2,386.3L798.5,388.5L795.8,391.3L792.3,393.1L793.6,396.6L794.3,400.3L795.4,403.8L796.1,407.1L798.4,409.7L799.4,412.9L800.0,416.2L799.1,419.2L799.3,422.3L799.3,425.4L798.5,428.5L799.0,431.6L799.1,434.8L800.8,437.7L799.5,441.0L799.9,444.7L798.4,448.0L798.5,451.5L802.2,450.2L806.2,450.0L809.0,450.4L811.3,452.0L813.8,453.1L816.8,451.8L820.1,452.6L823.1,451.5L823.8,447.6L825.9,444.3L827.7,440.8L827.5,437.6L827.2,434.5L826.2,431.5L827.2,428.6L827.7,425.5L827.7,422.3L828.8,419.3L831.1,416.8L832.3,413.8L829.8,411.7L826.5,410.7L823.8,408.7L821.5,406.2L824.2,404.4L825.7,401.6L827.7,399.2L829.4,395.8L829.7,392.0L830.8,388.5L828.3,385.7L826.8,382.2L824.6,379.2L825.0,375.3L826.2,371.5L824.0,372.7L821.5,373.1L818.6,374.3L815.4,374.5L812.3,375.4L809.0,375.9L806.2,377.7Z" fill="#f6f0f7"/>
<path d="M755.5,382.9L758.2,380.6L760.7,379.6L761.5,379.0L764.4,377.2L767.7,376.0L770.8,374.9L772.8,374.7L773.8,374.0L776.8,373.1L777.0,373.0L780.4,372.9L783.8,372.3L783.8,372.3L783.8,372.3L783.6,375.3L782.8,378.1L781.5,380.8L782.9,383.2L783.0,384.2L783.8,385.8L784.6,388.4L784.6,388.5L783.9,391.7L782.3,394.6L782.3,394.6L783.2,397.4L784.6,399.9L784.6,400.0L786.7,397.1L789.4,395.0L792.3,393.1L794.9,390.2L798.5,388.5L801.8,387.4L804.6,385.4L805.1,381.5L806.2,377.7L804.1,375.2L801.8,372.8L800.0,370.0L797.6,368.2L794.8,367.1L792.3,365.4L789.6,363.4L787.7,360.8L787.8,357.7L787.9,354.6L788.5,351.5L786.2,348.5L786.1,348.4L786.0,348.5L785.9,348.4L783.5,347.9L781.5,346.2L779.1,348.7L777.4,351.7L775.5,354.6L773.8,357.7L773.8,357.8L772.6,360.7L771.2,362.3L770.9,363.4L769.2,366.2L767.0,368.1L766.3,368.8L763.5,370.5L763.1,370.8L760.5,373.6L757.7,376.2L756.0,379.1L753.8,381.6L752.3,384.6L752.4,384.6Z" fill="#f5eef6"/>
<path d="M761.6,339.2L761.5,341.5L759.6,343.6L757.0,344.6L757.0,344.6L757.5,345.0L760.0,346.5L763.1,348.5L765.6,351.4L767.6,354.5L767.7,354.6L770.8,356.0L773.3,357.4L773.8,357.7L776.5,355.3L777.6,351.9L779.4,348.9L781.5,346.2L781.7,346.1L781.5,346.0L783.3,344.6L785.3,343.8L782.0,342.5L778.6,341.1L775.4,339.2L775.2,339.1L772.9,338.1L770.2,337.4L770.2,337.4L767.7,336.2L766.8,336.1L764.2,336.4L760.8,337.0L760.8,337.1Z" fill="#f7f1f7"/>
<path d="M788.5,351.5L787.7,354.6L787.1,357.6L787.7,360.8L790.4,362.7L792.3,365.4L794.6,367.4L797.0,369.1L800.0,370.0L801.5,373.0L804.6,374.7L806.2,377.7L807.0,373.8L809.4,370.6L810.8,366.9L809.8,364.0L807.5,361.9L806.2,359.2L808.0,356.4L808.5,353.1L808.6,349.2L807.7,345.4L803.7,345.3L800.5,344.0L800.0,343.8L799.3,343.8L796.4,343.6L793.1,342.3L790.7,344.3L789.0,347.1L786.2,348.5Z" fill="#f3ecf5"/>
<path d="M807.8,349.3L808.5,353.1L807.1,356.1L806.2,359.2L807.8,361.7L809.8,364.0L810.8,366.9L809.5,370.6L807.4,374.0L806.2,377.7L809.1,376.3L812.3,375.4L815.6,375.3L818.3,373.2L821.5,373.1L824.0,372.9L826.2,371.5L827.7,370.0L828.0,366.8L826.1,363.9L826.2,360.8L823.6,359.6L821.5,357.7L820.3,355.0L818.9,352.3L816.9,350.0L815.5,347.6L814.3,345.1L813.8,342.3L813.8,342.3L811.1,344.6L807.7,345.4L807.7,345.4L807.7,345.4Z" fill="#f6f0f7"/>
<path d="M815.1,344.8L815.3,347.7L816.9,350.0L818.8,352.3L819.8,355.3L821.5,357.7L823.5,359.7L826.2,360.8L827.7,357.5L828.3,353.9L830.0,350.8L828.3,348.6L826.2,346.9L829.2,344.6L826.6,343.4L824.8,341.4L823.6,339.9L823.0,341.0L823.0,339.3L822.9,339.4L821.9,341.4L820.1,342.9L820.0,343.1L816.8,343.4L814.1,342.4L813.9,342.3Z" fill="#f4edf5"/>
<path d="M826.1,363.9L827.7,366.8L827.7,370.0L829.9,369.1L832.3,369.2L834.5,367.8L835.4,365.4L833.8,362.5L832.6,359.5L832.3,356.2L833.9,353.3L833.8,350.0L830.0,350.8L829.4,354.4L827.8,357.6L826.2,360.8Z" fill="#f6f0f7"/>
<path d="M784.5,400.3L784.0,402.8L784.1,405.7L783.8,408.2L783.8,408.5L782.0,411.3L781.9,411.7L781.8,414.8L780.0,417.7L777.9,420.3L774.4,421.2L773.2,422.7L772.3,423.8L769.6,425.2L767.2,426.2L766.9,426.4L764.6,428.5L764.5,428.5L761.3,430.0L757.7,430.8L760.5,432.5L762.4,435.3L764.6,437.7L768.6,437.5L772.3,436.2L776.0,434.9L779.6,433.4L783.1,431.5L786.0,430.3L789.2,430.1L792.3,430.0L795.3,429.1L798.5,428.5L799.3,425.4L798.8,422.3L798.7,419.1L800.0,416.2L799.5,412.8L798.0,409.9L796.6,406.9L795.4,403.8L794.1,400.3L792.5,396.9L792.3,393.1L789.8,395.5L786.9,397.4L784.6,400.0Z" fill="#f7f1f7"/>
<path d="M728.4,447.6L730.6,448.8L732.9,451.4L733.1,451.5L732.5,454.8L731.1,457.1L731.7,457.9L733.5,458.3L735.6,460.5L738.5,460.8L742.3,459.7L746.2,459.2L746.6,456.8L747.7,454.6L749.4,456.8L750.8,459.2L749.1,461.4L748.4,464.3L748.0,464.7L750.8,465.0L753.7,463.0L755.7,462.3L756.0,460.9L757.3,458.4L758.0,457.5L758.0,457.0L758.7,456.8L759.2,456.2L758.7,452.4L757.7,448.8L756.2,445.4L758.5,442.3L762.2,440.7L764.6,437.7L762.7,435.0L760.5,432.5L757.7,430.8L754.6,433.1L752.3,436.2L749.1,436.5L746.2,437.7L743.1,437.5L741.0,438.5L739.3,439.0L738.2,441.2L735.4,443.8L733.0,445.4L730.0,445.3L727.7,446.9Z" fill="#f4edf5"/>
<path d="M829.1,214.3L828.2,217.1L827.3,218.8L827.2,219.9L826.2,222.7L827.8,226.2L829.9,229.6L830.8,233.5L833.6,231.7L836.9,231.2L840.6,231.2L844.0,229.5L847.7,229.6L848.8,227.8L849.2,225.8L850.6,222.2L851.3,218.4L853.1,215.0L850.7,211.9L848.5,208.8L847.8,205.7L846.6,202.6L846.8,200.2L845.5,202.2L844.0,203.9L843.8,204.2L843.3,204.4L840.7,205.9L839.8,206.4L838.0,208.3L835.0,210.2L834.1,210.7L832.4,212.6L829.4,214.1L829.2,214.2Z" fill="#f4edf5"/>
<path d="M813.1,228.1L811.2,231.1L810.3,234.6L810.3,234.6L810.3,234.6L810.3,234.7L808.6,237.8L808.2,238.6L807.3,241.1L805.4,244.2L805.4,244.3L806.2,246.1L806.8,247.8L807.0,248.0L807.0,248.1L810.0,247.5L813.1,247.3L814.9,250.2L818.2,251.7L820.4,254.3L821.7,257.7L824.6,259.6L827.5,257.6L830.0,255.0L829.8,251.5L830.0,248.0L828.8,244.6L828.5,241.2L829.6,238.7L830.0,236.0L830.8,233.5L829.6,229.7L827.2,226.5L826.2,222.7L826.0,222.7L826.0,222.7L825.9,222.7L823.3,222.4L820.5,223.3L818.2,222.5L817.7,222.4L815.7,225.5L813.4,227.6Z" fill="#f6f0f7"/>
<path d="M833.8,232.2L830.8,233.5L830.1,236.1L828.8,238.5L828.5,241.2L829.3,244.6L828.9,248.1L830.2,251.5L830.0,255.0L832.8,255.8L835.8,255.3L838.5,256.5L841.7,257.7L844.4,260.1L847.7,261.2L850.6,262.7L853.8,263.7L856.9,264.8L860.0,265.8L861.3,263.3L863.1,261.2L866.0,260.0L868.5,258.1L867.4,255.0L866.2,251.9L865.1,249.1L863.6,246.5L861.5,244.2L861.1,240.9L861.2,237.5L860.8,234.2L858.5,231.9L856.2,229.6L853.8,231.5L850.8,231.9L847.7,229.6L844.0,229.6L840.6,231.2L836.9,231.2Z" fill="#f8f2f8"/>
<path d="M803.2,255.1L806.0,257.4L808.4,260.4L810.7,263.4L812.8,266.2L813.1,266.5L813.4,267.0L814.9,269.1L814.9,269.6L815.0,269.7L816.9,272.9L817.3,274.5L817.6,274.9L817.9,276.0L819.2,273.5L820.3,270.4L821.5,267.3L823.0,264.9L824.2,262.4L824.6,259.6L822.0,257.5L819.5,255.2L817.4,252.5L815.2,249.9L813.1,247.3L810.0,248.0L807.0,248.1L806.1,250.6L804.4,252.7L803.5,254.2L803.1,255.0Z" fill="#f5eef6"/>
<path d="M823.2,262.0L822.4,264.7L821.5,267.3L819.7,270.2L819.3,273.6L817.9,276.1L818.5,278.0L818.5,278.2L819.7,281.6L820.7,285.2L821.5,288.8L821.6,288.6L822.7,285.3L823.9,281.8L826.0,279.1L826.0,278.8L826.7,278.4L828.3,277.1L830.0,275.0L830.5,278.3L832.3,281.0L834.2,278.7L834.6,278.5L836.4,276.4L838.9,275.2L839.0,275.0L839.0,275.1L839.2,275.0L841.0,277.1L842.7,279.2L844.6,281.2L847.2,280.2L849.9,279.5L852.3,278.1L855.1,276.5L857.9,274.8L860.8,273.5L860.7,269.6L860.0,265.8L856.7,265.2L853.6,264.1L850.9,261.9L847.7,261.2L844.6,259.7L841.9,257.3L838.5,256.5L835.6,256.4L832.7,256.2L830.0,255.0L826.8,256.7L824.6,259.6Z" fill="#f6f0f7"/>
<path d="M862.1,263.9L860.0,265.8L860.9,269.6L860.0,273.5L862.9,274.9L866.2,275.0L869.1,277.0L872.7,278.0L875.4,280.4L878.1,277.9L881.5,276.5L884.8,276.5L887.7,275.0L889.6,272.1L890.8,268.8L892.0,265.6L893.1,262.3L895.4,259.6L894.3,257.6L892.3,256.5L889.7,256.0L887.3,254.6L884.6,254.2L881.6,255.7L878.5,256.5L875.4,258.8L872.0,257.7L868.5,258.1L865.5,259.2L863.1,261.2Z" fill="#f7f1f7"/>
<path d="M852.2,281.0L850.8,283.5L853.4,286.1L856.9,287.3L858.5,289.8L861.1,291.4L863.1,293.5L866.9,294.3L870.8,295.0L874.0,295.8L876.9,297.3L879.5,295.2L882.3,293.5L880.9,290.5L880.0,287.3L877.7,285.5L876.4,283.0L875.4,280.4L872.1,279.0L869.6,276.2L866.2,275.0L863.7,273.6L860.8,273.5L857.7,274.5L855.5,277.2L852.3,278.1Z" fill="#f7f1f7"/>
<path d="M876.7,282.9L878.9,284.7L880.0,287.3L880.8,290.5L882.3,293.5L881.8,296.5L881.5,299.6L884.6,300.3L887.7,301.2L890.6,299.7L893.8,299.6L896.9,299.9L900.0,300.4L902.4,299.2L904.6,297.8L907.9,296.8L910.8,295.0L909.3,292.7L907.7,290.4L905.7,287.3L903.2,284.5L901.5,281.2L898.9,280.4L896.7,278.3L893.8,278.1L890.6,276.9L887.7,275.0L884.7,275.9L881.5,276.5L878.8,279.0L875.4,280.4Z" fill="#f5eef6"/>
<path d="M894.4,257.6L895.4,259.6L894.1,262.8L892.5,265.8L890.8,268.8L889.5,272.0L887.7,275.0L890.9,276.2L893.8,278.1L896.1,279.9L898.9,280.3L901.5,281.2L903.4,284.3L905.1,287.6L907.7,290.4L909.1,292.8L910.8,295.0L911.9,291.9L915.0,290.4L916.2,287.3L914.5,284.4L913.8,281.2L912.0,277.9L909.6,275.1L907.7,271.9L908.4,268.8L909.2,265.8L912.6,264.8L915.4,262.7L914.0,261.0L912.3,259.6L909.4,258.0L906.2,257.4L903.1,256.5L900.3,254.5L896.9,253.5L894.4,254.6L892.3,256.5Z" fill="#f7f1f7"/>
<path d="M912.6,264.8L909.2,265.8L907.8,268.7L907.7,271.9L909.3,275.3L911.1,278.6L913.8,281.2L915.0,284.2L916.2,287.3L918.5,290.4L921.0,291.6L923.1,293.5L925.4,291.9L928.2,291.4L930.8,290.4L933.3,288.7L935.8,287.1L938.5,285.8L941.5,283.5L944.6,281.2L946.8,279.5L949.2,278.1L946.2,278.8L943.1,278.1L940.2,276.2L936.9,275.0L935.7,271.2L935.4,267.3L932.9,266.1L930.5,264.6L927.7,264.2L924.9,262.2L921.5,261.2L918.6,262.3L915.4,262.7Z" fill="#f8f2f8"/>
<path d="M909.1,244.0L909.2,247.3L911.0,250.8L913.8,253.5L912.8,256.5L912.3,259.6L914.1,260.9L915.4,262.7L918.4,261.5L921.5,261.2L924.6,262.8L927.7,264.2L930.1,265.7L932.8,266.4L935.4,267.3L936.3,271.1L936.9,275.0L939.8,277.0L943.1,278.1L946.2,277.5L949.2,278.1L949.2,278.0L949.2,278.0L947.4,275.5L946.5,273.9L945.4,273.1L943.9,270.4L943.1,267.5L943.0,267.3L941.0,264.9L939.8,262.0L939.3,260.0L938.6,259.2L936.9,256.5L935.7,256.0L933.8,255.2L933.5,255.0L930.4,254.2L927.9,252.1L927.7,252.0L924.4,250.9L923.0,249.9L921.3,249.3L918.5,247.3L918.4,247.3L915.4,245.8L914.5,244.3L912.9,243.8L910.8,241.2Z" fill="#f1eaf4"/>
<path d="M907.4,295.8L904.6,297.8L904.8,300.3L905.5,302.7L905.4,305.8L904.6,308.8L905.8,311.0L905.4,313.5L907.2,314.7L908.5,316.5L911.0,318.4L913.8,319.6L916.4,318.4L918.5,316.5L921.8,315.4L924.6,313.5L923.3,311.0L923.8,308.1L922.3,305.8L921.7,302.6L922.5,299.6L922.6,296.5L923.1,293.5L920.3,292.6L918.5,290.4L916.2,287.3L913.9,289.6L912.6,292.5L910.8,295.0Z" fill="#f6f0f7"/>
<path d="M777.5,497.5L777.3,497.8L776.6,500.0L778.5,502.2L779.0,505.0L778.9,505.1L780.4,506.5L783.1,506.9L785.8,508.8L787.7,511.5L789.4,512.9L790.8,514.6L793.5,514.9L796.1,515.3L798.5,516.9L801.4,515.5L804.6,514.6L805.5,511.6L806.2,508.5L802.8,507.5L800.0,505.4L798.5,503.1L795.8,501.8L794.6,499.2L796.5,497.7L798.5,496.2L797.5,494.3L796.9,492.3L793.4,493.6L790.9,493.3L789.9,493.9L786.5,493.8L783.8,495.3L780.7,495.4L777.8,496.3L777.6,497.0Z" fill="#f7f1f7"/>
<path d="M764.0,511.1L763.9,514.0L765.4,514.9L765.6,515.2L766.2,515.4L766.6,516.9L766.8,517.2L766.8,517.4L767.0,518.2L768.5,520.8L768.5,523.8L770.3,527.0L772.3,530.0L774.7,529.0L776.2,526.9L777.2,524.5L778.5,522.3L780.5,520.1L783.1,518.5L786.6,518.2L790.0,519.2L790.5,516.9L790.8,514.6L788.9,513.4L787.7,511.5L785.1,509.5L783.1,506.9L780.4,506.5L778.9,505.1L777.5,506.7L775.4,507.4L771.7,508.3L770.4,507.8L767.7,507.7L765.4,507.7L764.6,507.9Z" fill="#f8f2f8"/>
<path d="M773.1,533.2L773.8,536.3L775.4,539.2L776.8,542.2L776.9,545.4L775.1,548.7L773.8,552.3L776.9,551.9L780.0,551.5L782.6,549.3L783.8,546.2L780.7,544.8L778.5,542.3L778.1,539.5L776.6,537.1L775.4,534.6L776.5,530.8L776.2,526.9L773.7,527.8L772.3,530.0Z" fill="#f6f0f7"/>
<path d="M797.5,494.3L798.5,496.2L796.3,497.4L794.6,499.2L796.2,501.5L798.7,502.9L800.0,505.4L802.8,507.4L806.2,508.5L809.0,510.1L812.2,510.8L815.4,511.5L817.7,513.2L820.3,514.0L823.1,514.6L825.7,513.2L828.2,511.6L830.8,510.0L833.1,507.3L833.8,503.8L831.7,505.2L829.2,505.4L826.6,503.9L825.6,500.9L823.1,499.2L826.0,497.1L827.4,494.5L826.4,494.8L823.4,496.3L820.2,495.1L819.1,495.0L816.9,495.4L813.2,495.4L810.2,493.5L809.7,493.5L808.6,493.2L806.2,493.1L803.1,492.9L799.9,493.4L796.9,492.3Z" fill="#f3ecf5"/>
<path d="M789.8,516.8L790.0,519.2L791.5,521.8L792.8,524.6L794.6,526.9L797.3,526.5L800.0,526.9L803.2,528.2L806.2,530.0L806.4,527.5L807.7,525.4L810.8,523.8L813.8,522.3L816.6,521.9L818.8,519.9L821.5,519.2L823.2,517.2L823.1,514.6L820.4,513.8L817.9,512.7L815.4,511.5L812.4,510.3L809.1,509.9L806.2,508.5L805.0,511.5L804.6,514.6L801.7,516.3L798.5,516.9L796.0,515.7L793.1,516.1L790.8,514.6Z" fill="#f7f1f7"/>
<path d="M846.2,202.0L844.6,204.2L846.4,206.6L848.5,208.8L850.4,212.2L853.1,215.0L851.7,218.5L850.1,222.0L849.2,225.8L849.8,228.9L850.8,231.9L853.4,230.5L856.2,229.6L858.0,232.3L860.8,234.2L863.7,233.3L866.3,231.5L869.2,230.4L872.5,230.5L875.4,228.8L878.5,228.1L880.0,226.2L881.5,224.2L883.4,220.8L886.2,218.1L887.4,215.1L888.5,211.9L891.3,209.8L893.8,207.3L894.2,204.5L895.6,202.0L896.0,200.0L896.0,200.0L892.2,199.5L888.5,200.4L884.7,199.9L880.9,200.8L877.2,200.0L873.4,199.3L869.6,199.9L865.8,199.8L862.1,199.8L858.3,199.8L854.5,199.8L850.8,200.4L847.0,200.0L846.5,200.7Z" fill="#dedbec"/>
<path d="M860.2,237.6L862.1,240.8L861.5,244.2L863.2,246.7L864.0,249.7L866.2,251.9L866.6,255.2L868.5,258.1L872.0,257.7L875.4,258.8L878.5,256.5L881.8,256.0L884.6,254.2L886.2,251.0L888.5,248.1L891.3,247.6L893.8,248.8L896.5,248.1L898.7,246.0L901.5,245.8L904.0,242.9L905.8,239.6L904.5,235.9L904.6,231.9L901.6,233.0L898.5,233.5L896.4,230.2L893.8,227.3L890.8,226.4L887.7,225.8L884.4,225.8L881.5,224.2L879.3,225.6L878.5,228.1L875.2,228.1L872.3,229.7L869.2,230.4L866.5,231.9L863.3,232.2L860.8,234.2Z" fill="#a9c5e0"/>
<path d="M876.2,301.2L874.8,303.2L873.1,305.0L875.4,307.3L877.4,309.0L880.0,309.6L881.9,311.5L884.6,311.9L888.5,312.7L887.7,308.8L889.2,307.2L889.5,305.0L888.6,303.1L887.7,301.2L884.7,299.9L881.5,299.6L878.9,299.2L876.9,297.3Z" fill="#67a9cf"/>
<path d="M888.7,303.0L889.5,305.0L888.0,306.6L887.7,308.8L890.8,310.4L892.8,312.4L893.8,315.0L896.2,314.9L898.5,314.2L901.9,313.6L905.4,313.5L904.2,311.3L904.6,308.8L904.4,305.7L905.5,302.7L904.4,300.4L904.6,297.8L902.1,298.7L900.0,300.4L896.9,300.5L893.8,299.6L890.8,300.5L887.7,301.2Z" fill="#2a9598"/>
<path d="M870.9,311.6L871.5,315.0L873.6,316.9L876.2,318.1L878.6,319.7L881.5,319.6L884.5,317.8L887.7,316.5L885.7,314.5L884.6,311.9L882.1,311.2L880.0,309.6L877.9,308.1L875.4,307.3L873.1,307.7L870.8,308.1Z" fill="#dcdcee"/>
<path d="M893.6,318.5L894.6,321.2L897.6,321.7L900.0,323.5L903.5,322.9L906.9,321.9L908.1,319.3L908.5,316.5L907.4,314.5L905.4,313.5L902.0,314.3L898.5,314.2L895.7,314.7L893.1,315.8Z" fill="#c3d2e8"/>
<path d="M877.6,324.5L878.5,327.3L881.6,327.1L884.6,328.1L887.4,327.2L890.0,325.8L890.1,322.9L891.5,320.4L889.1,319.0L887.7,316.5L884.5,317.9L881.5,319.6L878.4,321.0L875.4,322.7Z" fill="#b7cce4"/>
<path d="M891.6,328.4L893.1,331.2L895.8,331.1L898.5,330.4L900.5,328.4L903.1,327.3L901.2,325.7L900.0,323.5L897.3,322.3L894.6,321.2L892.3,323.5L890.0,325.8Z" fill="#dcdcee"/>
<path d="M905.8,324.5L906.2,327.3L908.4,329.3L910.0,331.9L912.4,333.9L915.4,334.2L918.1,331.8L921.5,330.4L923.1,327.1L925.4,324.2L923.9,321.3L923.8,318.1L920.6,319.5L917.1,318.6L913.8,319.6L910.4,320.7L906.9,321.9Z" fill="#c6d3e9"/>
<path d="M887.7,334.0L889.2,337.3L890.7,339.7L893.1,341.2L895.7,342.0L897.7,343.9L900.8,343.5L903.8,343.0L902.6,340.6L901.5,338.1L899.1,336.3L896.9,334.2L893.8,331.9L890.3,331.5L886.9,330.4Z" fill="#8ab9d9"/>
<path d="M898.8,336.7L901.5,338.1L902.6,340.6L903.8,343.0L906.2,342.7L908.2,340.8L910.8,339.6L909.3,336.5L907.7,333.5L905.4,332.0L903.1,330.4L900.1,332.4L896.9,334.2Z" fill="#dddcee"/>
<path d="M922.9,296.5L922.4,299.6L921.7,302.6L922.3,305.8L922.9,308.4L923.0,311.2L924.6,313.5L928.4,314.6L932.3,315.0L936.1,314.1L940.0,314.2L943.0,313.0L946.2,313.5L948.1,313.3L947.0,312.5L950.5,312.7L953.8,314.0L957.1,314.7L959.9,316.7L963.0,318.0L963.1,318.1L963.1,318.1L966.0,320.7L967.5,323.9L967.7,324.2L968.3,321.9L968.5,319.8L968.5,319.6L966.0,317.0L966.0,316.4L964.7,313.6L962.7,310.7L961.5,307.3L959.5,304.8L958.1,301.9L955.8,299.5L954.6,296.5L954.6,296.5L954.6,296.5L954.6,296.5L954.6,296.5L954.3,293.5L953.5,290.4L953.8,287.5L953.8,287.3L953.9,287.2L955.7,285.1L958.4,284.2L958.5,284.2L958.1,284.0L955.2,282.5L954.7,281.9L951.9,280.7L949.2,278.1L947.2,280.1L944.6,281.2L941.4,283.2L938.5,285.8L935.6,286.9L933.8,289.6L930.8,290.4L928.1,291.3L925.4,291.7L923.1,293.5Z" fill="#e6e2f0"/>
<path d="M833.3,336.1L833.8,339.6L836.6,341.5L837.0,339.4L837.2,337.3L836.8,334.3L835.4,331.6L832.0,332.7Z" fill="#74add1"/>
<path d="M823.3,342.1L824.8,344.5L826.2,346.9L828.7,348.0L831.1,349.3L833.8,350.0L832.6,353.0L832.3,356.2L832.9,359.4L835.0,362.1L835.4,365.4L838.6,365.3L841.4,367.0L844.6,366.9L843.1,364.0L843.1,360.8L845.6,358.7L847.7,356.2L850.6,354.7L853.6,353.4L856.9,353.1L857.6,349.2L858.5,345.4L856.1,343.1L853.8,340.8L851.0,343.4L847.7,345.4L844.6,345.2L841.4,345.1L838.5,343.8L835.4,344.8L832.3,344.4L829.2,344.6L826.9,343.1L825.7,340.4L823.8,339.5L823.2,340.7Z" fill="#dddbec"/>
<path d="M855.6,343.6L858.5,345.4L858.4,349.4L856.9,353.1L854.0,354.4L851.0,355.7L847.7,356.2L845.0,358.1L843.1,360.8L843.4,364.0L844.6,366.9L848.6,367.0L852.3,368.5L854.3,365.7L857.6,364.5L860.0,362.3L862.7,359.5L866.2,357.7L868.2,355.5L871.1,354.3L873.6,352.6L875.4,350.0L874.5,346.5L875.2,342.7L873.8,339.2L870.3,340.3L866.6,340.9L863.1,342.3L860.1,341.1L856.8,341.8L853.8,340.8Z" fill="#dfdcec"/>
<path d="M825.8,375.5L824.6,379.2L827.1,382.0L829.2,385.0L830.8,388.5L829.2,391.9L828.3,395.5L827.7,399.2L825.3,401.3L823.6,403.9L821.5,406.2L824.0,408.4L827.2,409.6L829.3,412.3L832.3,413.8L835.5,412.5L838.5,410.8L841.6,411.1L844.5,412.9L847.7,413.1L850.5,410.6L853.6,408.6L856.9,406.9L858.3,403.9L859.6,400.9L860.5,397.7L861.5,394.6L860.4,391.6L860.4,388.5L860.3,385.4L860.0,382.3L858.0,379.0L855.4,376.2L854.6,372.7L852.3,370.0L848.4,369.6L844.6,368.5L841.5,368.1L838.5,369.5L835.4,369.2L832.1,369.2L829.2,370.8L826.2,371.5Z" fill="#e8e2f0"/>
<path d="M831.2,419.1L829.7,421.8L827.7,424.2L826.2,426.9L827.4,430.4L826.9,434.1L827.7,437.7L830.0,440.5L832.3,443.3L835.4,445.4L838.3,447.3L841.2,449.2L844.6,450.0L846.9,448.0L848.8,445.6L851.5,444.2L853.8,442.3L855.9,439.0L857.6,435.4L858.5,431.5L857.8,427.8L855.8,424.5L855.4,420.8L853.0,419.0L850.3,417.7L847.7,416.2L844.6,414.6L841.4,413.4L838.5,411.5L835.5,414.0L832.3,416.2Z" fill="#efe9f3"/>
<path d="M878.2,410.6L880.8,407.7L883.1,405.7L884.7,404.3L885.5,402.3L885.7,399.9L884.9,397.7L882.3,395.8L880.3,397.2L879.7,399.5L878.7,402.2L876.6,404.2L876.3,407.5L874.6,410.3Z" fill="#1f6a5b"/>
<path d="M908.0,416.8L907.7,420.8L907.3,424.0L905.7,426.8L905.4,430.0L906.8,432.4L907.7,434.9L907.7,437.7L910.8,437.0L913.8,436.2L917.7,435.5L921.5,434.6L923.6,432.7L924.6,430.0L927.7,427.7L930.8,425.4L929.1,424.0L927.7,422.3L926.7,419.2L926.1,415.9L923.7,413.3L923.1,410.0L920.5,408.0L918.5,405.4L916.7,407.9L913.8,409.2L911.5,411.1L909.2,413.1Z" fill="#cbd4e8"/>
<path d="M922.7,407.6L923.1,410.0L924.8,412.9L924.7,416.4L926.6,419.2L927.7,422.3L930.0,423.1L932.3,423.8L935.0,421.0L938.5,419.2L939.6,416.2L941.8,413.9L943.8,411.5L944.1,408.3L945.7,405.5L946.2,402.3L944.5,398.7L941.5,396.2L938.2,396.1L935.6,398.4L932.3,398.5L929.8,401.2L927.1,403.6L923.8,405.4Z" fill="#cdd5e9"/>
<path d="M915.3,440.1L913.8,443.8L913.5,447.1L914.1,450.1L915.4,453.1L918.8,453.9L921.5,456.2L923.2,459.8L923.1,463.8L925.3,466.2L927.7,468.5L930.9,468.9L933.8,470.0L937.5,471.1L940.8,473.1L940.1,470.5L938.4,468.2L938.5,465.4L938.2,462.5L936.7,460.2L935.4,457.7L935.5,454.4L936.9,451.5L934.5,449.3L932.3,446.9L930.9,443.4L927.8,441.0L926.2,437.7L923.7,436.3L921.5,434.6L918.3,434.7L915.4,436.2Z" fill="#b7cce4"/>
<path d="M925.6,433.8L926.2,437.7L929.2,439.3L932.3,440.8L932.9,437.7L932.5,434.5L933.8,431.5L932.9,428.2L930.8,425.4L927.8,427.8L924.6,430.0Z" fill="#dcdaec"/>
<path d="M972.4,383.7L971.5,386.9L971.0,390.9L972.3,394.6L973.7,397.3L975.3,399.8L976.9,402.3L980.6,403.0L984.2,404.1L987.7,405.4L986.6,401.9L987.1,398.1L986.2,394.6L989.1,392.0L990.8,388.5L992.1,385.4L994.1,382.6L995.2,379.4L996.2,376.2L994.9,373.2L995.4,370.0L992.3,370.1L991.9,369.9L989.7,369.9L986.2,369.2L984.5,372.5L981.5,374.6L979.1,376.9L977.3,378.0L976.5,378.9L973.8,380.8L973.8,380.8Z" fill="#f1f1f1"/>
<path d="M862.5,470.0L862.9,473.1L862.3,476.2L861.9,479.3L862.8,482.3L862.9,485.4L863.1,488.5L862.3,492.1L861.4,495.7L860.8,499.3L860.8,503.1L863.9,503.6L866.3,505.9L869.2,506.9L872.2,508.3L875.2,509.6L878.5,510.0L881.7,509.4L885.0,509.4L888.2,508.0L891.5,508.5L891.2,505.4L890.9,502.3L891.0,499.2L890.0,496.2L891.5,493.6L893.3,491.1L894.5,488.3L895.4,485.4L893.8,481.9L894.1,478.0L892.3,474.6L889.7,472.0L886.8,469.7L883.9,467.5L881.5,464.6L878.1,463.1L874.5,462.4L870.8,462.3L868.0,463.5L865.2,464.7L863.1,466.9Z" fill="#dfdcec"/>
<path d="M836.5,525.8L839.3,527.5L841.5,530.0L841.6,530.0L844.3,531.2L846.5,533.2L849.2,534.6L849.2,534.6L849.2,534.6L851.8,537.2L854.6,539.2L854.8,539.5L855.5,537.9L856.9,536.2L857.0,536.1L857.0,536.0L857.4,536.0L859.9,535.1L863.1,535.7L866.2,535.4L869.9,534.4L873.8,534.6L875.2,532.5L875.4,530.0L877.0,527.5L880.1,526.5L881.5,523.8L881.9,519.9L883.1,516.2L880.9,513.0L878.5,510.0L875.1,509.7L872.2,508.4L869.2,506.9L866.2,505.6L862.9,505.3L860.0,503.8L857.0,506.1L854.6,509.0L852.6,512.1L849.9,514.7L847.7,517.7L844.0,518.7L841.1,521.4L837.5,522.8L833.8,523.8Z" fill="#e2deee"/>
<path d="M874.6,531.7L878.5,531.5L878.5,531.5L878.5,531.5L878.8,531.3L881.8,529.8L882.9,529.4L884.6,528.5L885.0,528.6L885.4,528.5L884.6,525.4L881.4,525.8L878.5,524.6L876.4,526.3L873.8,526.9L872.6,529.1L870.8,530.8Z" fill="#cdd6ea"/>
<path d="M711.5,571.5L713.4,572.7L714.6,574.6L714.6,574.6L715.0,574.3L717.0,572.5L719.3,571.8L720.0,571.5L723.4,572.7L727.0,573.0L729.3,576.1L731.5,579.2L731.5,579.2L735.4,580.0L738.2,577.5L740.8,574.6L740.8,574.3L740.4,571.8L739.2,569.2L742.0,567.0L744.6,564.6L744.9,564.4L747.7,562.3L750.8,561.7L751.5,561.5L753.6,558.6L756.0,556.0L758.8,555.1L761.5,553.8L764.7,553.6L767.7,552.3L770.8,551.7L773.8,552.3L773.8,552.3L773.8,552.3L776.2,549.2L776.9,545.4L776.5,542.2L775.4,539.2L774.0,536.3L773.4,533.1L772.3,530.0L769.7,527.4L768.5,523.8L767.4,521.1L767.4,518.1L766.2,515.4L765.7,515.5L766.8,517.2L766.0,520.9L765.5,524.6L762.4,526.9L759.4,529.5L757.2,531.5L755.1,533.5L754.5,534.2L753.8,535.4L753.2,535.7L753.2,535.7L750.3,537.3L748.8,538.6L748.6,538.7L747.0,540.0L744.4,541.6L741.6,542.3L741.5,542.3L741.4,542.5L740.8,545.4L740.8,548.5L740.7,548.6L738.5,551.0L735.4,552.3L735.4,552.3L734.1,555.0L732.4,557.4L730.0,559.2L727.6,561.6L724.6,563.1L724.2,563.2L722.4,563.9L720.3,563.8L720.0,563.8L717.0,565.6L714.0,566.8L713.8,567.0L712.2,569.0L711.6,571.2Z" fill="#dedeed"/>
<path d="M777.0,524.5L776.2,526.9L775.8,530.8L775.4,534.6L776.9,537.0L778.1,539.5L778.5,542.3L781.7,543.5L783.8,546.2L786.6,544.1L790.0,543.1L791.8,539.5L793.8,536.2L794.0,533.1L793.6,529.9L794.6,526.9L792.5,524.7L791.9,521.6L790.0,519.2L786.6,518.1L783.1,518.5L781.3,521.1L778.5,522.3Z" fill="#f0f0f0"/>
<path d="M845.2,475.2L845.4,477.7L847.7,480.8L850.8,480.0L851.4,477.7L851.5,475.4L849.5,474.4L848.5,472.3L846.1,472.2L843.8,473.1Z" fill="#8fbbd9"/>
<path d="M818.5,476.2L821.0,476.1L822.8,477.4L823.0,477.0L824.6,475.4L828.0,474.9L828.3,474.7L827.7,471.5L824.6,471.2L821.5,470.8L819.3,472.1L816.9,473.1Z" fill="#c9d5ea"/>
<path d="M982.5,479.2L983.1,481.5L985.2,482.8L987.7,483.1L990.8,482.6L993.8,481.5L995.0,479.8L995.4,477.9L994.6,477.6L992.1,477.2L991.8,477.0L989.2,477.0L986.9,476.0L986.1,476.1L983.1,476.9Z" fill="#d9dcee"/>
<path d="M757.9,448.8L757.9,452.6L759.2,456.2L760.1,456.3L761.7,455.9L765.5,455.7L768.1,456.6L769.5,455.5L771.5,454.6L772.6,456.8L772.3,459.2L774.7,460.8L777.4,461.3L780.0,462.3L783.5,460.6L786.2,457.7L789.0,455.1L792.3,453.1L794.6,451.3L796.6,449.1L798.5,446.9L799.4,443.9L799.4,440.6L800.8,437.7L798.7,435.6L797.7,432.6L795.4,430.8L792.4,429.8L789.3,429.8L786.2,430.0L782.7,430.9L780.3,433.6L776.9,434.6L773.7,434.9L770.7,435.9L767.5,436.1L764.6,437.7L761.5,439.9L759.1,443.0L756.2,445.4Z" fill="#ece5f2"/>
<path d="M893.8,532.3L896.3,530.4L899.5,529.8L901.7,527.5L904.6,526.4L908.4,527.3L912.3,527.7L913.6,529.5L915.4,530.8L912.9,533.2L910.8,536.0L908.2,537.5L905.4,538.5L902.6,536.7L900.0,534.6L897.0,533.2Z" fill="#f1eaf4"/>
<path d="M757.4,494.8l0.6,2.2" fill="none"/>
</g>
<path d="M896.0,200.0L897.2,202.9L897.4,206.0L898.5,208.9L899.0,212.0L900.2,215.4L901.5,218.7L903.0,222.0L904.2,225.7L904.8,229.6L904.6,233.5L906.3,236.3L909.0,238.3L910.8,241.0L913.6,242.8L915.4,245.8L918.5,247.3L921.6,248.8L924.4,250.9L927.7,252.0L930.8,253.5L933.8,255.2L937.0,256.5L939.0,258.9L939.8,262.0L941.0,264.9L943.0,267.3L944.5,270.0L945.8,272.8L947.4,275.5L949.2,278.0L952.7,279.5L955.2,282.5L958.5,284.2L956.1,285.6L953.8,287.3L954.4,290.3L955.1,293.4L954.6,296.5L955.8,299.5L958.1,301.9L959.5,304.8L961.5,307.3L962.7,310.7L964.7,313.6L966.2,316.9L968.5,319.6L968.3,321.9L967.7,324.2L965.7,320.8L963.0,318.0L959.9,316.7L957.1,314.7L953.8,314.0L950.5,312.7L947.0,312.5L950.3,314.9L953.0,317.8L955.4,321.0L958.0,322.6L959.5,325.5L962.4,326.8L964.6,328.8L966.5,331.5L969.0,333.7L970.8,336.5L971.8,339.3L973.0,342.1L973.8,345.0L975.9,347.4L977.7,350.0L978.0,353.9L978.5,357.7L977.1,360.2L975.3,362.5L974.6,365.4L972.1,367.2L969.5,369.0L967.7,371.5L964.6,373.8L967.4,376.2L970.8,377.7L971.7,379.8L973.8,380.8L976.5,378.9L978.6,376.2L981.5,374.6L984.2,372.3L986.0,369.2L989.7,369.9L993.3,369.8L997.0,369.2L1000.0,369.1L1003.0,369.1L1006.0,368.5L1009.2,368.6L1012.2,370.2L1015.4,370.3L1018.5,370.8L1021.7,372.2L1025.0,373.7L1027.7,376.0L1029.2,378.7L1030.9,381.2L1034.0,382.6L1035.4,385.4L1036.0,388.6L1037.6,391.5L1038.5,394.6L1039.3,397.6L1039.3,400.7L1039.2,403.8L1038.0,406.8L1037.2,409.8L1037.0,413.0L1036.6,416.3L1034.7,419.1L1033.8,422.3L1032.9,425.7L1030.4,428.3L1029.2,431.5L1026.8,434.3L1023.6,436.2L1021.5,439.2L1018.7,441.4L1017.0,444.6L1017.7,448.5L1015.0,450.0L1012.3,451.5L1009.6,452.4L1007.7,454.6L1004.6,453.0L1004.1,456.2L1003.0,459.2L1004.5,462.1L1004.6,465.4L1001.5,467.6L998.5,470.0L996.2,471.7L993.5,472.5L990.8,473.0L988.2,473.9L985.5,474.4L983.0,475.4L986.2,475.7L989.2,477.0L993.2,477.0L997.0,478.5L999.7,480.5L1003.0,481.5L1004.7,482.8L1006.0,484.6L1010.0,484.5L1013.8,483.0L1017.7,483.1L1021.5,481.8L1025.4,481.5L1025.7,483.7L1025.8,486.0L1025.1,489.7L1024.2,493.3L1023.8,497.0L1020.9,498.4L1018.2,499.9L1015.4,501.5L1012.7,503.4L1009.8,505.1L1007.7,507.7L1006.9,510.3L1006.3,512.9L1005.4,515.4L1002.7,514.3L999.7,514.2L997.0,513.0L994.9,515.2L992.3,517.0L989.0,517.3L986.1,519.0L983.0,520.0L980.4,521.9L978.4,524.6L975.4,526.0L972.3,527.7L969.9,526.3L967.7,524.6L964.7,523.4L961.3,523.3L958.5,521.5L955.4,521.3L952.3,521.3L949.2,521.5L946.2,522.7L943.0,522.3L940.0,523.0L936.2,523.9L932.3,524.6L929.8,526.3L927.7,528.5L926.0,526.7L924.6,524.6L921.6,524.0L918.5,524.0L914.7,523.1L910.8,523.0L907.5,523.0L904.6,521.5L902.7,523.6L900.0,524.6L897.5,526.3L895.4,528.5L893.8,530.0L890.9,528.8L887.6,529.4L884.6,528.5L881.6,530.1L878.5,531.5L878.0,533.7L877.7,536.0L875.1,537.1L872.3,537.7L869.1,536.8L866.0,535.4L863.0,535.9L860.0,536.0L857.0,536.0L856.3,538.7L856.0,541.5L854.6,539.2L851.7,537.1L849.2,534.6L846.5,533.2L844.3,531.2L841.5,530.0L837.5,530.0L833.8,528.5L830.2,529.4L826.5,530.1L823.0,531.5L820.1,533.3L817.1,534.9L813.8,536.0L811.9,538.1L810.8,540.8L809.5,542.6L807.7,543.8L808.9,547.6L809.2,551.5L807.0,553.8L804.6,556.0L802.8,559.0L801.5,562.3L798.5,563.3L795.4,563.0L793.6,560.5L792.3,557.7L789.1,557.1L786.0,556.0L783.0,555.5L780.0,556.0L776.8,554.2L773.8,552.3L770.8,551.7L767.7,552.3L764.7,553.6L761.5,553.8L758.8,555.1L756.0,556.0L753.6,558.6L751.5,561.5L747.8,562.5L744.6,564.6L742.0,567.0L739.2,569.2L740.4,571.8L740.8,574.6L738.5,577.7L735.4,580.0L731.5,579.2L729.3,576.1L727.0,573.0L723.4,572.7L720.0,571.5L717.1,572.6L714.6,574.6L713.4,572.7L711.5,571.5L712.2,569.0L713.8,567.0L716.7,565.1L720.0,563.8L722.4,563.9L724.6,563.0L727.4,561.3L730.0,559.2L732.2,557.2L733.4,554.4L735.4,552.3L737.8,549.9L740.8,548.5L740.8,545.4L741.5,542.3L744.4,541.6L747.0,540.0L749.9,537.5L753.2,535.7L755.1,533.5L757.2,531.5L759.4,529.5L762.4,526.9L765.5,524.6L766.0,520.9L766.8,517.2L765.4,514.9L763.0,513.5L763.1,510.6L764.3,508.0L768.0,507.0L771.7,508.3L775.4,507.4L777.5,506.7L779.0,505.0L778.5,502.2L776.6,500.0L777.8,496.3L780.7,495.4L783.8,495.3L786.5,493.8L789.9,493.9L793.0,492.2L796.3,492.0L799.5,492.6L802.7,492.9L806.0,492.6L809.7,493.5L813.5,493.8L816.8,494.7L820.2,495.1L823.4,496.3L826.4,494.8L829.5,493.8L829.9,490.8L830.5,487.9L832.0,485.2L833.8,482.8L835.1,480.1L837.0,477.8L839.4,475.7L840.4,472.5L843.0,470.5L846.0,467.8L848.0,464.3L850.1,462.0L851.7,459.4L849.4,460.7L848.0,463.0L845.7,464.8L844.3,467.4L840.9,468.4L838.0,470.5L834.4,471.6L830.8,473.0L828.0,474.9L824.6,475.4L823.0,477.0L822.0,479.0L819.8,480.5L817.2,481.0L814.3,481.1L811.5,480.3L808.6,480.3L806.8,479.0L805.0,477.8L802.4,475.8L800.0,473.5L798.7,470.9L796.3,469.2L795.2,467.0L793.8,465.0L791.4,465.5L789.0,465.5L786.7,467.4L784.0,468.6L780.7,469.0L777.8,470.5L775.9,469.0L774.0,467.4L776.8,465.3L779.0,462.5L776.5,463.0L774.0,463.0L772.4,460.7L771.7,458.0L768.6,456.8L765.5,455.7L761.7,455.9L758.0,457.0L758.0,459.5L757.0,461.8L753.7,463.0L750.8,465.0L747.8,464.7L744.9,465.2L742.0,466.0L739.3,463.2L736.0,461.2L733.0,459.7L731.0,457.0L732.2,454.3L733.0,451.5L730.6,448.8L727.4,447.0L730.0,443.9L733.5,442.0L735.8,440.5L738.3,439.3L741.0,438.5L743.5,437.3L745.8,435.9L748.3,434.8L750.7,433.5L753.4,432.7L755.7,431.0L758.5,429.4L761.4,428.6L764.6,428.5L766.9,426.4L769.4,424.9L772.3,423.8L774.4,421.2L777.9,420.3L780.0,417.7L781.8,414.8L781.9,411.3L783.8,408.5L784.1,405.7L784.0,402.8L784.6,400.0L783.2,397.4L782.3,394.6L783.2,391.5L784.6,388.5L783.8,385.8L782.7,383.3L781.5,380.8L782.1,377.9L782.6,375.0L783.8,372.3L780.4,372.9L777.0,373.0L774.1,374.6L770.8,374.9L767.7,376.0L764.4,377.2L761.5,379.0L758.5,381.0L755.7,383.3L752.3,384.6L753.7,381.5L755.7,378.8L757.7,376.0L760.5,373.5L763.0,370.8L766.3,368.8L769.0,366.0L770.4,363.1L772.6,360.7L773.8,357.7L770.8,356.0L767.7,354.6L765.3,351.6L763.0,348.5L759.9,346.7L757.0,344.6L759.2,343.0L761.5,341.5L761.5,339.2L760.8,337.0L764.2,336.4L767.7,336.0L770.1,337.4L772.9,338.1L775.4,339.2L778.9,340.4L782.0,342.3L785.4,343.8L783.3,344.6L781.5,346.0L784.1,346.7L786.0,348.5L788.3,346.3L790.6,344.3L793.0,342.3L796.4,343.6L800.0,343.8L803.7,345.3L807.7,345.4L810.7,343.7L813.8,342.3L816.8,343.3L820.0,343.0L821.9,341.4L823.0,339.2L823.0,341.0L824.6,338.0L826.4,335.7L828.7,334.0L830.8,332.0L828.7,329.2L827.7,325.8L829.2,323.4L830.0,320.7L830.8,318.0L832.8,316.1L833.8,313.5L831.7,311.2L829.0,309.6L829.9,305.8L830.6,301.9L830.8,298.0L833.2,295.8L835.4,293.5L836.4,290.1L838.5,287.3L840.1,283.9L841.5,280.4L839.5,278.0L839.0,275.0L837.1,277.4L834.2,278.7L832.3,281.0L830.5,278.3L830.0,275.0L828.4,277.4L826.0,278.8L825.9,282.4L824.6,285.8L822.6,286.9L821.5,288.8L820.0,285.3L818.8,281.8L818.5,278.0L817.6,274.9L815.2,272.5L814.9,269.1L813.0,266.5L810.7,263.4L808.4,260.4L806.0,257.4L803.0,255.0L804.4,252.7L806.1,250.6L807.0,248.0L805.5,246.4L805.4,244.2L807.3,241.1L808.5,237.7L810.3,234.6L810.9,231.0L813.0,228.0L815.7,225.5L817.7,222.4L820.4,223.2L823.3,221.9L826.0,222.7L826.8,219.8L828.2,217.1L829.2,214.2L832.4,212.6L834.8,209.9L837.7,207.8L840.7,205.9L843.8,204.2L845.5,202.2L847.0,200.0L850.8,200.4L854.5,199.8L858.3,199.8L862.1,199.8L865.8,199.8L869.6,199.9L873.4,199.3L877.2,200.0L880.9,200.8L884.7,199.9L888.5,200.4L892.2,199.5Z" fill="none" stroke="#6a6a6a" stroke-width="0.8" stroke-linejoin="round"/>
</g>
<rect x="519.5" y="589.5" width="209" height="16.5" fill="#fff" fill-opacity="0.75"/>
<text x="523.8" y="602.3" font-size="12" fill="#4d4d4d" textLength="200.5" lengthAdjust="spacingAndGlyphs">© 2022 Mapbox © OpenStreetMap</text>
<rect x="516.5" y="199.7" width="763.0" height="409.59999999999997" fill="none" stroke="#e3e3e3" stroke-width="1"/>
</g>
<line x1="304" y1="1691" x2="1285" y2="1691" stroke="#c8c8c8" stroke-width="1" stroke-dasharray="1 2"/>
<g id="dots">
<circle cx="588.0" cy="1682.0" r="5" fill="#fcf0f7"/>
<circle cx="715.0" cy="1673.0" r="5" fill="#f5eaf4"/>
<circle cx="761.0" cy="1690.8" r="5" fill="#fcf0f7"/>
<circle cx="741.7" cy="1664.0" r="5" fill="#ece2f0"/>
<circle cx="818.0" cy="1656.0" r="5" fill="#fcf0f7"/>
<circle cx="737.4" cy="1668.8" r="5" fill="#f5eaf4"/>
<circle cx="699.0" cy="1680.0" r="5" fill="#f5eaf4"/>
<circle cx="771.8" cy="1680.6" r="5" fill="#fcf0f7"/>
<circle cx="684.0" cy="1672.5" r="5" fill="#ece2f0"/>
<circle cx="752.5" cy="1666.6" r="5" fill="#ece2f0"/>
<circle cx="959.0" cy="1631.6" r="5" fill="#ece2f0"/>
<circle cx="841.0" cy="1666.0" r="5" fill="#dedaeb"/>
<circle cx="690.8" cy="1690.8" r="5" fill="#fcf0f7"/>
<circle cx="845.8" cy="1674.0" r="5" fill="#f5eaf4"/>
<circle cx="958.0" cy="1668.6" r="5" fill="#f5eaf4"/>
<circle cx="747.0" cy="1644.0" r="5" fill="#dedaeb"/>
<circle cx="970.6" cy="1690.6" r="5" fill="#fcf0f7"/>
<circle cx="823.5" cy="1662.3" r="5" fill="#bbc7e1"/>
<circle cx="716.0" cy="1676.0" r="5" fill="#d0d1e6"/>
<circle cx="661.0" cy="1669.8" r="5" fill="#dedaeb"/>
<circle cx="942.0" cy="1647.6" r="5" fill="#d0d1e6"/>
<circle cx="606.8" cy="1676.0" r="5" fill="#ece2f0"/>
<circle cx="726.6" cy="1665.5" r="5" fill="#d0d1e6"/>
<circle cx="804.0" cy="1657.0" r="5" fill="#fcf0f7"/>
<circle cx="846.0" cy="1673.6" r="5" fill="#f5eaf4"/>
<circle cx="727.7" cy="1677.4" r="5" fill="#f5eaf4"/>
<circle cx="940.0" cy="1654.0" r="5" fill="#d0d1e6"/>
<circle cx="853.4" cy="1638.0" r="5" fill="#d0d1e6"/>
<circle cx="862.0" cy="1639.0" r="5" fill="#a6bddb"/>
<circle cx="679.5" cy="1666.6" r="5" fill="#a6bddb"/>
<circle cx="692.0" cy="1690.8" r="5" fill="#fcf0f7"/>
<circle cx="693.0" cy="1672.5" r="5" fill="#a6bddb"/>
<circle cx="882.0" cy="1648.0" r="5" fill="#bbc7e1"/>
<circle cx="620.0" cy="1671.5" r="5" fill="#ece2f0"/>
<circle cx="803.6" cy="1659.0" r="5" fill="#fcf0f7"/>
<circle cx="644.0" cy="1678.5" r="5" fill="#f5eaf4"/>
<circle cx="708.0" cy="1674.0" r="5" fill="#ece2f0"/>
<circle cx="768.6" cy="1662.3" r="5" fill="#ece2f0"/>
<circle cx="647.0" cy="1672.0" r="5" fill="#bbc7e1"/>
<circle cx="602.0" cy="1682.8" r="5" fill="#fcf0f7"/>
<circle cx="711.5" cy="1660.0" r="5" fill="#67a9cf"/>
<circle cx="942.0" cy="1647.8" r="5" fill="#d0d1e6"/>
<circle cx="732.0" cy="1680.0" r="5" fill="#fcf0f7"/>
<circle cx="685.5" cy="1679.0" r="5" fill="#bbc7e1"/>
<circle cx="742.8" cy="1655.8" r="5" fill="#dedaeb"/>
<circle cx="785.8" cy="1674.7" r="5" fill="#fcf0f7"/>
<circle cx="865.0" cy="1621.0" r="5" fill="#d0d1e6"/>
<circle cx="692.0" cy="1644.0" r="5" fill="#67a9cf"/>
<circle cx="825.4" cy="1655.8" r="5" fill="#bbc7e1"/>
<circle cx="727.7" cy="1690.8" r="5" fill="#fcf0f7"/>
<circle cx="690.0" cy="1624.6" r="5" fill="#a6bddb"/>
<circle cx="704.0" cy="1690.8" r="5" fill="#fcf0f7"/>
<circle cx="669.8" cy="1667.7" r="5" fill="#f5eaf4"/>
<circle cx="1232.7" cy="1690.6" r="5" fill="#fcf0f7"/>
<circle cx="783.0" cy="1651.5" r="5" fill="#d0d1e6"/>
<circle cx="957.3" cy="1668.8" r="5" fill="#f5eaf4"/>
<circle cx="817.6" cy="1657.0" r="5" fill="#f5eaf4"/>
<circle cx="1123.0" cy="1690.6" r="5" fill="#fcf0f7"/>
<circle cx="921.0" cy="1634.0" r="5" fill="#4f9dc8"/>
<circle cx="655.0" cy="1683.8" r="5" fill="#f5eaf4"/>
<circle cx="872.0" cy="1663.6" r="5" fill="#dedaeb"/>
<circle cx="715.0" cy="1619.6" r="5" fill="#3690c0"/>
<circle cx="802.0" cy="1649.0" r="5" fill="#a6bddb"/>
<circle cx="830.0" cy="1654.0" r="5" fill="#bbc7e1"/>
<circle cx="669.3" cy="1677.4" r="5" fill="#f5eaf4"/>
<circle cx="842.0" cy="1650.0" r="5" fill="#d0d1e6"/>
<circle cx="734.0" cy="1690.8" r="5" fill="#fcf0f7"/>
<circle cx="607.4" cy="1659.6" r="5" fill="#d0d1e6"/>
<circle cx="864.0" cy="1589.0" r="5" fill="#67a9cf"/>
<circle cx="680.0" cy="1677.4" r="5" fill="#d0d1e6"/>
<circle cx="786.0" cy="1690.8" r="5" fill="#fcf0f7"/>
<circle cx="802.0" cy="1640.0" r="5" fill="#d0d1e6"/>
<circle cx="704.0" cy="1651.0" r="5" fill="#67a9cf"/>
<circle cx="651.0" cy="1681.7" r="5" fill="#ece2f0"/>
<circle cx="906.0" cy="1661.6" r="5" fill="#ece2f0"/>
<circle cx="756.8" cy="1673.0" r="5" fill="#ece2f0"/>
<circle cx="971.0" cy="1690.6" r="5" fill="#fcf0f7"/>
<circle cx="998.0" cy="1690.6" r="5" fill="#fcf0f7"/>
<circle cx="859.0" cy="1565.0" r="5" fill="#4f9dc8"/>
<circle cx="995.0" cy="1560.0" r="5" fill="#1c89a5"/>
<circle cx="615.0" cy="1667.7" r="5" fill="#ece2f0"/>
<circle cx="686.0" cy="1656.4" r="5" fill="#67a9cf"/>
<circle cx="940.0" cy="1650.0" r="5" fill="#bbc7e1"/>
<circle cx="959.0" cy="1627.4" r="5" fill="#3690c0"/>
<circle cx="1002.0" cy="1642.0" r="5" fill="#87b3d5"/>
<circle cx="592.0" cy="1673.9" r="5" fill="#dedaeb"/>
<circle cx="701.8" cy="1675.0" r="5" fill="#d0d1e6"/>
<circle cx="796.0" cy="1650.5" r="5" fill="#a6bddb"/>
<circle cx="658.0" cy="1680.0" r="5" fill="#f5eaf4"/>
<circle cx="763.0" cy="1641.8" r="5" fill="#87b3d5"/>
<circle cx="976.0" cy="1667.6" r="5" fill="#f5eaf4"/>
<circle cx="807.4" cy="1661.0" r="5" fill="#67a9cf"/>
<circle cx="786.6" cy="1585.4" r="5" fill="#4f9dc8"/>
<circle cx="829.0" cy="1690.6" r="5" fill="#fcf0f7"/>
<circle cx="770.8" cy="1648.8" r="5" fill="#4f9dc8"/>
<circle cx="629.0" cy="1684.7" r="5" fill="#fcf0f7"/>
<circle cx="658.0" cy="1667.7" r="5" fill="#ece2f0"/>
<circle cx="965.0" cy="1613.0" r="5" fill="#1c89a5"/>
<circle cx="626.8" cy="1664.5" r="5" fill="#ece2f0"/>
<circle cx="911.0" cy="1635.0" r="5" fill="#a6bddb"/>
<circle cx="796.6" cy="1665.0" r="5" fill="#67a9cf"/>
<circle cx="746.0" cy="1670.4" r="5" fill="#d0d1e6"/>
<circle cx="855.0" cy="1629.0" r="5" fill="#02818a"/>
<circle cx="671.0" cy="1658.0" r="5" fill="#dedaeb"/>
<circle cx="813.0" cy="1633.0" r="5" fill="#1c89a5"/>
<circle cx="720.0" cy="1664.0" r="5" fill="#4f9dc8"/>
<circle cx="635.4" cy="1669.8" r="5" fill="#67a9cf"/>
<circle cx="654.8" cy="1672.0" r="5" fill="#ece2f0"/>
<circle cx="575.1" cy="1673.9" r="5" fill="#d0d1e6"/>
<circle cx="695.0" cy="1635.4" r="5" fill="#1c89a5"/>
<circle cx="646.0" cy="1664.5" r="5" fill="#a6bddb"/>
<circle cx="824.0" cy="1626.0" r="5" fill="#1c89a5"/>
<circle cx="1021.0" cy="1647.0" r="5" fill="#87b3d5"/>
<circle cx="604.0" cy="1664.8" r="5" fill="#d0d1e6"/>
<circle cx="644.0" cy="1667.0" r="5" fill="#a6bddb"/>
<circle cx="707.0" cy="1663.4" r="5" fill="#67a9cf"/>
<circle cx="836.0" cy="1577.0" r="5" fill="#02776f"/>
<circle cx="736.0" cy="1655.0" r="5" fill="#67a9cf"/>
<circle cx="919.0" cy="1632.6" r="5" fill="#67a9cf"/>
<circle cx="783.6" cy="1591.0" r="5" fill="#3690c0"/>
<circle cx="736.0" cy="1670.4" r="5" fill="#a6bddb"/>
<circle cx="736.0" cy="1617.0" r="5" fill="#02818a"/>
<circle cx="794.5" cy="1644.5" r="5" fill="#87b3d5"/>
<circle cx="677.4" cy="1661.8" r="5" fill="#d0d1e6"/>
<circle cx="822.5" cy="1644.5" r="5" fill="#3690c0"/>
<circle cx="939.0" cy="1590.6" r="5" fill="#016c59"/>
<circle cx="874.0" cy="1516.0" r="5" fill="#3690c0"/>
<circle cx="747.0" cy="1589.0" r="5" fill="#016c59"/>
<circle cx="800.8" cy="1612.8" r="5" fill="#02818a"/>
<circle cx="815.0" cy="1632.0" r="5" fill="#1c89a5"/>
<circle cx="841.0" cy="1554.0" r="5" fill="#02818a"/>
<circle cx="719.0" cy="1653.7" r="5" fill="#1c89a5"/>
<circle cx="769.7" cy="1667.7" r="5" fill="#ece2f0"/>
<circle cx="709.4" cy="1644.0" r="5" fill="#016c59"/>
<circle cx="762.0" cy="1657.0" r="5" fill="#a6bddb"/>
<circle cx="700.8" cy="1669.8" r="5" fill="#dedaeb"/>
<circle cx="943.0" cy="1592.0" r="5" fill="#016c59"/>
<circle cx="808.5" cy="1654.8" r="5" fill="#67a9cf"/>
<circle cx="1056.0" cy="1618.0" r="5" fill="#3690c0"/>
<circle cx="982.0" cy="1609.0" r="5" fill="#3690c0"/>
<circle cx="795.0" cy="1669.8" r="5" fill="#f5eaf4"/>
<circle cx="781.0" cy="1667.7" r="5" fill="#ece2f0"/>
<circle cx="837.0" cy="1610.0" r="5" fill="#3690c0"/>
<circle cx="788.0" cy="1625.4" r="5" fill="#02818a"/>
<circle cx="754.0" cy="1647.8" r="5" fill="#87b3d5"/>
<circle cx="878.0" cy="1643.0" r="5" fill="#67a9cf"/>
<circle cx="827.8" cy="1647.0" r="5" fill="#d0d1e6"/>
<circle cx="1054.0" cy="1599.0" r="5" fill="#3690c0"/>
<circle cx="743.8" cy="1649.4" r="5" fill="#a6bddb"/>
<circle cx="666.0" cy="1623.8" r="5" fill="#02818a"/>
<circle cx="777.0" cy="1645.6" r="5" fill="#1c89a5"/>
<circle cx="695.0" cy="1650.0" r="5" fill="#a6bddb"/>
<circle cx="822.0" cy="1636.5" r="5" fill="#4f9dc8"/>
<circle cx="722.8" cy="1646.0" r="5" fill="#87b3d5"/>
<circle cx="829.0" cy="1660.7" r="5" fill="#67a9cf"/>
<circle cx="869.0" cy="1610.0" r="5" fill="#016c59"/>
<circle cx="923.0" cy="1616.0" r="5" fill="#015a48"/>
<circle cx="724.0" cy="1674.0" r="5" fill="#87b3d5"/>
<circle cx="751.0" cy="1621.0" r="5" fill="#016c59"/>
<circle cx="927.0" cy="1649.0" r="5" fill="#87b3d5"/>
<circle cx="693.5" cy="1662.3" r="5" fill="#87b3d5"/>
<circle cx="934.0" cy="1643.0" r="5" fill="#bbc7e1"/>
<circle cx="697.0" cy="1630.4" r="5" fill="#02818a"/>
<circle cx="1050.0" cy="1584.0" r="5" fill="#014636"/>
<circle cx="822.0" cy="1637.0" r="5" fill="#67a9cf"/>
<circle cx="1007.0" cy="1579.0" r="5" fill="#014636"/>
<circle cx="922.7" cy="1492.7" r="5" fill="#014636"/>
<circle cx="731.5" cy="1651.5" r="5" fill="#dedaeb"/>
<circle cx="939.0" cy="1570.0" r="5" fill="#02818a"/>
<circle cx="899.0" cy="1623.0" r="5" fill="#02818a"/>
<circle cx="933.0" cy="1625.0" r="5" fill="#016c59"/>
<circle cx="904.0" cy="1634.0" r="5" fill="#bbc7e1"/>
<circle cx="829.0" cy="1650.5" r="5" fill="#bbc7e1"/>
<circle cx="834.0" cy="1591.6" r="5" fill="#a6bddb"/>
<circle cx="724.5" cy="1657.0" r="5" fill="#d0d1e6"/>
<circle cx="713.7" cy="1662.8" r="5" fill="#1c89a5"/>
<circle cx="675.0" cy="1651.5" r="5" fill="#3690c0"/>
<circle cx="830.0" cy="1590.6" r="5" fill="#016c59"/>
<circle cx="854.0" cy="1638.0" r="5" fill="#d0d1e6"/>
<circle cx="976.0" cy="1653.0" r="5" fill="#bbc7e1"/>
<circle cx="996.0" cy="1544.0" r="5" fill="#014636"/>
<circle cx="852.0" cy="1539.0" r="5" fill="#02818a"/>
<circle cx="717.0" cy="1639.7" r="5" fill="#02818a"/>
<circle cx="612.8" cy="1658.9" r="5" fill="#a6bddb"/>
<circle cx="690.0" cy="1582.0" r="5" fill="#016c59"/>
<circle cx="757.0" cy="1658.5" r="5" fill="#d0d1e6"/>
<circle cx="816.6" cy="1549.0" r="5" fill="#014636"/>
<circle cx="687.0" cy="1664.0" r="5" fill="#67a9cf"/>
<circle cx="859.0" cy="1622.0" r="5" fill="#3690c0"/>
<circle cx="828.0" cy="1648.0" r="5" fill="#d0d1e6"/>
<circle cx="875.0" cy="1649.0" r="5" fill="#a6bddb"/>
<circle cx="796.0" cy="1593.0" r="5" fill="#bbc7e1"/>
<circle cx="827.8" cy="1630.5" r="5" fill="#016c59"/>
<circle cx="837.0" cy="1658.0" r="5" fill="#d0d1e6"/>
<circle cx="1139.0" cy="1554.0" r="5" fill="#016c59"/>
<circle cx="676.0" cy="1599.0" r="5" fill="#3690c0"/>
<circle cx="695.7" cy="1631.0" r="5" fill="#02818a"/>
<circle cx="809.0" cy="1654.0" r="5" fill="#67a9cf"/>
<circle cx="1050.0" cy="1541.0" r="5" fill="#016c59"/>
<circle cx="947.0" cy="1562.6" r="5" fill="#016c59"/>
<circle cx="733.0" cy="1660.0" r="5" fill="#87b3d5"/>
<circle cx="719.0" cy="1637.5" r="5" fill="#3690c0"/>
<circle cx="733.0" cy="1624.0" r="5" fill="#3690c0"/>
<circle cx="919.0" cy="1564.0" r="5" fill="#016c59"/>
<circle cx="902.0" cy="1604.0" r="5" fill="#67a9cf"/>
<circle cx="834.0" cy="1655.8" r="5" fill="#67a9cf"/>
<circle cx="828.0" cy="1596.6" r="5" fill="#a6bddb"/>
<circle cx="625.0" cy="1661.0" r="5" fill="#3690c0"/>
<circle cx="1077.0" cy="1536.0" r="5" fill="#016c59"/>
<circle cx="836.7" cy="1659.6" r="5" fill="#a6bddb"/>
<circle cx="915.0" cy="1588.0" r="5" fill="#016c59"/>
<circle cx="620.0" cy="1668.0" r="5" fill="#67a9cf"/>
<circle cx="685.0" cy="1590.6" r="5" fill="#02818a"/>
<circle cx="775.0" cy="1654.8" r="5" fill="#a6bddb"/>
<circle cx="884.0" cy="1635.6" r="5" fill="#016c59"/>
<circle cx="639.0" cy="1671.5" r="5" fill="#67a9cf"/>
<circle cx="861.0" cy="1629.0" r="5" fill="#a6bddb"/>
<circle cx="771.8" cy="1633.8" r="5" fill="#016c59"/>
<circle cx="685.5" cy="1646.7" r="5" fill="#3690c0"/>
<circle cx="910.0" cy="1593.0" r="5" fill="#02818a"/>
<circle cx="1070.0" cy="1568.0" r="5" fill="#014636"/>
<circle cx="898.0" cy="1654.0" r="5" fill="#3690c0"/>
<circle cx="653.0" cy="1658.0" r="5" fill="#87b3d5"/>
<circle cx="776.7" cy="1661.8" r="5" fill="#87b3d5"/>
<circle cx="760.0" cy="1665.0" r="5" fill="#67a9cf"/>
<circle cx="713.0" cy="1638.6" r="5" fill="#016c59"/>
<circle cx="1015.0" cy="1611.0" r="5" fill="#02818a"/>
<circle cx="786.0" cy="1565.0" r="5" fill="#016c59"/>
<circle cx="652.0" cy="1653.7" r="5" fill="#87b3d5"/>
<circle cx="660.7" cy="1659.6" r="5" fill="#4f9dc8"/>
<circle cx="957.0" cy="1569.0" r="5" fill="#016c59"/>
<circle cx="1055.0" cy="1572.0" r="5" fill="#016c59"/>
<circle cx="817.0" cy="1653.0" r="5" fill="#016c59"/>
<circle cx="875.5" cy="1648.8" r="5" fill="#87b3d5"/>
<circle cx="800.0" cy="1532.0" r="5" fill="#02818a"/>
<circle cx="705.0" cy="1622.8" r="5" fill="#4f9dc8"/>
<circle cx="919.0" cy="1603.0" r="5" fill="#016c59"/>
<circle cx="843.0" cy="1653.0" r="5" fill="#67a9cf"/>
<circle cx="739.0" cy="1646.0" r="5" fill="#3690c0"/>
<circle cx="888.0" cy="1610.0" r="5" fill="#1c89a5"/>
<circle cx="636.0" cy="1658.9" r="5" fill="#3690c0"/>
<circle cx="660.0" cy="1647.8" r="5" fill="#02818a"/>
<circle cx="986.0" cy="1584.0" r="5" fill="#3690c0"/>
<circle cx="732.0" cy="1616.0" r="5" fill="#1c89a5"/>
<circle cx="790.4" cy="1629.0" r="5" fill="#4f9dc8"/>
<circle cx="748.7" cy="1657.0" r="5" fill="#016c59"/>
<circle cx="1020.0" cy="1577.0" r="5" fill="#02818a"/>
<circle cx="983.8" cy="1492.7" r="5" fill="#014636"/>
<circle cx="697.0" cy="1607.6" r="5" fill="#02818a"/>
<circle cx="790.0" cy="1630.0" r="5" fill="#4f9dc8"/>
<circle cx="1179.0" cy="1561.0" r="5" fill="#014636"/>
<circle cx="836.0" cy="1647.0" r="5" fill="#1c89a5"/>
<circle cx="822.0" cy="1619.4" r="5" fill="#3690c0"/>
<circle cx="823.0" cy="1645.0" r="5" fill="#4f9dc8"/>
<circle cx="668.8" cy="1655.0" r="5" fill="#3690c0"/>
<circle cx="1030.0" cy="1405.0" r="5" fill="#02818a"/>
<circle cx="913.0" cy="1612.0" r="5" fill="#02818a"/>
<circle cx="898.0" cy="1668.0" r="5" fill="#3690c0"/>
<circle cx="877.0" cy="1630.6" r="5" fill="#014636"/>
<circle cx="772.0" cy="1634.0" r="5" fill="#016c59"/>
<circle cx="816.0" cy="1631.0" r="5" fill="#1c89a5"/>
<circle cx="804.0" cy="1635.0" r="5" fill="#3690c0"/>
<circle cx="749.0" cy="1635.8" r="5" fill="#014636"/>
<circle cx="1005.0" cy="1625.0" r="5" fill="#016c59"/>
<circle cx="813.0" cy="1628.0" r="5" fill="#016c59"/>
<circle cx="1102.0" cy="1571.0" r="5" fill="#016c59"/>
<circle cx="1076.9" cy="1179.6" r="5" fill="#015a48"/>
<circle cx="1091.0" cy="1553.0" r="5" fill="#016c59"/>
<circle cx="898.0" cy="1576.0" r="5" fill="#016c59"/>
<circle cx="955.8" cy="1472.7" r="5" fill="#016c59"/>
<circle cx="1008.0" cy="1558.0" r="5" fill="#014636"/>
<circle cx="695.0" cy="1635.6" r="5" fill="#1c89a5"/>
<circle cx="1105.0" cy="1521.0" r="5" fill="#016c59"/>
<circle cx="848.8" cy="1482.7" r="5" fill="#02818a"/>
<circle cx="913.0" cy="1585.6" r="5" fill="#016c59"/>
<circle cx="1201.0" cy="1600.0" r="5" fill="#02818a"/>
<circle cx="921.9" cy="1301.9" r="5" fill="#015a48"/>
<circle cx="949.0" cy="1568.0" r="5" fill="#016c59"/>
<circle cx="976.0" cy="1564.0" r="5" fill="#014636"/>
<circle cx="912.6" cy="1616.0" r="5" fill="#016c59"/>
<circle cx="835.0" cy="1601.6" r="5" fill="#02776f"/>
<circle cx="755.7" cy="1657.5" r="5" fill="#02776f"/>
<circle cx="798.6" cy="1543.2" r="5" fill="#016c59"/>
<circle cx="845.0" cy="1581.0" r="5" fill="#02776f"/>
<circle cx="1105.0" cy="1562.6" r="5" fill="#014636"/>
<circle cx="729.0" cy="1514.0" r="5" fill="#016c59"/>
<circle cx="936.0" cy="1617.0" r="5" fill="#016c59"/>
<circle cx="867.0" cy="1591.0" r="5" fill="#016c59"/>
<circle cx="644.8" cy="1628.6" r="5" fill="#016c59"/>
<circle cx="828.0" cy="1628.6" r="5" fill="#016c59"/>
<circle cx="1040.8" cy="1443.8" r="5" fill="#015a48"/>
<circle cx="644.0" cy="1639.0" r="5" fill="#014636"/>
<circle cx="1024.0" cy="1612.0" r="5" fill="#014636"/>
</g>
<line x1="304.0" y1="1633.9" x2="1285.0" y2="1633.9" stroke="#a2a2a2" stroke-width="1.6"/>
<line x1="797.8" y1="1149.0" x2="797.8" y2="1722.0" stroke="#555" stroke-width="1.4"/>
<text x="306.5" y="1627.8" font-size="14.8" fill="#666" textLength="58.0" lengthAdjust="spacingAndGlyphs">Average</text>
<text x="802.0" y="1716.0" font-size="14.8" fill="#666" textLength="58.0" lengthAdjust="spacingAndGlyphs">Average</text>
</svg>
</body></html>
